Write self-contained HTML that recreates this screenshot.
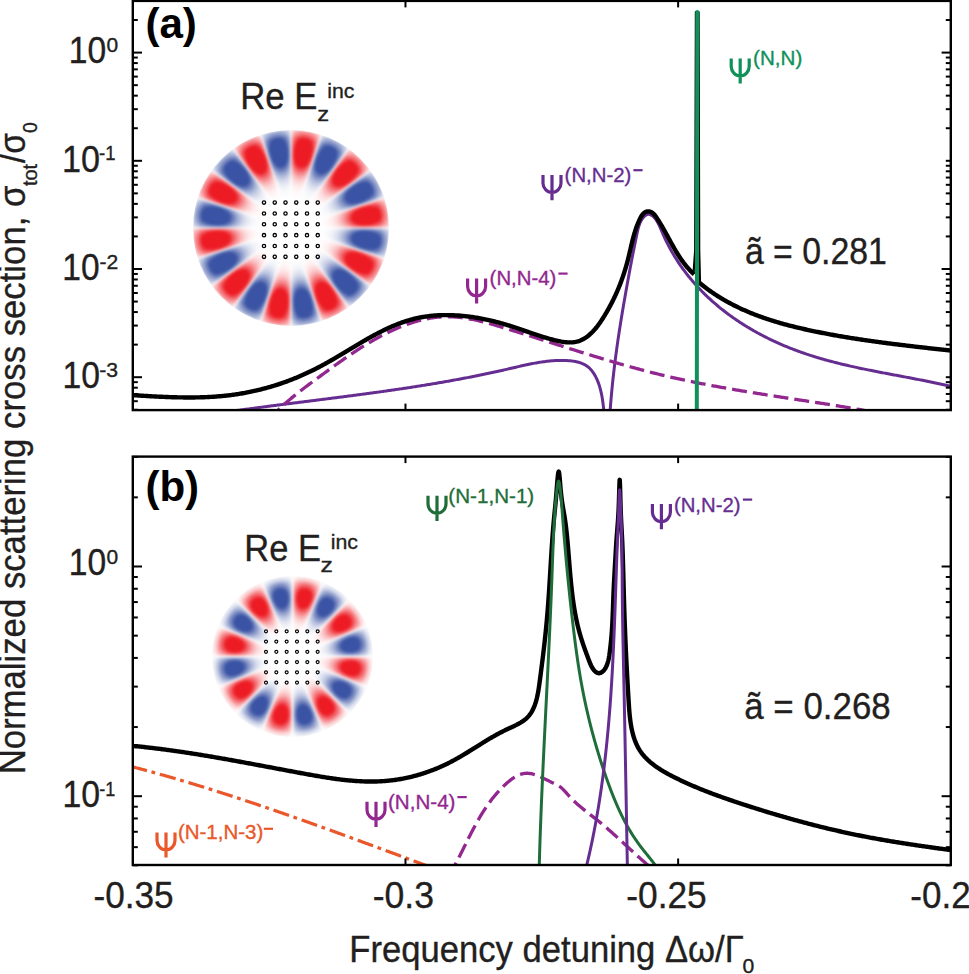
<!DOCTYPE html><html><head><meta charset="utf-8"><style>
html,body{margin:0;padding:0;background:#fff;width:969px;height:974px;overflow:hidden}
.inset{position:absolute;border-radius:50%;overflow:hidden}
svg{position:absolute;left:0;top:0}
text{font-family:"Liberation Sans",sans-serif}
</style></head><body>
<svg width="0" height="0" style="position:absolute"><defs><filter id="sata" x="0" y="0" width="1" height="1" color-interpolation-filters="sRGB"><feComponentTransfer><feFuncA type="linear" slope="1.45"/></feComponentTransfer><feGaussianBlur stdDeviation="0.8"/></filter><filter id="satb" x="0" y="0" width="1" height="1" color-interpolation-filters="sRGB"><feComponentTransfer><feFuncA type="linear" slope="1.35"/></feComponentTransfer><feGaussianBlur stdDeviation="0.8"/></filter></defs></svg>
<div class="inset" style="left:193.10px;top:130.40px;width:195.60px;height:195.60px;filter:url(#sata);-webkit-mask-image:radial-gradient(circle closest-side, rgba(0,0,0,1) 0%, rgba(0,0,0,1.000) 90.0%,rgba(0,0,0,0.998) 90.5%,rgba(0,0,0,0.992) 91.0%,rgba(0,0,0,0.982) 91.5%,rgba(0,0,0,0.969) 92.0%,rgba(0,0,0,0.953) 92.5%,rgba(0,0,0,0.935) 93.0%,rgba(0,0,0,0.915) 93.5%,rgba(0,0,0,0.894) 94.0%,rgba(0,0,0,0.872) 94.5%,rgba(0,0,0,0.850) 95.0%,rgba(0,0,0,0.828) 95.5%,rgba(0,0,0,0.806) 96.0%,rgba(0,0,0,0.785) 96.5%,rgba(0,0,0,0.765) 97.0%,rgba(0,0,0,0.747) 97.5%,rgba(0,0,0,0.731) 98.0%,rgba(0,0,0,0.718) 98.5%,rgba(0,0,0,0.708) 99.0%,rgba(0,0,0,0.702) 99.5%,rgba(0,0,0,0.700) 100.0%);mask-image:radial-gradient(circle closest-side, rgba(0,0,0,1) 0%, rgba(0,0,0,1.000) 90.0%,rgba(0,0,0,0.998) 90.5%,rgba(0,0,0,0.992) 91.0%,rgba(0,0,0,0.982) 91.5%,rgba(0,0,0,0.969) 92.0%,rgba(0,0,0,0.953) 92.5%,rgba(0,0,0,0.935) 93.0%,rgba(0,0,0,0.915) 93.5%,rgba(0,0,0,0.894) 94.0%,rgba(0,0,0,0.872) 94.5%,rgba(0,0,0,0.850) 95.0%,rgba(0,0,0,0.828) 95.5%,rgba(0,0,0,0.806) 96.0%,rgba(0,0,0,0.785) 96.5%,rgba(0,0,0,0.765) 97.0%,rgba(0,0,0,0.747) 97.5%,rgba(0,0,0,0.731) 98.0%,rgba(0,0,0,0.718) 98.5%,rgba(0,0,0,0.708) 99.0%,rgba(0,0,0,0.702) 99.5%,rgba(0,0,0,0.700) 100.0%)"><div style="width:100%;height:100%;background:conic-gradient(from 0deg, rgba(237,28,36,0.000) 0.00deg,rgba(237,28,36,0.295) 0.50deg,rgba(237,28,36,0.417) 1.00deg,rgba(237,28,36,0.509) 1.50deg,rgba(237,28,36,0.585) 2.00deg,rgba(237,28,36,0.650) 2.50deg,rgba(237,28,36,0.707) 3.00deg,rgba(237,28,36,0.757) 3.50deg,rgba(237,28,36,0.802) 4.00deg,rgba(237,28,36,0.841) 4.50deg,rgba(237,28,36,0.875) 5.00deg,rgba(237,28,36,0.905) 5.50deg,rgba(237,28,36,0.931) 6.00deg,rgba(237,28,36,0.952) 6.50deg,rgba(237,28,36,0.969) 7.00deg,rgba(237,28,36,0.983) 7.50deg,rgba(237,28,36,0.992) 8.00deg,rgba(237,28,36,0.998) 8.50deg,rgba(237,28,36,1.000) 9.00deg,rgba(237,28,36,0.998) 9.50deg,rgba(237,28,36,0.992) 10.00deg,rgba(237,28,36,0.983) 10.50deg,rgba(237,28,36,0.969) 11.00deg,rgba(237,28,36,0.952) 11.50deg,rgba(237,28,36,0.931) 12.00deg,rgba(237,28,36,0.905) 12.50deg,rgba(237,28,36,0.875) 13.00deg,rgba(237,28,36,0.841) 13.50deg,rgba(237,28,36,0.802) 14.00deg,rgba(237,28,36,0.757) 14.50deg,rgba(237,28,36,0.707) 15.00deg,rgba(237,28,36,0.650) 15.50deg,rgba(237,28,36,0.585) 16.00deg,rgba(237,28,36,0.509) 16.50deg,rgba(237,28,36,0.417) 17.00deg,rgba(237,28,36,0.295) 17.50deg,rgba(58,83,164,0.000) 18.00deg,rgba(58,83,164,0.295) 18.50deg,rgba(58,83,164,0.417) 19.00deg,rgba(58,83,164,0.509) 19.50deg,rgba(58,83,164,0.585) 20.00deg,rgba(58,83,164,0.650) 20.50deg,rgba(58,83,164,0.707) 21.00deg,rgba(58,83,164,0.757) 21.50deg,rgba(58,83,164,0.802) 22.00deg,rgba(58,83,164,0.841) 22.50deg,rgba(58,83,164,0.875) 23.00deg,rgba(58,83,164,0.905) 23.50deg,rgba(58,83,164,0.931) 24.00deg,rgba(58,83,164,0.952) 24.50deg,rgba(58,83,164,0.969) 25.00deg,rgba(58,83,164,0.983) 25.50deg,rgba(58,83,164,0.992) 26.00deg,rgba(58,83,164,0.998) 26.50deg,rgba(58,83,164,1.000) 27.00deg,rgba(58,83,164,0.998) 27.50deg,rgba(58,83,164,0.992) 28.00deg,rgba(58,83,164,0.983) 28.50deg,rgba(58,83,164,0.969) 29.00deg,rgba(58,83,164,0.952) 29.50deg,rgba(58,83,164,0.931) 30.00deg,rgba(58,83,164,0.905) 30.50deg,rgba(58,83,164,0.875) 31.00deg,rgba(58,83,164,0.841) 31.50deg,rgba(58,83,164,0.802) 32.00deg,rgba(58,83,164,0.757) 32.50deg,rgba(58,83,164,0.707) 33.00deg,rgba(58,83,164,0.650) 33.50deg,rgba(58,83,164,0.585) 34.00deg,rgba(58,83,164,0.509) 34.50deg,rgba(58,83,164,0.417) 35.00deg,rgba(58,83,164,0.295) 35.50deg,rgba(237,28,36,0.000) 36.00deg,rgba(237,28,36,0.295) 36.50deg,rgba(237,28,36,0.417) 37.00deg,rgba(237,28,36,0.509) 37.50deg,rgba(237,28,36,0.585) 38.00deg,rgba(237,28,36,0.650) 38.50deg,rgba(237,28,36,0.707) 39.00deg,rgba(237,28,36,0.757) 39.50deg,rgba(237,28,36,0.802) 40.00deg,rgba(237,28,36,0.841) 40.50deg,rgba(237,28,36,0.875) 41.00deg,rgba(237,28,36,0.905) 41.50deg,rgba(237,28,36,0.931) 42.00deg,rgba(237,28,36,0.952) 42.50deg,rgba(237,28,36,0.969) 43.00deg,rgba(237,28,36,0.983) 43.50deg,rgba(237,28,36,0.992) 44.00deg,rgba(237,28,36,0.998) 44.50deg,rgba(237,28,36,1.000) 45.00deg,rgba(237,28,36,0.998) 45.50deg,rgba(237,28,36,0.992) 46.00deg,rgba(237,28,36,0.983) 46.50deg,rgba(237,28,36,0.969) 47.00deg,rgba(237,28,36,0.952) 47.50deg,rgba(237,28,36,0.931) 48.00deg,rgba(237,28,36,0.905) 48.50deg,rgba(237,28,36,0.875) 49.00deg,rgba(237,28,36,0.841) 49.50deg,rgba(237,28,36,0.802) 50.00deg,rgba(237,28,36,0.757) 50.50deg,rgba(237,28,36,0.707) 51.00deg,rgba(237,28,36,0.650) 51.50deg,rgba(237,28,36,0.585) 52.00deg,rgba(237,28,36,0.509) 52.50deg,rgba(237,28,36,0.417) 53.00deg,rgba(237,28,36,0.295) 53.50deg,rgba(58,83,164,0.000) 54.00deg,rgba(58,83,164,0.295) 54.50deg,rgba(58,83,164,0.417) 55.00deg,rgba(58,83,164,0.509) 55.50deg,rgba(58,83,164,0.585) 56.00deg,rgba(58,83,164,0.650) 56.50deg,rgba(58,83,164,0.707) 57.00deg,rgba(58,83,164,0.757) 57.50deg,rgba(58,83,164,0.802) 58.00deg,rgba(58,83,164,0.841) 58.50deg,rgba(58,83,164,0.875) 59.00deg,rgba(58,83,164,0.905) 59.50deg,rgba(58,83,164,0.931) 60.00deg,rgba(58,83,164,0.952) 60.50deg,rgba(58,83,164,0.969) 61.00deg,rgba(58,83,164,0.983) 61.50deg,rgba(58,83,164,0.992) 62.00deg,rgba(58,83,164,0.998) 62.50deg,rgba(58,83,164,1.000) 63.00deg,rgba(58,83,164,0.998) 63.50deg,rgba(58,83,164,0.992) 64.00deg,rgba(58,83,164,0.983) 64.50deg,rgba(58,83,164,0.969) 65.00deg,rgba(58,83,164,0.952) 65.50deg,rgba(58,83,164,0.931) 66.00deg,rgba(58,83,164,0.905) 66.50deg,rgba(58,83,164,0.875) 67.00deg,rgba(58,83,164,0.841) 67.50deg,rgba(58,83,164,0.802) 68.00deg,rgba(58,83,164,0.757) 68.50deg,rgba(58,83,164,0.707) 69.00deg,rgba(58,83,164,0.650) 69.50deg,rgba(58,83,164,0.585) 70.00deg,rgba(58,83,164,0.509) 70.50deg,rgba(58,83,164,0.417) 71.00deg,rgba(58,83,164,0.295) 71.50deg,rgba(237,28,36,0.000) 72.00deg,rgba(237,28,36,0.295) 72.50deg,rgba(237,28,36,0.417) 73.00deg,rgba(237,28,36,0.509) 73.50deg,rgba(237,28,36,0.585) 74.00deg,rgba(237,28,36,0.650) 74.50deg,rgba(237,28,36,0.707) 75.00deg,rgba(237,28,36,0.757) 75.50deg,rgba(237,28,36,0.802) 76.00deg,rgba(237,28,36,0.841) 76.50deg,rgba(237,28,36,0.875) 77.00deg,rgba(237,28,36,0.905) 77.50deg,rgba(237,28,36,0.931) 78.00deg,rgba(237,28,36,0.952) 78.50deg,rgba(237,28,36,0.969) 79.00deg,rgba(237,28,36,0.983) 79.50deg,rgba(237,28,36,0.992) 80.00deg,rgba(237,28,36,0.998) 80.50deg,rgba(237,28,36,1.000) 81.00deg,rgba(237,28,36,0.998) 81.50deg,rgba(237,28,36,0.992) 82.00deg,rgba(237,28,36,0.983) 82.50deg,rgba(237,28,36,0.969) 83.00deg,rgba(237,28,36,0.952) 83.50deg,rgba(237,28,36,0.931) 84.00deg,rgba(237,28,36,0.905) 84.50deg,rgba(237,28,36,0.875) 85.00deg,rgba(237,28,36,0.841) 85.50deg,rgba(237,28,36,0.802) 86.00deg,rgba(237,28,36,0.757) 86.50deg,rgba(237,28,36,0.707) 87.00deg,rgba(237,28,36,0.650) 87.50deg,rgba(237,28,36,0.585) 88.00deg,rgba(237,28,36,0.509) 88.50deg,rgba(237,28,36,0.417) 89.00deg,rgba(237,28,36,0.295) 89.50deg,rgba(237,28,36,0.000) 90.00deg,rgba(58,83,164,0.295) 90.50deg,rgba(58,83,164,0.417) 91.00deg,rgba(58,83,164,0.509) 91.50deg,rgba(58,83,164,0.585) 92.00deg,rgba(58,83,164,0.650) 92.50deg,rgba(58,83,164,0.707) 93.00deg,rgba(58,83,164,0.757) 93.50deg,rgba(58,83,164,0.802) 94.00deg,rgba(58,83,164,0.841) 94.50deg,rgba(58,83,164,0.875) 95.00deg,rgba(58,83,164,0.905) 95.50deg,rgba(58,83,164,0.931) 96.00deg,rgba(58,83,164,0.952) 96.50deg,rgba(58,83,164,0.969) 97.00deg,rgba(58,83,164,0.983) 97.50deg,rgba(58,83,164,0.992) 98.00deg,rgba(58,83,164,0.998) 98.50deg,rgba(58,83,164,1.000) 99.00deg,rgba(58,83,164,0.998) 99.50deg,rgba(58,83,164,0.992) 100.00deg,rgba(58,83,164,0.983) 100.50deg,rgba(58,83,164,0.969) 101.00deg,rgba(58,83,164,0.952) 101.50deg,rgba(58,83,164,0.931) 102.00deg,rgba(58,83,164,0.905) 102.50deg,rgba(58,83,164,0.875) 103.00deg,rgba(58,83,164,0.841) 103.50deg,rgba(58,83,164,0.802) 104.00deg,rgba(58,83,164,0.757) 104.50deg,rgba(58,83,164,0.707) 105.00deg,rgba(58,83,164,0.650) 105.50deg,rgba(58,83,164,0.585) 106.00deg,rgba(58,83,164,0.509) 106.50deg,rgba(58,83,164,0.417) 107.00deg,rgba(58,83,164,0.295) 107.50deg,rgba(58,83,164,0.000) 108.00deg,rgba(237,28,36,0.295) 108.50deg,rgba(237,28,36,0.417) 109.00deg,rgba(237,28,36,0.509) 109.50deg,rgba(237,28,36,0.585) 110.00deg,rgba(237,28,36,0.650) 110.50deg,rgba(237,28,36,0.707) 111.00deg,rgba(237,28,36,0.757) 111.50deg,rgba(237,28,36,0.802) 112.00deg,rgba(237,28,36,0.841) 112.50deg,rgba(237,28,36,0.875) 113.00deg,rgba(237,28,36,0.905) 113.50deg,rgba(237,28,36,0.931) 114.00deg,rgba(237,28,36,0.952) 114.50deg,rgba(237,28,36,0.969) 115.00deg,rgba(237,28,36,0.983) 115.50deg,rgba(237,28,36,0.992) 116.00deg,rgba(237,28,36,0.998) 116.50deg,rgba(237,28,36,1.000) 117.00deg,rgba(237,28,36,0.998) 117.50deg,rgba(237,28,36,0.992) 118.00deg,rgba(237,28,36,0.983) 118.50deg,rgba(237,28,36,0.969) 119.00deg,rgba(237,28,36,0.952) 119.50deg,rgba(237,28,36,0.931) 120.00deg,rgba(237,28,36,0.905) 120.50deg,rgba(237,28,36,0.875) 121.00deg,rgba(237,28,36,0.841) 121.50deg,rgba(237,28,36,0.802) 122.00deg,rgba(237,28,36,0.757) 122.50deg,rgba(237,28,36,0.707) 123.00deg,rgba(237,28,36,0.650) 123.50deg,rgba(237,28,36,0.585) 124.00deg,rgba(237,28,36,0.509) 124.50deg,rgba(237,28,36,0.417) 125.00deg,rgba(237,28,36,0.295) 125.50deg,rgba(237,28,36,0.000) 126.00deg,rgba(58,83,164,0.295) 126.50deg,rgba(58,83,164,0.417) 127.00deg,rgba(58,83,164,0.509) 127.50deg,rgba(58,83,164,0.585) 128.00deg,rgba(58,83,164,0.650) 128.50deg,rgba(58,83,164,0.707) 129.00deg,rgba(58,83,164,0.757) 129.50deg,rgba(58,83,164,0.802) 130.00deg,rgba(58,83,164,0.841) 130.50deg,rgba(58,83,164,0.875) 131.00deg,rgba(58,83,164,0.905) 131.50deg,rgba(58,83,164,0.931) 132.00deg,rgba(58,83,164,0.952) 132.50deg,rgba(58,83,164,0.969) 133.00deg,rgba(58,83,164,0.983) 133.50deg,rgba(58,83,164,0.992) 134.00deg,rgba(58,83,164,0.998) 134.50deg,rgba(58,83,164,1.000) 135.00deg,rgba(58,83,164,0.998) 135.50deg,rgba(58,83,164,0.992) 136.00deg,rgba(58,83,164,0.983) 136.50deg,rgba(58,83,164,0.969) 137.00deg,rgba(58,83,164,0.952) 137.50deg,rgba(58,83,164,0.931) 138.00deg,rgba(58,83,164,0.905) 138.50deg,rgba(58,83,164,0.875) 139.00deg,rgba(58,83,164,0.841) 139.50deg,rgba(58,83,164,0.802) 140.00deg,rgba(58,83,164,0.757) 140.50deg,rgba(58,83,164,0.707) 141.00deg,rgba(58,83,164,0.650) 141.50deg,rgba(58,83,164,0.585) 142.00deg,rgba(58,83,164,0.509) 142.50deg,rgba(58,83,164,0.417) 143.00deg,rgba(58,83,164,0.295) 143.50deg,rgba(58,83,164,0.000) 144.00deg,rgba(237,28,36,0.295) 144.50deg,rgba(237,28,36,0.417) 145.00deg,rgba(237,28,36,0.509) 145.50deg,rgba(237,28,36,0.585) 146.00deg,rgba(237,28,36,0.650) 146.50deg,rgba(237,28,36,0.707) 147.00deg,rgba(237,28,36,0.757) 147.50deg,rgba(237,28,36,0.802) 148.00deg,rgba(237,28,36,0.841) 148.50deg,rgba(237,28,36,0.875) 149.00deg,rgba(237,28,36,0.905) 149.50deg,rgba(237,28,36,0.931) 150.00deg,rgba(237,28,36,0.952) 150.50deg,rgba(237,28,36,0.969) 151.00deg,rgba(237,28,36,0.983) 151.50deg,rgba(237,28,36,0.992) 152.00deg,rgba(237,28,36,0.998) 152.50deg,rgba(237,28,36,1.000) 153.00deg,rgba(237,28,36,0.998) 153.50deg,rgba(237,28,36,0.992) 154.00deg,rgba(237,28,36,0.983) 154.50deg,rgba(237,28,36,0.969) 155.00deg,rgba(237,28,36,0.952) 155.50deg,rgba(237,28,36,0.931) 156.00deg,rgba(237,28,36,0.905) 156.50deg,rgba(237,28,36,0.875) 157.00deg,rgba(237,28,36,0.841) 157.50deg,rgba(237,28,36,0.802) 158.00deg,rgba(237,28,36,0.757) 158.50deg,rgba(237,28,36,0.707) 159.00deg,rgba(237,28,36,0.650) 159.50deg,rgba(237,28,36,0.585) 160.00deg,rgba(237,28,36,0.509) 160.50deg,rgba(237,28,36,0.417) 161.00deg,rgba(237,28,36,0.295) 161.50deg,rgba(237,28,36,0.000) 162.00deg,rgba(58,83,164,0.295) 162.50deg,rgba(58,83,164,0.417) 163.00deg,rgba(58,83,164,0.509) 163.50deg,rgba(58,83,164,0.585) 164.00deg,rgba(58,83,164,0.650) 164.50deg,rgba(58,83,164,0.707) 165.00deg,rgba(58,83,164,0.757) 165.50deg,rgba(58,83,164,0.802) 166.00deg,rgba(58,83,164,0.841) 166.50deg,rgba(58,83,164,0.875) 167.00deg,rgba(58,83,164,0.905) 167.50deg,rgba(58,83,164,0.931) 168.00deg,rgba(58,83,164,0.952) 168.50deg,rgba(58,83,164,0.969) 169.00deg,rgba(58,83,164,0.983) 169.50deg,rgba(58,83,164,0.992) 170.00deg,rgba(58,83,164,0.998) 170.50deg,rgba(58,83,164,1.000) 171.00deg,rgba(58,83,164,0.998) 171.50deg,rgba(58,83,164,0.992) 172.00deg,rgba(58,83,164,0.983) 172.50deg,rgba(58,83,164,0.969) 173.00deg,rgba(58,83,164,0.952) 173.50deg,rgba(58,83,164,0.931) 174.00deg,rgba(58,83,164,0.905) 174.50deg,rgba(58,83,164,0.875) 175.00deg,rgba(58,83,164,0.841) 175.50deg,rgba(58,83,164,0.802) 176.00deg,rgba(58,83,164,0.757) 176.50deg,rgba(58,83,164,0.707) 177.00deg,rgba(58,83,164,0.650) 177.50deg,rgba(58,83,164,0.585) 178.00deg,rgba(58,83,164,0.509) 178.50deg,rgba(58,83,164,0.417) 179.00deg,rgba(58,83,164,0.295) 179.50deg,rgba(58,83,164,0.000) 180.00deg,rgba(237,28,36,0.295) 180.50deg,rgba(237,28,36,0.417) 181.00deg,rgba(237,28,36,0.509) 181.50deg,rgba(237,28,36,0.585) 182.00deg,rgba(237,28,36,0.650) 182.50deg,rgba(237,28,36,0.707) 183.00deg,rgba(237,28,36,0.757) 183.50deg,rgba(237,28,36,0.802) 184.00deg,rgba(237,28,36,0.841) 184.50deg,rgba(237,28,36,0.875) 185.00deg,rgba(237,28,36,0.905) 185.50deg,rgba(237,28,36,0.931) 186.00deg,rgba(237,28,36,0.952) 186.50deg,rgba(237,28,36,0.969) 187.00deg,rgba(237,28,36,0.983) 187.50deg,rgba(237,28,36,0.992) 188.00deg,rgba(237,28,36,0.998) 188.50deg,rgba(237,28,36,1.000) 189.00deg,rgba(237,28,36,0.998) 189.50deg,rgba(237,28,36,0.992) 190.00deg,rgba(237,28,36,0.983) 190.50deg,rgba(237,28,36,0.969) 191.00deg,rgba(237,28,36,0.952) 191.50deg,rgba(237,28,36,0.931) 192.00deg,rgba(237,28,36,0.905) 192.50deg,rgba(237,28,36,0.875) 193.00deg,rgba(237,28,36,0.841) 193.50deg,rgba(237,28,36,0.802) 194.00deg,rgba(237,28,36,0.757) 194.50deg,rgba(237,28,36,0.707) 195.00deg,rgba(237,28,36,0.650) 195.50deg,rgba(237,28,36,0.585) 196.00deg,rgba(237,28,36,0.509) 196.50deg,rgba(237,28,36,0.417) 197.00deg,rgba(237,28,36,0.295) 197.50deg,rgba(237,28,36,0.000) 198.00deg,rgba(58,83,164,0.295) 198.50deg,rgba(58,83,164,0.417) 199.00deg,rgba(58,83,164,0.509) 199.50deg,rgba(58,83,164,0.585) 200.00deg,rgba(58,83,164,0.650) 200.50deg,rgba(58,83,164,0.707) 201.00deg,rgba(58,83,164,0.757) 201.50deg,rgba(58,83,164,0.802) 202.00deg,rgba(58,83,164,0.841) 202.50deg,rgba(58,83,164,0.875) 203.00deg,rgba(58,83,164,0.905) 203.50deg,rgba(58,83,164,0.931) 204.00deg,rgba(58,83,164,0.952) 204.50deg,rgba(58,83,164,0.969) 205.00deg,rgba(58,83,164,0.983) 205.50deg,rgba(58,83,164,0.992) 206.00deg,rgba(58,83,164,0.998) 206.50deg,rgba(58,83,164,1.000) 207.00deg,rgba(58,83,164,0.998) 207.50deg,rgba(58,83,164,0.992) 208.00deg,rgba(58,83,164,0.983) 208.50deg,rgba(58,83,164,0.969) 209.00deg,rgba(58,83,164,0.952) 209.50deg,rgba(58,83,164,0.931) 210.00deg,rgba(58,83,164,0.905) 210.50deg,rgba(58,83,164,0.875) 211.00deg,rgba(58,83,164,0.841) 211.50deg,rgba(58,83,164,0.802) 212.00deg,rgba(58,83,164,0.757) 212.50deg,rgba(58,83,164,0.707) 213.00deg,rgba(58,83,164,0.650) 213.50deg,rgba(58,83,164,0.585) 214.00deg,rgba(58,83,164,0.509) 214.50deg,rgba(58,83,164,0.417) 215.00deg,rgba(58,83,164,0.295) 215.50deg,rgba(58,83,164,0.000) 216.00deg,rgba(237,28,36,0.295) 216.50deg,rgba(237,28,36,0.417) 217.00deg,rgba(237,28,36,0.509) 217.50deg,rgba(237,28,36,0.585) 218.00deg,rgba(237,28,36,0.650) 218.50deg,rgba(237,28,36,0.707) 219.00deg,rgba(237,28,36,0.757) 219.50deg,rgba(237,28,36,0.802) 220.00deg,rgba(237,28,36,0.841) 220.50deg,rgba(237,28,36,0.875) 221.00deg,rgba(237,28,36,0.905) 221.50deg,rgba(237,28,36,0.931) 222.00deg,rgba(237,28,36,0.952) 222.50deg,rgba(237,28,36,0.969) 223.00deg,rgba(237,28,36,0.983) 223.50deg,rgba(237,28,36,0.992) 224.00deg,rgba(237,28,36,0.998) 224.50deg,rgba(237,28,36,1.000) 225.00deg,rgba(237,28,36,0.998) 225.50deg,rgba(237,28,36,0.992) 226.00deg,rgba(237,28,36,0.983) 226.50deg,rgba(237,28,36,0.969) 227.00deg,rgba(237,28,36,0.952) 227.50deg,rgba(237,28,36,0.931) 228.00deg,rgba(237,28,36,0.905) 228.50deg,rgba(237,28,36,0.875) 229.00deg,rgba(237,28,36,0.841) 229.50deg,rgba(237,28,36,0.802) 230.00deg,rgba(237,28,36,0.757) 230.50deg,rgba(237,28,36,0.707) 231.00deg,rgba(237,28,36,0.650) 231.50deg,rgba(237,28,36,0.585) 232.00deg,rgba(237,28,36,0.509) 232.50deg,rgba(237,28,36,0.417) 233.00deg,rgba(237,28,36,0.295) 233.50deg,rgba(237,28,36,0.000) 234.00deg,rgba(58,83,164,0.295) 234.50deg,rgba(58,83,164,0.417) 235.00deg,rgba(58,83,164,0.509) 235.50deg,rgba(58,83,164,0.585) 236.00deg,rgba(58,83,164,0.650) 236.50deg,rgba(58,83,164,0.707) 237.00deg,rgba(58,83,164,0.757) 237.50deg,rgba(58,83,164,0.802) 238.00deg,rgba(58,83,164,0.841) 238.50deg,rgba(58,83,164,0.875) 239.00deg,rgba(58,83,164,0.905) 239.50deg,rgba(58,83,164,0.931) 240.00deg,rgba(58,83,164,0.952) 240.50deg,rgba(58,83,164,0.969) 241.00deg,rgba(58,83,164,0.983) 241.50deg,rgba(58,83,164,0.992) 242.00deg,rgba(58,83,164,0.998) 242.50deg,rgba(58,83,164,1.000) 243.00deg,rgba(58,83,164,0.998) 243.50deg,rgba(58,83,164,0.992) 244.00deg,rgba(58,83,164,0.983) 244.50deg,rgba(58,83,164,0.969) 245.00deg,rgba(58,83,164,0.952) 245.50deg,rgba(58,83,164,0.931) 246.00deg,rgba(58,83,164,0.905) 246.50deg,rgba(58,83,164,0.875) 247.00deg,rgba(58,83,164,0.841) 247.50deg,rgba(58,83,164,0.802) 248.00deg,rgba(58,83,164,0.757) 248.50deg,rgba(58,83,164,0.707) 249.00deg,rgba(58,83,164,0.650) 249.50deg,rgba(58,83,164,0.585) 250.00deg,rgba(58,83,164,0.509) 250.50deg,rgba(58,83,164,0.417) 251.00deg,rgba(58,83,164,0.295) 251.50deg,rgba(58,83,164,0.000) 252.00deg,rgba(237,28,36,0.295) 252.50deg,rgba(237,28,36,0.417) 253.00deg,rgba(237,28,36,0.509) 253.50deg,rgba(237,28,36,0.585) 254.00deg,rgba(237,28,36,0.650) 254.50deg,rgba(237,28,36,0.707) 255.00deg,rgba(237,28,36,0.757) 255.50deg,rgba(237,28,36,0.802) 256.00deg,rgba(237,28,36,0.841) 256.50deg,rgba(237,28,36,0.875) 257.00deg,rgba(237,28,36,0.905) 257.50deg,rgba(237,28,36,0.931) 258.00deg,rgba(237,28,36,0.952) 258.50deg,rgba(237,28,36,0.969) 259.00deg,rgba(237,28,36,0.983) 259.50deg,rgba(237,28,36,0.992) 260.00deg,rgba(237,28,36,0.998) 260.50deg,rgba(237,28,36,1.000) 261.00deg,rgba(237,28,36,0.998) 261.50deg,rgba(237,28,36,0.992) 262.00deg,rgba(237,28,36,0.983) 262.50deg,rgba(237,28,36,0.969) 263.00deg,rgba(237,28,36,0.952) 263.50deg,rgba(237,28,36,0.931) 264.00deg,rgba(237,28,36,0.905) 264.50deg,rgba(237,28,36,0.875) 265.00deg,rgba(237,28,36,0.841) 265.50deg,rgba(237,28,36,0.802) 266.00deg,rgba(237,28,36,0.757) 266.50deg,rgba(237,28,36,0.707) 267.00deg,rgba(237,28,36,0.650) 267.50deg,rgba(237,28,36,0.585) 268.00deg,rgba(237,28,36,0.509) 268.50deg,rgba(237,28,36,0.417) 269.00deg,rgba(237,28,36,0.295) 269.50deg,rgba(237,28,36,0.000) 270.00deg,rgba(58,83,164,0.295) 270.50deg,rgba(58,83,164,0.417) 271.00deg,rgba(58,83,164,0.509) 271.50deg,rgba(58,83,164,0.585) 272.00deg,rgba(58,83,164,0.650) 272.50deg,rgba(58,83,164,0.707) 273.00deg,rgba(58,83,164,0.757) 273.50deg,rgba(58,83,164,0.802) 274.00deg,rgba(58,83,164,0.841) 274.50deg,rgba(58,83,164,0.875) 275.00deg,rgba(58,83,164,0.905) 275.50deg,rgba(58,83,164,0.931) 276.00deg,rgba(58,83,164,0.952) 276.50deg,rgba(58,83,164,0.969) 277.00deg,rgba(58,83,164,0.983) 277.50deg,rgba(58,83,164,0.992) 278.00deg,rgba(58,83,164,0.998) 278.50deg,rgba(58,83,164,1.000) 279.00deg,rgba(58,83,164,0.998) 279.50deg,rgba(58,83,164,0.992) 280.00deg,rgba(58,83,164,0.983) 280.50deg,rgba(58,83,164,0.969) 281.00deg,rgba(58,83,164,0.952) 281.50deg,rgba(58,83,164,0.931) 282.00deg,rgba(58,83,164,0.905) 282.50deg,rgba(58,83,164,0.875) 283.00deg,rgba(58,83,164,0.841) 283.50deg,rgba(58,83,164,0.802) 284.00deg,rgba(58,83,164,0.757) 284.50deg,rgba(58,83,164,0.707) 285.00deg,rgba(58,83,164,0.650) 285.50deg,rgba(58,83,164,0.585) 286.00deg,rgba(58,83,164,0.509) 286.50deg,rgba(58,83,164,0.417) 287.00deg,rgba(58,83,164,0.295) 287.50deg,rgba(58,83,164,0.000) 288.00deg,rgba(237,28,36,0.295) 288.50deg,rgba(237,28,36,0.417) 289.00deg,rgba(237,28,36,0.509) 289.50deg,rgba(237,28,36,0.585) 290.00deg,rgba(237,28,36,0.650) 290.50deg,rgba(237,28,36,0.707) 291.00deg,rgba(237,28,36,0.757) 291.50deg,rgba(237,28,36,0.802) 292.00deg,rgba(237,28,36,0.841) 292.50deg,rgba(237,28,36,0.875) 293.00deg,rgba(237,28,36,0.905) 293.50deg,rgba(237,28,36,0.931) 294.00deg,rgba(237,28,36,0.952) 294.50deg,rgba(237,28,36,0.969) 295.00deg,rgba(237,28,36,0.983) 295.50deg,rgba(237,28,36,0.992) 296.00deg,rgba(237,28,36,0.998) 296.50deg,rgba(237,28,36,1.000) 297.00deg,rgba(237,28,36,0.998) 297.50deg,rgba(237,28,36,0.992) 298.00deg,rgba(237,28,36,0.983) 298.50deg,rgba(237,28,36,0.969) 299.00deg,rgba(237,28,36,0.952) 299.50deg,rgba(237,28,36,0.931) 300.00deg,rgba(237,28,36,0.905) 300.50deg,rgba(237,28,36,0.875) 301.00deg,rgba(237,28,36,0.841) 301.50deg,rgba(237,28,36,0.802) 302.00deg,rgba(237,28,36,0.757) 302.50deg,rgba(237,28,36,0.707) 303.00deg,rgba(237,28,36,0.650) 303.50deg,rgba(237,28,36,0.585) 304.00deg,rgba(237,28,36,0.509) 304.50deg,rgba(237,28,36,0.417) 305.00deg,rgba(237,28,36,0.295) 305.50deg,rgba(237,28,36,0.000) 306.00deg,rgba(58,83,164,0.295) 306.50deg,rgba(58,83,164,0.417) 307.00deg,rgba(58,83,164,0.509) 307.50deg,rgba(58,83,164,0.585) 308.00deg,rgba(58,83,164,0.650) 308.50deg,rgba(58,83,164,0.707) 309.00deg,rgba(58,83,164,0.757) 309.50deg,rgba(58,83,164,0.802) 310.00deg,rgba(58,83,164,0.841) 310.50deg,rgba(58,83,164,0.875) 311.00deg,rgba(58,83,164,0.905) 311.50deg,rgba(58,83,164,0.931) 312.00deg,rgba(58,83,164,0.952) 312.50deg,rgba(58,83,164,0.969) 313.00deg,rgba(58,83,164,0.983) 313.50deg,rgba(58,83,164,0.992) 314.00deg,rgba(58,83,164,0.998) 314.50deg,rgba(58,83,164,1.000) 315.00deg,rgba(58,83,164,0.998) 315.50deg,rgba(58,83,164,0.992) 316.00deg,rgba(58,83,164,0.983) 316.50deg,rgba(58,83,164,0.969) 317.00deg,rgba(58,83,164,0.952) 317.50deg,rgba(58,83,164,0.931) 318.00deg,rgba(58,83,164,0.905) 318.50deg,rgba(58,83,164,0.875) 319.00deg,rgba(58,83,164,0.841) 319.50deg,rgba(58,83,164,0.802) 320.00deg,rgba(58,83,164,0.757) 320.50deg,rgba(58,83,164,0.707) 321.00deg,rgba(58,83,164,0.650) 321.50deg,rgba(58,83,164,0.585) 322.00deg,rgba(58,83,164,0.509) 322.50deg,rgba(58,83,164,0.417) 323.00deg,rgba(58,83,164,0.295) 323.50deg,rgba(237,28,36,0.000) 324.00deg,rgba(237,28,36,0.295) 324.50deg,rgba(237,28,36,0.417) 325.00deg,rgba(237,28,36,0.509) 325.50deg,rgba(237,28,36,0.585) 326.00deg,rgba(237,28,36,0.650) 326.50deg,rgba(237,28,36,0.707) 327.00deg,rgba(237,28,36,0.757) 327.50deg,rgba(237,28,36,0.802) 328.00deg,rgba(237,28,36,0.841) 328.50deg,rgba(237,28,36,0.875) 329.00deg,rgba(237,28,36,0.905) 329.50deg,rgba(237,28,36,0.931) 330.00deg,rgba(237,28,36,0.952) 330.50deg,rgba(237,28,36,0.969) 331.00deg,rgba(237,28,36,0.983) 331.50deg,rgba(237,28,36,0.992) 332.00deg,rgba(237,28,36,0.998) 332.50deg,rgba(237,28,36,1.000) 333.00deg,rgba(237,28,36,0.998) 333.50deg,rgba(237,28,36,0.992) 334.00deg,rgba(237,28,36,0.983) 334.50deg,rgba(237,28,36,0.969) 335.00deg,rgba(237,28,36,0.952) 335.50deg,rgba(237,28,36,0.931) 336.00deg,rgba(237,28,36,0.905) 336.50deg,rgba(237,28,36,0.875) 337.00deg,rgba(237,28,36,0.841) 337.50deg,rgba(237,28,36,0.802) 338.00deg,rgba(237,28,36,0.757) 338.50deg,rgba(237,28,36,0.707) 339.00deg,rgba(237,28,36,0.650) 339.50deg,rgba(237,28,36,0.585) 340.00deg,rgba(237,28,36,0.509) 340.50deg,rgba(237,28,36,0.417) 341.00deg,rgba(237,28,36,0.295) 341.50deg,rgba(237,28,36,0.000) 342.00deg,rgba(58,83,164,0.295) 342.50deg,rgba(58,83,164,0.417) 343.00deg,rgba(58,83,164,0.509) 343.50deg,rgba(58,83,164,0.585) 344.00deg,rgba(58,83,164,0.650) 344.50deg,rgba(58,83,164,0.707) 345.00deg,rgba(58,83,164,0.757) 345.50deg,rgba(58,83,164,0.802) 346.00deg,rgba(58,83,164,0.841) 346.50deg,rgba(58,83,164,0.875) 347.00deg,rgba(58,83,164,0.905) 347.50deg,rgba(58,83,164,0.931) 348.00deg,rgba(58,83,164,0.952) 348.50deg,rgba(58,83,164,0.969) 349.00deg,rgba(58,83,164,0.983) 349.50deg,rgba(58,83,164,0.992) 350.00deg,rgba(58,83,164,0.998) 350.50deg,rgba(58,83,164,1.000) 351.00deg,rgba(58,83,164,0.998) 351.50deg,rgba(58,83,164,0.992) 352.00deg,rgba(58,83,164,0.983) 352.50deg,rgba(58,83,164,0.969) 353.00deg,rgba(58,83,164,0.952) 353.50deg,rgba(58,83,164,0.931) 354.00deg,rgba(58,83,164,0.905) 354.50deg,rgba(58,83,164,0.875) 355.00deg,rgba(58,83,164,0.841) 355.50deg,rgba(58,83,164,0.802) 356.00deg,rgba(58,83,164,0.757) 356.50deg,rgba(58,83,164,0.707) 357.00deg,rgba(58,83,164,0.650) 357.50deg,rgba(58,83,164,0.585) 358.00deg,rgba(58,83,164,0.509) 358.50deg,rgba(58,83,164,0.417) 359.00deg,rgba(58,83,164,0.295) 359.50deg,rgba(58,83,164,0.000) 360.00deg);-webkit-mask-image:radial-gradient(circle closest-side, rgba(0,0,0,0.000) 0.0%,rgba(0,0,0,0.000) 2.0%,rgba(0,0,0,0.000) 4.0%,rgba(0,0,0,0.000) 6.0%,rgba(0,0,0,0.000) 8.0%,rgba(0,0,0,0.000) 10.0%,rgba(0,0,0,0.000) 12.0%,rgba(0,0,0,0.000) 14.0%,rgba(0,0,0,0.000) 16.0%,rgba(0,0,0,0.000) 18.0%,rgba(0,0,0,0.000) 20.0%,rgba(0,0,0,0.001) 22.0%,rgba(0,0,0,0.001) 24.0%,rgba(0,0,0,0.002) 26.0%,rgba(0,0,0,0.003) 28.0%,rgba(0,0,0,0.005) 30.0%,rgba(0,0,0,0.008) 32.0%,rgba(0,0,0,0.012) 34.0%,rgba(0,0,0,0.018) 36.0%,rgba(0,0,0,0.027) 38.0%,rgba(0,0,0,0.039) 40.0%,rgba(0,0,0,0.056) 42.0%,rgba(0,0,0,0.077) 44.0%,rgba(0,0,0,0.105) 46.0%,rgba(0,0,0,0.141) 48.0%,rgba(0,0,0,0.185) 50.0%,rgba(0,0,0,0.237) 52.0%,rgba(0,0,0,0.298) 54.0%,rgba(0,0,0,0.368) 56.0%,rgba(0,0,0,0.445) 58.0%,rgba(0,0,0,0.527) 60.0%,rgba(0,0,0,0.613) 62.0%,rgba(0,0,0,0.698) 64.0%,rgba(0,0,0,0.779) 66.0%,rgba(0,0,0,0.852) 68.0%,rgba(0,0,0,0.914) 70.0%,rgba(0,0,0,0.961) 72.0%,rgba(0,0,0,0.990) 74.0%,rgba(0,0,0,1.000) 76.0%,rgba(0,0,0,0.994) 78.0%,rgba(0,0,0,0.977) 80.0%,rgba(0,0,0,0.948) 82.0%,rgba(0,0,0,0.910) 84.0%,rgba(0,0,0,0.862) 86.0%,rgba(0,0,0,0.808) 88.0%,rgba(0,0,0,0.748) 90.0%,rgba(0,0,0,0.685) 92.0%,rgba(0,0,0,0.619) 94.0%,rgba(0,0,0,0.553) 96.0%,rgba(0,0,0,0.489) 98.0%,rgba(0,0,0,0.427) 100.0%);mask-image:radial-gradient(circle closest-side, rgba(0,0,0,0.000) 0.0%,rgba(0,0,0,0.000) 2.0%,rgba(0,0,0,0.000) 4.0%,rgba(0,0,0,0.000) 6.0%,rgba(0,0,0,0.000) 8.0%,rgba(0,0,0,0.000) 10.0%,rgba(0,0,0,0.000) 12.0%,rgba(0,0,0,0.000) 14.0%,rgba(0,0,0,0.000) 16.0%,rgba(0,0,0,0.000) 18.0%,rgba(0,0,0,0.000) 20.0%,rgba(0,0,0,0.001) 22.0%,rgba(0,0,0,0.001) 24.0%,rgba(0,0,0,0.002) 26.0%,rgba(0,0,0,0.003) 28.0%,rgba(0,0,0,0.005) 30.0%,rgba(0,0,0,0.008) 32.0%,rgba(0,0,0,0.012) 34.0%,rgba(0,0,0,0.018) 36.0%,rgba(0,0,0,0.027) 38.0%,rgba(0,0,0,0.039) 40.0%,rgba(0,0,0,0.056) 42.0%,rgba(0,0,0,0.077) 44.0%,rgba(0,0,0,0.105) 46.0%,rgba(0,0,0,0.141) 48.0%,rgba(0,0,0,0.185) 50.0%,rgba(0,0,0,0.237) 52.0%,rgba(0,0,0,0.298) 54.0%,rgba(0,0,0,0.368) 56.0%,rgba(0,0,0,0.445) 58.0%,rgba(0,0,0,0.527) 60.0%,rgba(0,0,0,0.613) 62.0%,rgba(0,0,0,0.698) 64.0%,rgba(0,0,0,0.779) 66.0%,rgba(0,0,0,0.852) 68.0%,rgba(0,0,0,0.914) 70.0%,rgba(0,0,0,0.961) 72.0%,rgba(0,0,0,0.990) 74.0%,rgba(0,0,0,1.000) 76.0%,rgba(0,0,0,0.994) 78.0%,rgba(0,0,0,0.977) 80.0%,rgba(0,0,0,0.948) 82.0%,rgba(0,0,0,0.910) 84.0%,rgba(0,0,0,0.862) 86.0%,rgba(0,0,0,0.808) 88.0%,rgba(0,0,0,0.748) 90.0%,rgba(0,0,0,0.685) 92.0%,rgba(0,0,0,0.619) 94.0%,rgba(0,0,0,0.553) 96.0%,rgba(0,0,0,0.489) 98.0%,rgba(0,0,0,0.427) 100.0%)"></div></div>
<div class="inset" style="left:211.80px;top:576.20px;width:161.00px;height:161.00px;filter:url(#satb);-webkit-mask-image:radial-gradient(circle closest-side, rgba(0,0,0,1) 0%, rgba(0,0,0,1.000) 90.0%,rgba(0,0,0,0.996) 90.5%,rgba(0,0,0,0.986) 91.0%,rgba(0,0,0,0.970) 91.5%,rgba(0,0,0,0.948) 92.0%,rgba(0,0,0,0.922) 92.5%,rgba(0,0,0,0.892) 93.0%,rgba(0,0,0,0.859) 93.5%,rgba(0,0,0,0.824) 94.0%,rgba(0,0,0,0.787) 94.5%,rgba(0,0,0,0.750) 95.0%,rgba(0,0,0,0.713) 95.5%,rgba(0,0,0,0.676) 96.0%,rgba(0,0,0,0.641) 96.5%,rgba(0,0,0,0.608) 97.0%,rgba(0,0,0,0.578) 97.5%,rgba(0,0,0,0.552) 98.0%,rgba(0,0,0,0.530) 98.5%,rgba(0,0,0,0.514) 99.0%,rgba(0,0,0,0.504) 99.5%,rgba(0,0,0,0.500) 100.0%);mask-image:radial-gradient(circle closest-side, rgba(0,0,0,1) 0%, rgba(0,0,0,1.000) 90.0%,rgba(0,0,0,0.996) 90.5%,rgba(0,0,0,0.986) 91.0%,rgba(0,0,0,0.970) 91.5%,rgba(0,0,0,0.948) 92.0%,rgba(0,0,0,0.922) 92.5%,rgba(0,0,0,0.892) 93.0%,rgba(0,0,0,0.859) 93.5%,rgba(0,0,0,0.824) 94.0%,rgba(0,0,0,0.787) 94.5%,rgba(0,0,0,0.750) 95.0%,rgba(0,0,0,0.713) 95.5%,rgba(0,0,0,0.676) 96.0%,rgba(0,0,0,0.641) 96.5%,rgba(0,0,0,0.608) 97.0%,rgba(0,0,0,0.578) 97.5%,rgba(0,0,0,0.552) 98.0%,rgba(0,0,0,0.530) 98.5%,rgba(0,0,0,0.514) 99.0%,rgba(0,0,0,0.504) 99.5%,rgba(0,0,0,0.500) 100.0%)"><div style="width:100%;height:100%;background:conic-gradient(from 0deg, rgba(237,28,36,0.000) 0.00deg,rgba(237,28,36,0.177) 0.50deg,rgba(237,28,36,0.278) 1.00deg,rgba(237,28,36,0.360) 1.50deg,rgba(237,28,36,0.433) 2.00deg,rgba(237,28,36,0.498) 2.50deg,rgba(237,28,36,0.557) 3.00deg,rgba(237,28,36,0.612) 3.50deg,rgba(237,28,36,0.662) 4.00deg,rgba(237,28,36,0.708) 4.50deg,rgba(237,28,36,0.750) 5.00deg,rgba(237,28,36,0.789) 5.50deg,rgba(237,28,36,0.825) 6.00deg,rgba(237,28,36,0.857) 6.50deg,rgba(237,28,36,0.885) 7.00deg,rgba(237,28,36,0.911) 7.50deg,rgba(237,28,36,0.933) 8.00deg,rgba(237,28,36,0.952) 8.50deg,rgba(237,28,36,0.968) 9.00deg,rgba(237,28,36,0.981) 9.50deg,rgba(237,28,36,0.990) 10.00deg,rgba(237,28,36,0.996) 10.50deg,rgba(237,28,36,1.000) 11.00deg,rgba(237,28,36,1.000) 11.50deg,rgba(237,28,36,0.996) 12.00deg,rgba(237,28,36,0.990) 12.50deg,rgba(237,28,36,0.981) 13.00deg,rgba(237,28,36,0.968) 13.50deg,rgba(237,28,36,0.952) 14.00deg,rgba(237,28,36,0.933) 14.50deg,rgba(237,28,36,0.911) 15.00deg,rgba(237,28,36,0.885) 15.50deg,rgba(237,28,36,0.857) 16.00deg,rgba(237,28,36,0.825) 16.50deg,rgba(237,28,36,0.789) 17.00deg,rgba(237,28,36,0.750) 17.50deg,rgba(237,28,36,0.708) 18.00deg,rgba(237,28,36,0.662) 18.50deg,rgba(237,28,36,0.612) 19.00deg,rgba(237,28,36,0.557) 19.50deg,rgba(237,28,36,0.498) 20.00deg,rgba(237,28,36,0.433) 20.50deg,rgba(237,28,36,0.360) 21.00deg,rgba(237,28,36,0.278) 21.50deg,rgba(237,28,36,0.177) 22.00deg,rgba(58,83,164,0.000) 22.50deg,rgba(58,83,164,0.177) 23.00deg,rgba(58,83,164,0.278) 23.50deg,rgba(58,83,164,0.360) 24.00deg,rgba(58,83,164,0.433) 24.50deg,rgba(58,83,164,0.498) 25.00deg,rgba(58,83,164,0.557) 25.50deg,rgba(58,83,164,0.612) 26.00deg,rgba(58,83,164,0.662) 26.50deg,rgba(58,83,164,0.708) 27.00deg,rgba(58,83,164,0.750) 27.50deg,rgba(58,83,164,0.789) 28.00deg,rgba(58,83,164,0.825) 28.50deg,rgba(58,83,164,0.857) 29.00deg,rgba(58,83,164,0.885) 29.50deg,rgba(58,83,164,0.911) 30.00deg,rgba(58,83,164,0.933) 30.50deg,rgba(58,83,164,0.952) 31.00deg,rgba(58,83,164,0.968) 31.50deg,rgba(58,83,164,0.981) 32.00deg,rgba(58,83,164,0.990) 32.50deg,rgba(58,83,164,0.996) 33.00deg,rgba(58,83,164,1.000) 33.50deg,rgba(58,83,164,1.000) 34.00deg,rgba(58,83,164,0.996) 34.50deg,rgba(58,83,164,0.990) 35.00deg,rgba(58,83,164,0.981) 35.50deg,rgba(58,83,164,0.968) 36.00deg,rgba(58,83,164,0.952) 36.50deg,rgba(58,83,164,0.933) 37.00deg,rgba(58,83,164,0.911) 37.50deg,rgba(58,83,164,0.885) 38.00deg,rgba(58,83,164,0.857) 38.50deg,rgba(58,83,164,0.825) 39.00deg,rgba(58,83,164,0.789) 39.50deg,rgba(58,83,164,0.750) 40.00deg,rgba(58,83,164,0.708) 40.50deg,rgba(58,83,164,0.662) 41.00deg,rgba(58,83,164,0.612) 41.50deg,rgba(58,83,164,0.557) 42.00deg,rgba(58,83,164,0.498) 42.50deg,rgba(58,83,164,0.433) 43.00deg,rgba(58,83,164,0.360) 43.50deg,rgba(58,83,164,0.278) 44.00deg,rgba(58,83,164,0.177) 44.50deg,rgba(237,28,36,0.000) 45.00deg,rgba(237,28,36,0.177) 45.50deg,rgba(237,28,36,0.278) 46.00deg,rgba(237,28,36,0.360) 46.50deg,rgba(237,28,36,0.433) 47.00deg,rgba(237,28,36,0.498) 47.50deg,rgba(237,28,36,0.557) 48.00deg,rgba(237,28,36,0.612) 48.50deg,rgba(237,28,36,0.662) 49.00deg,rgba(237,28,36,0.708) 49.50deg,rgba(237,28,36,0.750) 50.00deg,rgba(237,28,36,0.789) 50.50deg,rgba(237,28,36,0.825) 51.00deg,rgba(237,28,36,0.857) 51.50deg,rgba(237,28,36,0.885) 52.00deg,rgba(237,28,36,0.911) 52.50deg,rgba(237,28,36,0.933) 53.00deg,rgba(237,28,36,0.952) 53.50deg,rgba(237,28,36,0.968) 54.00deg,rgba(237,28,36,0.981) 54.50deg,rgba(237,28,36,0.990) 55.00deg,rgba(237,28,36,0.996) 55.50deg,rgba(237,28,36,1.000) 56.00deg,rgba(237,28,36,1.000) 56.50deg,rgba(237,28,36,0.996) 57.00deg,rgba(237,28,36,0.990) 57.50deg,rgba(237,28,36,0.981) 58.00deg,rgba(237,28,36,0.968) 58.50deg,rgba(237,28,36,0.952) 59.00deg,rgba(237,28,36,0.933) 59.50deg,rgba(237,28,36,0.911) 60.00deg,rgba(237,28,36,0.885) 60.50deg,rgba(237,28,36,0.857) 61.00deg,rgba(237,28,36,0.825) 61.50deg,rgba(237,28,36,0.789) 62.00deg,rgba(237,28,36,0.750) 62.50deg,rgba(237,28,36,0.708) 63.00deg,rgba(237,28,36,0.662) 63.50deg,rgba(237,28,36,0.612) 64.00deg,rgba(237,28,36,0.557) 64.50deg,rgba(237,28,36,0.498) 65.00deg,rgba(237,28,36,0.433) 65.50deg,rgba(237,28,36,0.360) 66.00deg,rgba(237,28,36,0.278) 66.50deg,rgba(237,28,36,0.177) 67.00deg,rgba(58,83,164,0.000) 67.50deg,rgba(58,83,164,0.177) 68.00deg,rgba(58,83,164,0.278) 68.50deg,rgba(58,83,164,0.360) 69.00deg,rgba(58,83,164,0.433) 69.50deg,rgba(58,83,164,0.498) 70.00deg,rgba(58,83,164,0.557) 70.50deg,rgba(58,83,164,0.612) 71.00deg,rgba(58,83,164,0.662) 71.50deg,rgba(58,83,164,0.708) 72.00deg,rgba(58,83,164,0.750) 72.50deg,rgba(58,83,164,0.789) 73.00deg,rgba(58,83,164,0.825) 73.50deg,rgba(58,83,164,0.857) 74.00deg,rgba(58,83,164,0.885) 74.50deg,rgba(58,83,164,0.911) 75.00deg,rgba(58,83,164,0.933) 75.50deg,rgba(58,83,164,0.952) 76.00deg,rgba(58,83,164,0.968) 76.50deg,rgba(58,83,164,0.981) 77.00deg,rgba(58,83,164,0.990) 77.50deg,rgba(58,83,164,0.996) 78.00deg,rgba(58,83,164,1.000) 78.50deg,rgba(58,83,164,1.000) 79.00deg,rgba(58,83,164,0.996) 79.50deg,rgba(58,83,164,0.990) 80.00deg,rgba(58,83,164,0.981) 80.50deg,rgba(58,83,164,0.968) 81.00deg,rgba(58,83,164,0.952) 81.50deg,rgba(58,83,164,0.933) 82.00deg,rgba(58,83,164,0.911) 82.50deg,rgba(58,83,164,0.885) 83.00deg,rgba(58,83,164,0.857) 83.50deg,rgba(58,83,164,0.825) 84.00deg,rgba(58,83,164,0.789) 84.50deg,rgba(58,83,164,0.750) 85.00deg,rgba(58,83,164,0.708) 85.50deg,rgba(58,83,164,0.662) 86.00deg,rgba(58,83,164,0.612) 86.50deg,rgba(58,83,164,0.557) 87.00deg,rgba(58,83,164,0.498) 87.50deg,rgba(58,83,164,0.433) 88.00deg,rgba(58,83,164,0.360) 88.50deg,rgba(58,83,164,0.278) 89.00deg,rgba(58,83,164,0.177) 89.50deg,rgba(237,28,36,0.000) 90.00deg,rgba(237,28,36,0.177) 90.50deg,rgba(237,28,36,0.278) 91.00deg,rgba(237,28,36,0.360) 91.50deg,rgba(237,28,36,0.433) 92.00deg,rgba(237,28,36,0.498) 92.50deg,rgba(237,28,36,0.557) 93.00deg,rgba(237,28,36,0.612) 93.50deg,rgba(237,28,36,0.662) 94.00deg,rgba(237,28,36,0.708) 94.50deg,rgba(237,28,36,0.750) 95.00deg,rgba(237,28,36,0.789) 95.50deg,rgba(237,28,36,0.825) 96.00deg,rgba(237,28,36,0.857) 96.50deg,rgba(237,28,36,0.885) 97.00deg,rgba(237,28,36,0.911) 97.50deg,rgba(237,28,36,0.933) 98.00deg,rgba(237,28,36,0.952) 98.50deg,rgba(237,28,36,0.968) 99.00deg,rgba(237,28,36,0.981) 99.50deg,rgba(237,28,36,0.990) 100.00deg,rgba(237,28,36,0.996) 100.50deg,rgba(237,28,36,1.000) 101.00deg,rgba(237,28,36,1.000) 101.50deg,rgba(237,28,36,0.996) 102.00deg,rgba(237,28,36,0.990) 102.50deg,rgba(237,28,36,0.981) 103.00deg,rgba(237,28,36,0.968) 103.50deg,rgba(237,28,36,0.952) 104.00deg,rgba(237,28,36,0.933) 104.50deg,rgba(237,28,36,0.911) 105.00deg,rgba(237,28,36,0.885) 105.50deg,rgba(237,28,36,0.857) 106.00deg,rgba(237,28,36,0.825) 106.50deg,rgba(237,28,36,0.789) 107.00deg,rgba(237,28,36,0.750) 107.50deg,rgba(237,28,36,0.708) 108.00deg,rgba(237,28,36,0.662) 108.50deg,rgba(237,28,36,0.612) 109.00deg,rgba(237,28,36,0.557) 109.50deg,rgba(237,28,36,0.498) 110.00deg,rgba(237,28,36,0.433) 110.50deg,rgba(237,28,36,0.360) 111.00deg,rgba(237,28,36,0.278) 111.50deg,rgba(237,28,36,0.177) 112.00deg,rgba(237,28,36,0.000) 112.50deg,rgba(58,83,164,0.177) 113.00deg,rgba(58,83,164,0.278) 113.50deg,rgba(58,83,164,0.360) 114.00deg,rgba(58,83,164,0.433) 114.50deg,rgba(58,83,164,0.498) 115.00deg,rgba(58,83,164,0.557) 115.50deg,rgba(58,83,164,0.612) 116.00deg,rgba(58,83,164,0.662) 116.50deg,rgba(58,83,164,0.708) 117.00deg,rgba(58,83,164,0.750) 117.50deg,rgba(58,83,164,0.789) 118.00deg,rgba(58,83,164,0.825) 118.50deg,rgba(58,83,164,0.857) 119.00deg,rgba(58,83,164,0.885) 119.50deg,rgba(58,83,164,0.911) 120.00deg,rgba(58,83,164,0.933) 120.50deg,rgba(58,83,164,0.952) 121.00deg,rgba(58,83,164,0.968) 121.50deg,rgba(58,83,164,0.981) 122.00deg,rgba(58,83,164,0.990) 122.50deg,rgba(58,83,164,0.996) 123.00deg,rgba(58,83,164,1.000) 123.50deg,rgba(58,83,164,1.000) 124.00deg,rgba(58,83,164,0.996) 124.50deg,rgba(58,83,164,0.990) 125.00deg,rgba(58,83,164,0.981) 125.50deg,rgba(58,83,164,0.968) 126.00deg,rgba(58,83,164,0.952) 126.50deg,rgba(58,83,164,0.933) 127.00deg,rgba(58,83,164,0.911) 127.50deg,rgba(58,83,164,0.885) 128.00deg,rgba(58,83,164,0.857) 128.50deg,rgba(58,83,164,0.825) 129.00deg,rgba(58,83,164,0.789) 129.50deg,rgba(58,83,164,0.750) 130.00deg,rgba(58,83,164,0.708) 130.50deg,rgba(58,83,164,0.662) 131.00deg,rgba(58,83,164,0.612) 131.50deg,rgba(58,83,164,0.557) 132.00deg,rgba(58,83,164,0.498) 132.50deg,rgba(58,83,164,0.433) 133.00deg,rgba(58,83,164,0.360) 133.50deg,rgba(58,83,164,0.278) 134.00deg,rgba(58,83,164,0.177) 134.50deg,rgba(58,83,164,0.000) 135.00deg,rgba(237,28,36,0.177) 135.50deg,rgba(237,28,36,0.278) 136.00deg,rgba(237,28,36,0.360) 136.50deg,rgba(237,28,36,0.433) 137.00deg,rgba(237,28,36,0.498) 137.50deg,rgba(237,28,36,0.557) 138.00deg,rgba(237,28,36,0.612) 138.50deg,rgba(237,28,36,0.662) 139.00deg,rgba(237,28,36,0.708) 139.50deg,rgba(237,28,36,0.750) 140.00deg,rgba(237,28,36,0.789) 140.50deg,rgba(237,28,36,0.825) 141.00deg,rgba(237,28,36,0.857) 141.50deg,rgba(237,28,36,0.885) 142.00deg,rgba(237,28,36,0.911) 142.50deg,rgba(237,28,36,0.933) 143.00deg,rgba(237,28,36,0.952) 143.50deg,rgba(237,28,36,0.968) 144.00deg,rgba(237,28,36,0.981) 144.50deg,rgba(237,28,36,0.990) 145.00deg,rgba(237,28,36,0.996) 145.50deg,rgba(237,28,36,1.000) 146.00deg,rgba(237,28,36,1.000) 146.50deg,rgba(237,28,36,0.996) 147.00deg,rgba(237,28,36,0.990) 147.50deg,rgba(237,28,36,0.981) 148.00deg,rgba(237,28,36,0.968) 148.50deg,rgba(237,28,36,0.952) 149.00deg,rgba(237,28,36,0.933) 149.50deg,rgba(237,28,36,0.911) 150.00deg,rgba(237,28,36,0.885) 150.50deg,rgba(237,28,36,0.857) 151.00deg,rgba(237,28,36,0.825) 151.50deg,rgba(237,28,36,0.789) 152.00deg,rgba(237,28,36,0.750) 152.50deg,rgba(237,28,36,0.708) 153.00deg,rgba(237,28,36,0.662) 153.50deg,rgba(237,28,36,0.612) 154.00deg,rgba(237,28,36,0.557) 154.50deg,rgba(237,28,36,0.498) 155.00deg,rgba(237,28,36,0.433) 155.50deg,rgba(237,28,36,0.360) 156.00deg,rgba(237,28,36,0.278) 156.50deg,rgba(237,28,36,0.177) 157.00deg,rgba(237,28,36,0.000) 157.50deg,rgba(58,83,164,0.177) 158.00deg,rgba(58,83,164,0.278) 158.50deg,rgba(58,83,164,0.360) 159.00deg,rgba(58,83,164,0.433) 159.50deg,rgba(58,83,164,0.498) 160.00deg,rgba(58,83,164,0.557) 160.50deg,rgba(58,83,164,0.612) 161.00deg,rgba(58,83,164,0.662) 161.50deg,rgba(58,83,164,0.708) 162.00deg,rgba(58,83,164,0.750) 162.50deg,rgba(58,83,164,0.789) 163.00deg,rgba(58,83,164,0.825) 163.50deg,rgba(58,83,164,0.857) 164.00deg,rgba(58,83,164,0.885) 164.50deg,rgba(58,83,164,0.911) 165.00deg,rgba(58,83,164,0.933) 165.50deg,rgba(58,83,164,0.952) 166.00deg,rgba(58,83,164,0.968) 166.50deg,rgba(58,83,164,0.981) 167.00deg,rgba(58,83,164,0.990) 167.50deg,rgba(58,83,164,0.996) 168.00deg,rgba(58,83,164,1.000) 168.50deg,rgba(58,83,164,1.000) 169.00deg,rgba(58,83,164,0.996) 169.50deg,rgba(58,83,164,0.990) 170.00deg,rgba(58,83,164,0.981) 170.50deg,rgba(58,83,164,0.968) 171.00deg,rgba(58,83,164,0.952) 171.50deg,rgba(58,83,164,0.933) 172.00deg,rgba(58,83,164,0.911) 172.50deg,rgba(58,83,164,0.885) 173.00deg,rgba(58,83,164,0.857) 173.50deg,rgba(58,83,164,0.825) 174.00deg,rgba(58,83,164,0.789) 174.50deg,rgba(58,83,164,0.750) 175.00deg,rgba(58,83,164,0.708) 175.50deg,rgba(58,83,164,0.662) 176.00deg,rgba(58,83,164,0.612) 176.50deg,rgba(58,83,164,0.557) 177.00deg,rgba(58,83,164,0.498) 177.50deg,rgba(58,83,164,0.433) 178.00deg,rgba(58,83,164,0.360) 178.50deg,rgba(58,83,164,0.278) 179.00deg,rgba(58,83,164,0.177) 179.50deg,rgba(58,83,164,0.000) 180.00deg,rgba(237,28,36,0.177) 180.50deg,rgba(237,28,36,0.278) 181.00deg,rgba(237,28,36,0.360) 181.50deg,rgba(237,28,36,0.433) 182.00deg,rgba(237,28,36,0.498) 182.50deg,rgba(237,28,36,0.557) 183.00deg,rgba(237,28,36,0.612) 183.50deg,rgba(237,28,36,0.662) 184.00deg,rgba(237,28,36,0.708) 184.50deg,rgba(237,28,36,0.750) 185.00deg,rgba(237,28,36,0.789) 185.50deg,rgba(237,28,36,0.825) 186.00deg,rgba(237,28,36,0.857) 186.50deg,rgba(237,28,36,0.885) 187.00deg,rgba(237,28,36,0.911) 187.50deg,rgba(237,28,36,0.933) 188.00deg,rgba(237,28,36,0.952) 188.50deg,rgba(237,28,36,0.968) 189.00deg,rgba(237,28,36,0.981) 189.50deg,rgba(237,28,36,0.990) 190.00deg,rgba(237,28,36,0.996) 190.50deg,rgba(237,28,36,1.000) 191.00deg,rgba(237,28,36,1.000) 191.50deg,rgba(237,28,36,0.996) 192.00deg,rgba(237,28,36,0.990) 192.50deg,rgba(237,28,36,0.981) 193.00deg,rgba(237,28,36,0.968) 193.50deg,rgba(237,28,36,0.952) 194.00deg,rgba(237,28,36,0.933) 194.50deg,rgba(237,28,36,0.911) 195.00deg,rgba(237,28,36,0.885) 195.50deg,rgba(237,28,36,0.857) 196.00deg,rgba(237,28,36,0.825) 196.50deg,rgba(237,28,36,0.789) 197.00deg,rgba(237,28,36,0.750) 197.50deg,rgba(237,28,36,0.708) 198.00deg,rgba(237,28,36,0.662) 198.50deg,rgba(237,28,36,0.612) 199.00deg,rgba(237,28,36,0.557) 199.50deg,rgba(237,28,36,0.498) 200.00deg,rgba(237,28,36,0.433) 200.50deg,rgba(237,28,36,0.360) 201.00deg,rgba(237,28,36,0.278) 201.50deg,rgba(237,28,36,0.177) 202.00deg,rgba(237,28,36,0.000) 202.50deg,rgba(58,83,164,0.177) 203.00deg,rgba(58,83,164,0.278) 203.50deg,rgba(58,83,164,0.360) 204.00deg,rgba(58,83,164,0.433) 204.50deg,rgba(58,83,164,0.498) 205.00deg,rgba(58,83,164,0.557) 205.50deg,rgba(58,83,164,0.612) 206.00deg,rgba(58,83,164,0.662) 206.50deg,rgba(58,83,164,0.708) 207.00deg,rgba(58,83,164,0.750) 207.50deg,rgba(58,83,164,0.789) 208.00deg,rgba(58,83,164,0.825) 208.50deg,rgba(58,83,164,0.857) 209.00deg,rgba(58,83,164,0.885) 209.50deg,rgba(58,83,164,0.911) 210.00deg,rgba(58,83,164,0.933) 210.50deg,rgba(58,83,164,0.952) 211.00deg,rgba(58,83,164,0.968) 211.50deg,rgba(58,83,164,0.981) 212.00deg,rgba(58,83,164,0.990) 212.50deg,rgba(58,83,164,0.996) 213.00deg,rgba(58,83,164,1.000) 213.50deg,rgba(58,83,164,1.000) 214.00deg,rgba(58,83,164,0.996) 214.50deg,rgba(58,83,164,0.990) 215.00deg,rgba(58,83,164,0.981) 215.50deg,rgba(58,83,164,0.968) 216.00deg,rgba(58,83,164,0.952) 216.50deg,rgba(58,83,164,0.933) 217.00deg,rgba(58,83,164,0.911) 217.50deg,rgba(58,83,164,0.885) 218.00deg,rgba(58,83,164,0.857) 218.50deg,rgba(58,83,164,0.825) 219.00deg,rgba(58,83,164,0.789) 219.50deg,rgba(58,83,164,0.750) 220.00deg,rgba(58,83,164,0.708) 220.50deg,rgba(58,83,164,0.662) 221.00deg,rgba(58,83,164,0.612) 221.50deg,rgba(58,83,164,0.557) 222.00deg,rgba(58,83,164,0.498) 222.50deg,rgba(58,83,164,0.433) 223.00deg,rgba(58,83,164,0.360) 223.50deg,rgba(58,83,164,0.278) 224.00deg,rgba(58,83,164,0.177) 224.50deg,rgba(58,83,164,0.000) 225.00deg,rgba(237,28,36,0.177) 225.50deg,rgba(237,28,36,0.278) 226.00deg,rgba(237,28,36,0.360) 226.50deg,rgba(237,28,36,0.433) 227.00deg,rgba(237,28,36,0.498) 227.50deg,rgba(237,28,36,0.557) 228.00deg,rgba(237,28,36,0.612) 228.50deg,rgba(237,28,36,0.662) 229.00deg,rgba(237,28,36,0.708) 229.50deg,rgba(237,28,36,0.750) 230.00deg,rgba(237,28,36,0.789) 230.50deg,rgba(237,28,36,0.825) 231.00deg,rgba(237,28,36,0.857) 231.50deg,rgba(237,28,36,0.885) 232.00deg,rgba(237,28,36,0.911) 232.50deg,rgba(237,28,36,0.933) 233.00deg,rgba(237,28,36,0.952) 233.50deg,rgba(237,28,36,0.968) 234.00deg,rgba(237,28,36,0.981) 234.50deg,rgba(237,28,36,0.990) 235.00deg,rgba(237,28,36,0.996) 235.50deg,rgba(237,28,36,1.000) 236.00deg,rgba(237,28,36,1.000) 236.50deg,rgba(237,28,36,0.996) 237.00deg,rgba(237,28,36,0.990) 237.50deg,rgba(237,28,36,0.981) 238.00deg,rgba(237,28,36,0.968) 238.50deg,rgba(237,28,36,0.952) 239.00deg,rgba(237,28,36,0.933) 239.50deg,rgba(237,28,36,0.911) 240.00deg,rgba(237,28,36,0.885) 240.50deg,rgba(237,28,36,0.857) 241.00deg,rgba(237,28,36,0.825) 241.50deg,rgba(237,28,36,0.789) 242.00deg,rgba(237,28,36,0.750) 242.50deg,rgba(237,28,36,0.708) 243.00deg,rgba(237,28,36,0.662) 243.50deg,rgba(237,28,36,0.612) 244.00deg,rgba(237,28,36,0.557) 244.50deg,rgba(237,28,36,0.498) 245.00deg,rgba(237,28,36,0.433) 245.50deg,rgba(237,28,36,0.360) 246.00deg,rgba(237,28,36,0.278) 246.50deg,rgba(237,28,36,0.177) 247.00deg,rgba(237,28,36,0.000) 247.50deg,rgba(58,83,164,0.177) 248.00deg,rgba(58,83,164,0.278) 248.50deg,rgba(58,83,164,0.360) 249.00deg,rgba(58,83,164,0.433) 249.50deg,rgba(58,83,164,0.498) 250.00deg,rgba(58,83,164,0.557) 250.50deg,rgba(58,83,164,0.612) 251.00deg,rgba(58,83,164,0.662) 251.50deg,rgba(58,83,164,0.708) 252.00deg,rgba(58,83,164,0.750) 252.50deg,rgba(58,83,164,0.789) 253.00deg,rgba(58,83,164,0.825) 253.50deg,rgba(58,83,164,0.857) 254.00deg,rgba(58,83,164,0.885) 254.50deg,rgba(58,83,164,0.911) 255.00deg,rgba(58,83,164,0.933) 255.50deg,rgba(58,83,164,0.952) 256.00deg,rgba(58,83,164,0.968) 256.50deg,rgba(58,83,164,0.981) 257.00deg,rgba(58,83,164,0.990) 257.50deg,rgba(58,83,164,0.996) 258.00deg,rgba(58,83,164,1.000) 258.50deg,rgba(58,83,164,1.000) 259.00deg,rgba(58,83,164,0.996) 259.50deg,rgba(58,83,164,0.990) 260.00deg,rgba(58,83,164,0.981) 260.50deg,rgba(58,83,164,0.968) 261.00deg,rgba(58,83,164,0.952) 261.50deg,rgba(58,83,164,0.933) 262.00deg,rgba(58,83,164,0.911) 262.50deg,rgba(58,83,164,0.885) 263.00deg,rgba(58,83,164,0.857) 263.50deg,rgba(58,83,164,0.825) 264.00deg,rgba(58,83,164,0.789) 264.50deg,rgba(58,83,164,0.750) 265.00deg,rgba(58,83,164,0.708) 265.50deg,rgba(58,83,164,0.662) 266.00deg,rgba(58,83,164,0.612) 266.50deg,rgba(58,83,164,0.557) 267.00deg,rgba(58,83,164,0.498) 267.50deg,rgba(58,83,164,0.433) 268.00deg,rgba(58,83,164,0.360) 268.50deg,rgba(58,83,164,0.278) 269.00deg,rgba(58,83,164,0.177) 269.50deg,rgba(58,83,164,0.000) 270.00deg,rgba(237,28,36,0.177) 270.50deg,rgba(237,28,36,0.278) 271.00deg,rgba(237,28,36,0.360) 271.50deg,rgba(237,28,36,0.433) 272.00deg,rgba(237,28,36,0.498) 272.50deg,rgba(237,28,36,0.557) 273.00deg,rgba(237,28,36,0.612) 273.50deg,rgba(237,28,36,0.662) 274.00deg,rgba(237,28,36,0.708) 274.50deg,rgba(237,28,36,0.750) 275.00deg,rgba(237,28,36,0.789) 275.50deg,rgba(237,28,36,0.825) 276.00deg,rgba(237,28,36,0.857) 276.50deg,rgba(237,28,36,0.885) 277.00deg,rgba(237,28,36,0.911) 277.50deg,rgba(237,28,36,0.933) 278.00deg,rgba(237,28,36,0.952) 278.50deg,rgba(237,28,36,0.968) 279.00deg,rgba(237,28,36,0.981) 279.50deg,rgba(237,28,36,0.990) 280.00deg,rgba(237,28,36,0.996) 280.50deg,rgba(237,28,36,1.000) 281.00deg,rgba(237,28,36,1.000) 281.50deg,rgba(237,28,36,0.996) 282.00deg,rgba(237,28,36,0.990) 282.50deg,rgba(237,28,36,0.981) 283.00deg,rgba(237,28,36,0.968) 283.50deg,rgba(237,28,36,0.952) 284.00deg,rgba(237,28,36,0.933) 284.50deg,rgba(237,28,36,0.911) 285.00deg,rgba(237,28,36,0.885) 285.50deg,rgba(237,28,36,0.857) 286.00deg,rgba(237,28,36,0.825) 286.50deg,rgba(237,28,36,0.789) 287.00deg,rgba(237,28,36,0.750) 287.50deg,rgba(237,28,36,0.708) 288.00deg,rgba(237,28,36,0.662) 288.50deg,rgba(237,28,36,0.612) 289.00deg,rgba(237,28,36,0.557) 289.50deg,rgba(237,28,36,0.498) 290.00deg,rgba(237,28,36,0.433) 290.50deg,rgba(237,28,36,0.360) 291.00deg,rgba(237,28,36,0.278) 291.50deg,rgba(237,28,36,0.177) 292.00deg,rgba(237,28,36,0.000) 292.50deg,rgba(58,83,164,0.177) 293.00deg,rgba(58,83,164,0.278) 293.50deg,rgba(58,83,164,0.360) 294.00deg,rgba(58,83,164,0.433) 294.50deg,rgba(58,83,164,0.498) 295.00deg,rgba(58,83,164,0.557) 295.50deg,rgba(58,83,164,0.612) 296.00deg,rgba(58,83,164,0.662) 296.50deg,rgba(58,83,164,0.708) 297.00deg,rgba(58,83,164,0.750) 297.50deg,rgba(58,83,164,0.789) 298.00deg,rgba(58,83,164,0.825) 298.50deg,rgba(58,83,164,0.857) 299.00deg,rgba(58,83,164,0.885) 299.50deg,rgba(58,83,164,0.911) 300.00deg,rgba(58,83,164,0.933) 300.50deg,rgba(58,83,164,0.952) 301.00deg,rgba(58,83,164,0.968) 301.50deg,rgba(58,83,164,0.981) 302.00deg,rgba(58,83,164,0.990) 302.50deg,rgba(58,83,164,0.996) 303.00deg,rgba(58,83,164,1.000) 303.50deg,rgba(58,83,164,1.000) 304.00deg,rgba(58,83,164,0.996) 304.50deg,rgba(58,83,164,0.990) 305.00deg,rgba(58,83,164,0.981) 305.50deg,rgba(58,83,164,0.968) 306.00deg,rgba(58,83,164,0.952) 306.50deg,rgba(58,83,164,0.933) 307.00deg,rgba(58,83,164,0.911) 307.50deg,rgba(58,83,164,0.885) 308.00deg,rgba(58,83,164,0.857) 308.50deg,rgba(58,83,164,0.825) 309.00deg,rgba(58,83,164,0.789) 309.50deg,rgba(58,83,164,0.750) 310.00deg,rgba(58,83,164,0.708) 310.50deg,rgba(58,83,164,0.662) 311.00deg,rgba(58,83,164,0.612) 311.50deg,rgba(58,83,164,0.557) 312.00deg,rgba(58,83,164,0.498) 312.50deg,rgba(58,83,164,0.433) 313.00deg,rgba(58,83,164,0.360) 313.50deg,rgba(58,83,164,0.278) 314.00deg,rgba(58,83,164,0.177) 314.50deg,rgba(58,83,164,0.000) 315.00deg,rgba(237,28,36,0.177) 315.50deg,rgba(237,28,36,0.278) 316.00deg,rgba(237,28,36,0.360) 316.50deg,rgba(237,28,36,0.433) 317.00deg,rgba(237,28,36,0.498) 317.50deg,rgba(237,28,36,0.557) 318.00deg,rgba(237,28,36,0.612) 318.50deg,rgba(237,28,36,0.662) 319.00deg,rgba(237,28,36,0.708) 319.50deg,rgba(237,28,36,0.750) 320.00deg,rgba(237,28,36,0.789) 320.50deg,rgba(237,28,36,0.825) 321.00deg,rgba(237,28,36,0.857) 321.50deg,rgba(237,28,36,0.885) 322.00deg,rgba(237,28,36,0.911) 322.50deg,rgba(237,28,36,0.933) 323.00deg,rgba(237,28,36,0.952) 323.50deg,rgba(237,28,36,0.968) 324.00deg,rgba(237,28,36,0.981) 324.50deg,rgba(237,28,36,0.990) 325.00deg,rgba(237,28,36,0.996) 325.50deg,rgba(237,28,36,1.000) 326.00deg,rgba(237,28,36,1.000) 326.50deg,rgba(237,28,36,0.996) 327.00deg,rgba(237,28,36,0.990) 327.50deg,rgba(237,28,36,0.981) 328.00deg,rgba(237,28,36,0.968) 328.50deg,rgba(237,28,36,0.952) 329.00deg,rgba(237,28,36,0.933) 329.50deg,rgba(237,28,36,0.911) 330.00deg,rgba(237,28,36,0.885) 330.50deg,rgba(237,28,36,0.857) 331.00deg,rgba(237,28,36,0.825) 331.50deg,rgba(237,28,36,0.789) 332.00deg,rgba(237,28,36,0.750) 332.50deg,rgba(237,28,36,0.708) 333.00deg,rgba(237,28,36,0.662) 333.50deg,rgba(237,28,36,0.612) 334.00deg,rgba(237,28,36,0.557) 334.50deg,rgba(237,28,36,0.498) 335.00deg,rgba(237,28,36,0.433) 335.50deg,rgba(237,28,36,0.360) 336.00deg,rgba(237,28,36,0.278) 336.50deg,rgba(237,28,36,0.177) 337.00deg,rgba(58,83,164,0.000) 337.50deg,rgba(58,83,164,0.177) 338.00deg,rgba(58,83,164,0.278) 338.50deg,rgba(58,83,164,0.360) 339.00deg,rgba(58,83,164,0.433) 339.50deg,rgba(58,83,164,0.498) 340.00deg,rgba(58,83,164,0.557) 340.50deg,rgba(58,83,164,0.612) 341.00deg,rgba(58,83,164,0.662) 341.50deg,rgba(58,83,164,0.708) 342.00deg,rgba(58,83,164,0.750) 342.50deg,rgba(58,83,164,0.789) 343.00deg,rgba(58,83,164,0.825) 343.50deg,rgba(58,83,164,0.857) 344.00deg,rgba(58,83,164,0.885) 344.50deg,rgba(58,83,164,0.911) 345.00deg,rgba(58,83,164,0.933) 345.50deg,rgba(58,83,164,0.952) 346.00deg,rgba(58,83,164,0.968) 346.50deg,rgba(58,83,164,0.981) 347.00deg,rgba(58,83,164,0.990) 347.50deg,rgba(58,83,164,0.996) 348.00deg,rgba(58,83,164,1.000) 348.50deg,rgba(58,83,164,1.000) 349.00deg,rgba(58,83,164,0.996) 349.50deg,rgba(58,83,164,0.990) 350.00deg,rgba(58,83,164,0.981) 350.50deg,rgba(58,83,164,0.968) 351.00deg,rgba(58,83,164,0.952) 351.50deg,rgba(58,83,164,0.933) 352.00deg,rgba(58,83,164,0.911) 352.50deg,rgba(58,83,164,0.885) 353.00deg,rgba(58,83,164,0.857) 353.50deg,rgba(58,83,164,0.825) 354.00deg,rgba(58,83,164,0.789) 354.50deg,rgba(58,83,164,0.750) 355.00deg,rgba(58,83,164,0.708) 355.50deg,rgba(58,83,164,0.662) 356.00deg,rgba(58,83,164,0.612) 356.50deg,rgba(58,83,164,0.557) 357.00deg,rgba(58,83,164,0.498) 357.50deg,rgba(58,83,164,0.433) 358.00deg,rgba(58,83,164,0.360) 358.50deg,rgba(58,83,164,0.278) 359.00deg,rgba(58,83,164,0.177) 359.50deg,rgba(58,83,164,0.000) 360.00deg);-webkit-mask-image:radial-gradient(circle closest-side, rgba(0,0,0,0.000) 0.0%,rgba(0,0,0,0.000) 2.0%,rgba(0,0,0,0.000) 4.0%,rgba(0,0,0,0.000) 6.0%,rgba(0,0,0,0.000) 8.0%,rgba(0,0,0,0.000) 10.0%,rgba(0,0,0,0.000) 12.0%,rgba(0,0,0,0.000) 14.0%,rgba(0,0,0,0.000) 16.0%,rgba(0,0,0,0.001) 18.0%,rgba(0,0,0,0.001) 20.0%,rgba(0,0,0,0.002) 22.0%,rgba(0,0,0,0.003) 24.0%,rgba(0,0,0,0.005) 26.0%,rgba(0,0,0,0.008) 28.0%,rgba(0,0,0,0.012) 30.0%,rgba(0,0,0,0.018) 32.0%,rgba(0,0,0,0.027) 34.0%,rgba(0,0,0,0.038) 36.0%,rgba(0,0,0,0.053) 38.0%,rgba(0,0,0,0.073) 40.0%,rgba(0,0,0,0.098) 42.0%,rgba(0,0,0,0.130) 44.0%,rgba(0,0,0,0.169) 46.0%,rgba(0,0,0,0.216) 48.0%,rgba(0,0,0,0.271) 50.0%,rgba(0,0,0,0.334) 52.0%,rgba(0,0,0,0.404) 54.0%,rgba(0,0,0,0.480) 56.0%,rgba(0,0,0,0.560) 58.0%,rgba(0,0,0,0.641) 60.0%,rgba(0,0,0,0.721) 62.0%,rgba(0,0,0,0.797) 64.0%,rgba(0,0,0,0.865) 66.0%,rgba(0,0,0,0.922) 68.0%,rgba(0,0,0,0.964) 70.0%,rgba(0,0,0,0.991) 72.0%,rgba(0,0,0,1.000) 74.0%,rgba(0,0,0,0.989) 76.0%,rgba(0,0,0,0.957) 78.0%,rgba(0,0,0,0.905) 80.0%,rgba(0,0,0,0.838) 82.0%,rgba(0,0,0,0.758) 84.0%,rgba(0,0,0,0.671) 86.0%,rgba(0,0,0,0.581) 88.0%,rgba(0,0,0,0.492) 90.0%,rgba(0,0,0,0.408) 92.0%,rgba(0,0,0,0.330) 94.0%,rgba(0,0,0,0.262) 96.0%,rgba(0,0,0,0.203) 98.0%,rgba(0,0,0,0.154) 100.0%);mask-image:radial-gradient(circle closest-side, rgba(0,0,0,0.000) 0.0%,rgba(0,0,0,0.000) 2.0%,rgba(0,0,0,0.000) 4.0%,rgba(0,0,0,0.000) 6.0%,rgba(0,0,0,0.000) 8.0%,rgba(0,0,0,0.000) 10.0%,rgba(0,0,0,0.000) 12.0%,rgba(0,0,0,0.000) 14.0%,rgba(0,0,0,0.000) 16.0%,rgba(0,0,0,0.001) 18.0%,rgba(0,0,0,0.001) 20.0%,rgba(0,0,0,0.002) 22.0%,rgba(0,0,0,0.003) 24.0%,rgba(0,0,0,0.005) 26.0%,rgba(0,0,0,0.008) 28.0%,rgba(0,0,0,0.012) 30.0%,rgba(0,0,0,0.018) 32.0%,rgba(0,0,0,0.027) 34.0%,rgba(0,0,0,0.038) 36.0%,rgba(0,0,0,0.053) 38.0%,rgba(0,0,0,0.073) 40.0%,rgba(0,0,0,0.098) 42.0%,rgba(0,0,0,0.130) 44.0%,rgba(0,0,0,0.169) 46.0%,rgba(0,0,0,0.216) 48.0%,rgba(0,0,0,0.271) 50.0%,rgba(0,0,0,0.334) 52.0%,rgba(0,0,0,0.404) 54.0%,rgba(0,0,0,0.480) 56.0%,rgba(0,0,0,0.560) 58.0%,rgba(0,0,0,0.641) 60.0%,rgba(0,0,0,0.721) 62.0%,rgba(0,0,0,0.797) 64.0%,rgba(0,0,0,0.865) 66.0%,rgba(0,0,0,0.922) 68.0%,rgba(0,0,0,0.964) 70.0%,rgba(0,0,0,0.991) 72.0%,rgba(0,0,0,1.000) 74.0%,rgba(0,0,0,0.989) 76.0%,rgba(0,0,0,0.957) 78.0%,rgba(0,0,0,0.905) 80.0%,rgba(0,0,0,0.838) 82.0%,rgba(0,0,0,0.758) 84.0%,rgba(0,0,0,0.671) 86.0%,rgba(0,0,0,0.581) 88.0%,rgba(0,0,0,0.492) 90.0%,rgba(0,0,0,0.408) 92.0%,rgba(0,0,0,0.330) 94.0%,rgba(0,0,0,0.262) 96.0%,rgba(0,0,0,0.203) 98.0%,rgba(0,0,0,0.154) 100.0%)"></div></div>
<svg width="969" height="974" viewBox="0 0 969 974"><circle cx="264" cy="202.6" r="1.65" fill="none" stroke="#000" stroke-width="1.3"/><circle cx="264" cy="213.45" r="1.65" fill="none" stroke="#000" stroke-width="1.3"/><circle cx="264" cy="224.3" r="1.65" fill="none" stroke="#000" stroke-width="1.3"/><circle cx="264" cy="235.15" r="1.65" fill="none" stroke="#000" stroke-width="1.3"/><circle cx="264" cy="246" r="1.65" fill="none" stroke="#000" stroke-width="1.3"/><circle cx="264" cy="256.85" r="1.65" fill="none" stroke="#000" stroke-width="1.3"/><circle cx="274.75" cy="202.6" r="1.65" fill="none" stroke="#000" stroke-width="1.3"/><circle cx="274.75" cy="213.45" r="1.65" fill="none" stroke="#000" stroke-width="1.3"/><circle cx="274.75" cy="224.3" r="1.65" fill="none" stroke="#000" stroke-width="1.3"/><circle cx="274.75" cy="235.15" r="1.65" fill="none" stroke="#000" stroke-width="1.3"/><circle cx="274.75" cy="246" r="1.65" fill="none" stroke="#000" stroke-width="1.3"/><circle cx="274.75" cy="256.85" r="1.65" fill="none" stroke="#000" stroke-width="1.3"/><circle cx="285.5" cy="202.6" r="1.65" fill="none" stroke="#000" stroke-width="1.3"/><circle cx="285.5" cy="213.45" r="1.65" fill="none" stroke="#000" stroke-width="1.3"/><circle cx="285.5" cy="224.3" r="1.65" fill="none" stroke="#000" stroke-width="1.3"/><circle cx="285.5" cy="235.15" r="1.65" fill="none" stroke="#000" stroke-width="1.3"/><circle cx="285.5" cy="246" r="1.65" fill="none" stroke="#000" stroke-width="1.3"/><circle cx="285.5" cy="256.85" r="1.65" fill="none" stroke="#000" stroke-width="1.3"/><circle cx="296.25" cy="202.6" r="1.65" fill="none" stroke="#000" stroke-width="1.3"/><circle cx="296.25" cy="213.45" r="1.65" fill="none" stroke="#000" stroke-width="1.3"/><circle cx="296.25" cy="224.3" r="1.65" fill="none" stroke="#000" stroke-width="1.3"/><circle cx="296.25" cy="235.15" r="1.65" fill="none" stroke="#000" stroke-width="1.3"/><circle cx="296.25" cy="246" r="1.65" fill="none" stroke="#000" stroke-width="1.3"/><circle cx="296.25" cy="256.85" r="1.65" fill="none" stroke="#000" stroke-width="1.3"/><circle cx="307" cy="202.6" r="1.65" fill="none" stroke="#000" stroke-width="1.3"/><circle cx="307" cy="213.45" r="1.65" fill="none" stroke="#000" stroke-width="1.3"/><circle cx="307" cy="224.3" r="1.65" fill="none" stroke="#000" stroke-width="1.3"/><circle cx="307" cy="235.15" r="1.65" fill="none" stroke="#000" stroke-width="1.3"/><circle cx="307" cy="246" r="1.65" fill="none" stroke="#000" stroke-width="1.3"/><circle cx="307" cy="256.85" r="1.65" fill="none" stroke="#000" stroke-width="1.3"/><circle cx="317.75" cy="202.6" r="1.65" fill="none" stroke="#000" stroke-width="1.3"/><circle cx="317.75" cy="213.45" r="1.65" fill="none" stroke="#000" stroke-width="1.3"/><circle cx="317.75" cy="224.3" r="1.65" fill="none" stroke="#000" stroke-width="1.3"/><circle cx="317.75" cy="235.15" r="1.65" fill="none" stroke="#000" stroke-width="1.3"/><circle cx="317.75" cy="246" r="1.65" fill="none" stroke="#000" stroke-width="1.3"/><circle cx="317.75" cy="256.85" r="1.65" fill="none" stroke="#000" stroke-width="1.3"/><circle cx="266" cy="631.3" r="1.5" fill="none" stroke="#000" stroke-width="1.15"/><circle cx="266" cy="641.56" r="1.5" fill="none" stroke="#000" stroke-width="1.15"/><circle cx="266" cy="651.82" r="1.5" fill="none" stroke="#000" stroke-width="1.15"/><circle cx="266" cy="662.08" r="1.5" fill="none" stroke="#000" stroke-width="1.15"/><circle cx="266" cy="672.34" r="1.5" fill="none" stroke="#000" stroke-width="1.15"/><circle cx="266" cy="682.6" r="1.5" fill="none" stroke="#000" stroke-width="1.15"/><circle cx="276.33" cy="631.3" r="1.5" fill="none" stroke="#000" stroke-width="1.15"/><circle cx="276.33" cy="641.56" r="1.5" fill="none" stroke="#000" stroke-width="1.15"/><circle cx="276.33" cy="651.82" r="1.5" fill="none" stroke="#000" stroke-width="1.15"/><circle cx="276.33" cy="662.08" r="1.5" fill="none" stroke="#000" stroke-width="1.15"/><circle cx="276.33" cy="672.34" r="1.5" fill="none" stroke="#000" stroke-width="1.15"/><circle cx="276.33" cy="682.6" r="1.5" fill="none" stroke="#000" stroke-width="1.15"/><circle cx="286.66" cy="631.3" r="1.5" fill="none" stroke="#000" stroke-width="1.15"/><circle cx="286.66" cy="641.56" r="1.5" fill="none" stroke="#000" stroke-width="1.15"/><circle cx="286.66" cy="651.82" r="1.5" fill="none" stroke="#000" stroke-width="1.15"/><circle cx="286.66" cy="662.08" r="1.5" fill="none" stroke="#000" stroke-width="1.15"/><circle cx="286.66" cy="672.34" r="1.5" fill="none" stroke="#000" stroke-width="1.15"/><circle cx="286.66" cy="682.6" r="1.5" fill="none" stroke="#000" stroke-width="1.15"/><circle cx="296.99" cy="631.3" r="1.5" fill="none" stroke="#000" stroke-width="1.15"/><circle cx="296.99" cy="641.56" r="1.5" fill="none" stroke="#000" stroke-width="1.15"/><circle cx="296.99" cy="651.82" r="1.5" fill="none" stroke="#000" stroke-width="1.15"/><circle cx="296.99" cy="662.08" r="1.5" fill="none" stroke="#000" stroke-width="1.15"/><circle cx="296.99" cy="672.34" r="1.5" fill="none" stroke="#000" stroke-width="1.15"/><circle cx="296.99" cy="682.6" r="1.5" fill="none" stroke="#000" stroke-width="1.15"/><circle cx="307.32" cy="631.3" r="1.5" fill="none" stroke="#000" stroke-width="1.15"/><circle cx="307.32" cy="641.56" r="1.5" fill="none" stroke="#000" stroke-width="1.15"/><circle cx="307.32" cy="651.82" r="1.5" fill="none" stroke="#000" stroke-width="1.15"/><circle cx="307.32" cy="662.08" r="1.5" fill="none" stroke="#000" stroke-width="1.15"/><circle cx="307.32" cy="672.34" r="1.5" fill="none" stroke="#000" stroke-width="1.15"/><circle cx="307.32" cy="682.6" r="1.5" fill="none" stroke="#000" stroke-width="1.15"/><circle cx="317.65" cy="631.3" r="1.5" fill="none" stroke="#000" stroke-width="1.15"/><circle cx="317.65" cy="641.56" r="1.5" fill="none" stroke="#000" stroke-width="1.15"/><circle cx="317.65" cy="651.82" r="1.5" fill="none" stroke="#000" stroke-width="1.15"/><circle cx="317.65" cy="662.08" r="1.5" fill="none" stroke="#000" stroke-width="1.15"/><circle cx="317.65" cy="672.34" r="1.5" fill="none" stroke="#000" stroke-width="1.15"/><circle cx="317.65" cy="682.6" r="1.5" fill="none" stroke="#000" stroke-width="1.15"/><defs><clipPath id="ca"><rect x="132.8" y="0.9" width="818.0" height="409.20000000000005"/></clipPath><clipPath id="cb"><rect x="132.8" y="456.6" width="818.0" height="408.4"/></clipPath></defs><g clip-path="url(#ca)" fill="none" stroke-linejoin="round"><path d="M224.99 412.22 L226.19 412.05 L227.39 411.88 L228.59 411.71 L229.79 411.53 L230.98 411.36 L232.18 411.19 L233.38 411.03 L234.58 410.86 L235.78 410.69 L236.97 410.52 L238.17 410.35 L239.37 410.19 L240.57 410.02 L241.76 409.86 L242.96 409.69 L244.16 409.53 L245.36 409.36 L246.55 409.2 L247.75 409.04 L248.95 408.87 L250.15 408.71 L251.34 408.55 L252.54 408.39 L253.74 408.23 L254.94 408.07 L256.13 407.91 L257.33 407.75 L258.53 407.59 L259.73 407.43 L260.92 407.27 L262.12 407.12 L263.32 406.96 L264.51 406.8 L265.71 406.64 L266.91 406.49 L268.11 406.33 L269.3 406.17 L270.5 406.02 L271.7 405.86 L272.89 405.71 L274.09 405.55 L275.29 405.4 L276.48 405.24 L277.68 405.09 L278.88 404.94 L280.07 404.78 L281.27 404.63 L282.47 404.48 L283.66 404.32 L284.86 404.17 L286.06 404.02 L287.25 403.87 L288.45 403.71 L289.65 403.56 L290.84 403.41 L292.04 403.26 L293.23 403.11 L294.43 402.95 L295.63 402.8 L296.82 402.65 L298.02 402.5 L299.22 402.35 L300.41 402.2 L301.61 402.05 L302.8 401.9 L304 401.74 L305.2 401.59 L306.39 401.44 L307.59 401.29 L308.78 401.14 L309.98 400.99 L311.17 400.84 L312.37 400.69 L313.57 400.54 L314.76 400.39 L315.96 400.24 L317.15 400.08 L318.35 399.93 L319.54 399.78 L320.74 399.63 L321.93 399.48 L323.13 399.33 L324.32 399.18 L325.52 399.03 L326.71 398.87 L327.91 398.72 L329.1 398.57 L330.3 398.42 L331.49 398.27 L332.69 398.11 L333.88 397.96 L335.08 397.81 L336.27 397.65 L337.47 397.5 L338.66 397.35 L339.86 397.19 L341.05 397.04 L342.24 396.89 L343.44 396.73 L344.63 396.58 L345.83 396.42 L347.02 396.27 L348.22 396.11 L349.41 395.96 L350.6 395.8 L351.8 395.64 L352.99 395.49 L354.19 395.33 L355.38 395.17 L356.57 395.02 L357.77 394.86 L358.96 394.7 L360.16 394.54 L361.35 394.38 L362.54 394.22 L363.74 394.06 L364.93 393.9 L366.12 393.74 L367.32 393.58 L368.51 393.42 L369.7 393.26 L370.9 393.09 L372.09 392.93 L373.28 392.77 L374.47 392.6 L375.67 392.44 L376.86 392.28 L378.05 392.11 L379.25 391.94 L380.44 391.78 L381.63 391.61 L382.82 391.44 L384.02 391.28 L385.21 391.11 L386.4 390.94 L387.59 390.77 L388.79 390.6 L389.98 390.43 L391.17 390.26 L392.36 390.08 L393.55 389.91 L394.75 389.74 L395.94 389.56 L397.13 389.39 L398.32 389.21 L399.51 389.04 L400.7 388.86 L401.9 388.68 L403.09 388.51 L404.28 388.33 L405.47 388.15 L406.66 387.97 L407.85 387.79 L409.04 387.61 L410.24 387.42 L411.43 387.24 L412.62 387.06 L413.81 386.87 L415 386.69 L416.19 386.5 L417.38 386.31 L418.57 386.13 L419.76 385.94 L420.95 385.75 L422.14 385.56 L423.33 385.37 L424.52 385.18 L425.71 384.98 L426.9 384.79 L428.09 384.6 L429.28 384.4 L430.47 384.2 L431.66 384.01 L432.85 383.81 L434.04 383.61 L435.23 383.41 L436.42 383.21 L437.61 383.01 L438.8 382.8 L439.99 382.6 L441.18 382.4 L442.37 382.19 L443.56 381.98 L444.75 381.77 L445.94 381.57 L447.12 381.36 L448.31 381.15 L449.5 380.93 L450.69 380.72 L451.88 380.51 L453.07 380.29 L454.26 380.08 L455.45 379.86 L456.63 379.64 L457.82 379.42 L459.01 379.2 L460.2 378.98 L461.39 378.76 L462.57 378.53 L463.76 378.31 L464.95 378.08 L466.14 377.85 L467.32 377.63 L468.51 377.4 L469.7 377.17 L470.89 376.93 L472.07 376.7 L473.26 376.47 L474.45 376.23 L475.64 375.99 L476.82 375.75 L478.01 375.52 L479.2 375.27 L480.38 375.03 L481.57 374.79 L482.76 374.54 L483.94 374.3 L485.13 374.05 L486.31 373.8 L487.5 373.55 L488.69 373.3 L489.87 373.05 L491.06 372.8 L492.24 372.54 L493.43 372.28 L494.62 372.03 L495.8 371.77 L496.99 371.51 L498.17 371.24 L499.36 370.98 L500.54 370.72 L501.73 370.45 L502.91 370.18 L504.1 369.91 L505.28 369.64 L506.47 369.37 L507.65 369.1 L508.84 368.82 L510.02 368.55 L511.21 368.27 L512.39 367.99 L513.58 367.72 L514.76 367.44 L515.94 367.17 L517.13 366.9 L518.31 366.62 L519.5 366.35 L520.68 366.08 L521.87 365.82 L523.05 365.56 L524.23 365.3 L525.42 365.04 L526.6 364.79 L527.79 364.54 L528.97 364.29 L530.16 364.05 L531.34 363.82 L532.53 363.58 L533.71 363.36 L534.89 363.14 L536.08 362.93 L537.26 362.72 L538.45 362.52 L539.63 362.33 L540.82 362.14 L542.01 361.97 L543.19 361.8 L544.38 361.64 L545.56 361.48 L546.75 361.34 L547.94 361.21 L549.12 361.08 L550.31 360.97 L551.5 360.86 L552.68 360.77 L553.87 360.69 L555.06 360.61 L556.24 360.55 L557.43 360.51 L558.62 360.47 L559.81 360.44 L561 360.43 L562.19 360.44 L563.38 360.45 L564.57 360.48 L565.76 360.52 L566.95 360.58 L568.14 360.65 L569.32 360.74 L570.51 360.85 L571.69 360.97 L572.87 361.12 L574.04 361.3 L575.2 361.5 L576.34 361.73 L577.48 361.98 L578.6 362.28 L579.7 362.6 L580.79 362.96 L581.86 363.37 L582.91 363.81 L583.93 364.29 L584.93 364.82 L585.91 365.39 L586.86 366.02 L587.78 366.69 L588.67 367.42 L589.52 368.2 L590.35 369.02 L591.14 369.9 L591.91 370.82 L592.64 371.79 L593.35 372.79 L594.02 373.83 L594.67 374.9 L595.29 376 L595.88 377.13 L596.45 378.29 L596.99 379.46 L597.5 380.66 L597.98 381.87 L598.45 383.1 L598.88 384.34 L599.29 385.58 L599.68 386.83 L600.04 388.09 L600.39 389.34 L600.71 390.6 L601.01 391.85 L601.29 393.1 L601.55 394.34 L601.79 395.59 L602.02 396.82 L602.23 398.05 L602.43 399.26 L602.61 400.47 L602.78 401.67 L602.94 402.85 L603.09 404.02 L603.23 405.17 L603.36 406.31 L603.49 407.43 L603.6 408.53 L603.72 409.61 L603.82 410.67 L603.93 411.71 L604.03 412.72 L604.13 413.71" stroke="#662d91" stroke-width="3"/><path d="M609.91 414.04 L610 412.82 L610.08 411.61 L610.17 410.39 L610.26 409.18 L610.35 407.97 L610.44 406.76 L610.53 405.55 L610.62 404.34 L610.72 403.14 L610.82 401.93 L610.92 400.73 L611.02 399.52 L611.12 398.32 L611.23 397.11 L611.33 395.91 L611.44 394.71 L611.55 393.51 L611.66 392.31 L611.77 391.11 L611.88 389.92 L612 388.72 L612.12 387.52 L612.24 386.32 L612.36 385.13 L612.48 383.93 L612.6 382.74 L612.72 381.54 L612.85 380.35 L612.98 379.16 L613.11 377.97 L613.24 376.77 L613.37 375.58 L613.5 374.39 L613.64 373.2 L613.77 372.01 L613.91 370.81 L614.05 369.62 L614.19 368.43 L614.34 367.24 L614.48 366.05 L614.62 364.86 L614.77 363.67 L614.92 362.48 L615.07 361.29 L615.22 360.1 L615.37 358.91 L615.53 357.72 L615.68 356.53 L615.84 355.34 L616 354.15 L616.16 352.96 L616.32 351.77 L616.48 350.58 L616.64 349.39 L616.81 348.19 L616.97 347 L617.14 345.81 L617.31 344.62 L617.48 343.43 L617.65 342.23 L617.82 341.04 L618 339.84 L618.17 338.65 L618.35 337.45 L618.53 336.26 L618.71 335.06 L618.89 333.86 L619.07 332.67 L619.25 331.47 L619.44 330.27 L619.62 329.07 L619.81 327.87 L620 326.67 L620.19 325.47 L620.38 324.27 L620.57 323.07 L620.76 321.87 L620.95 320.67 L621.15 319.47 L621.34 318.27 L621.54 317.07 L621.74 315.87 L621.93 314.67 L622.13 313.47 L622.33 312.27 L622.53 311.07 L622.73 309.87 L622.93 308.68 L623.14 307.48 L623.34 306.28 L623.54 305.09 L623.75 303.89 L623.95 302.7 L624.16 301.51 L624.37 300.32 L624.57 299.13 L624.78 297.94 L624.99 296.75 L625.2 295.56 L625.4 294.38 L625.61 293.19 L625.82 292.01 L626.03 290.83 L626.24 289.65 L626.45 288.47 L626.66 287.3 L626.87 286.12 L627.08 284.95 L627.3 283.78 L627.51 282.61 L627.72 281.44 L627.93 280.28 L628.14 279.11 L628.36 277.95 L628.57 276.79 L628.78 275.62 L629 274.46 L629.21 273.3 L629.43 272.14 L629.64 270.98 L629.86 269.82 L630.08 268.66 L630.29 267.5 L630.51 266.33 L630.73 265.17 L630.95 264.01 L631.18 262.84 L631.4 261.67 L631.62 260.5 L631.85 259.33 L632.08 258.16 L632.3 256.99 L632.53 255.81 L632.76 254.63 L633 253.44 L633.23 252.26 L633.46 251.07 L633.7 249.88 L633.94 248.68 L634.18 247.48 L634.42 246.28 L634.66 245.07 L634.91 243.85 L635.16 242.64 L635.41 241.42 L635.66 240.19 L635.91 238.96 L636.16 237.72 L636.42 236.48 L636.68 235.23 L636.94 233.98 L637.21 232.72 L637.49 231.46 L637.77 230.21 L638.08 228.97 L638.41 227.73 L638.76 226.52 L639.14 225.32 L639.56 224.14 L640.01 223 L640.51 221.88 L641.05 220.8 L641.64 219.76 L642.28 218.76 L642.99 217.81 L643.74 216.93 L644.54 216.15 L645.37 215.47 L646.24 214.93 L647.12 214.55 L648.03 214.34 L648.95 214.34 L649.87 214.52 L650.78 214.87 L651.68 215.37 L652.56 215.98 L653.4 216.7 L654.2 217.48 L654.95 218.32 L655.66 219.22 L656.33 220.16 L656.96 221.14 L657.57 222.16 L658.14 223.21 L658.69 224.29 L659.22 225.39 L659.74 226.51 L660.24 227.65 L660.73 228.8 L661.22 229.96 L661.71 231.12 L662.2 232.28 L662.69 233.44 L663.2 234.59 L663.71 235.73 L664.22 236.87 L664.75 238 L665.28 239.13 L665.81 240.25 L666.36 241.36 L666.91 242.48 L667.46 243.58 L668.02 244.68 L668.59 245.78 L669.17 246.87 L669.75 247.95 L670.34 249.03 L670.93 250.1 L671.53 251.17 L672.14 252.23 L672.75 253.29 L673.37 254.34 L673.99 255.39 L674.62 256.43 L675.26 257.47 L675.9 258.5 L676.55 259.53 L677.21 260.55 L677.87 261.57 L678.53 262.58 L679.21 263.58 L679.88 264.58 L680.57 265.58 L681.26 266.57 L681.96 267.56 L682.66 268.54 L683.36 269.51 L684.08 270.48 L684.8 271.45 L685.52 272.41 L686.25 273.36 L686.99 274.31 L687.73 275.26 L688.48 276.2 L689.23 277.13 L689.99 278.06 L690.75 278.99 L691.52 279.91 L692.3 280.83 L693.08 281.74 L693.86 282.64 L694.65 283.54 L695.45 284.44 L696.25 285.33 L697.06 286.22 L697.87 287.1 L698.69 287.97 L699.51 288.85 L700.33 289.71 L701.17 290.57 L702 291.43 L702.85 292.28 L703.69 293.13 L704.54 293.97 L705.4 294.81 L706.26 295.64 L707.13 296.47 L708 297.29 L708.87 298.11 L709.75 298.92 L710.64 299.73 L711.53 300.53 L712.42 301.33 L713.32 302.13 L714.22 302.92 L715.13 303.7 L716.04 304.48 L716.96 305.26 L717.88 306.02 L718.8 306.79 L719.73 307.55 L720.66 308.31 L721.6 309.06 L722.54 309.8 L723.48 310.54 L724.43 311.28 L725.38 312.01 L726.34 312.74 L727.3 313.46 L728.27 314.18 L729.23 314.89 L730.21 315.6 L731.18 316.3 L732.16 317 L733.14 317.7 L734.13 318.38 L735.12 319.07 L736.11 319.75 L737.11 320.42 L738.11 321.09 L739.11 321.76 L740.12 322.42 L741.13 323.08 L742.15 323.73 L743.16 324.38 L744.18 325.02 L745.21 325.66 L746.23 326.29 L747.26 326.92 L748.3 327.54 L749.33 328.16 L750.37 328.77 L751.41 329.38 L752.46 329.99 L753.51 330.59 L754.56 331.19 L755.61 331.78 L756.67 332.36 L757.72 332.95 L758.79 333.52 L759.85 334.1 L760.92 334.66 L761.98 335.23 L763.06 335.79 L764.13 336.34 L765.21 336.89 L766.29 337.44 L767.37 337.98 L768.45 338.51 L769.54 339.04 L770.62 339.57 L771.71 340.09 L772.81 340.61 L773.9 341.12 L775 341.63 L776.1 342.14 L777.2 342.64 L778.3 343.13 L779.41 343.62 L780.51 344.11 L781.62 344.59 L782.73 345.07 L783.84 345.54 L784.96 346.01 L786.07 346.47 L787.19 346.93 L788.31 347.39 L789.43 347.84 L790.55 348.28 L791.67 348.72 L792.8 349.16 L793.92 349.59 L795.05 350.02 L796.18 350.45 L797.31 350.86 L798.44 351.28 L799.57 351.69 L800.71 352.09 L801.84 352.5 L802.98 352.89 L804.12 353.29 L805.25 353.67 L806.39 354.06 L807.53 354.44 L808.68 354.82 L809.82 355.19 L810.96 355.56 L812.11 355.92 L813.25 356.28 L814.4 356.64 L815.55 356.99 L816.7 357.34 L817.85 357.69 L819 358.03 L820.15 358.37 L821.3 358.7 L822.46 359.03 L823.61 359.36 L824.77 359.69 L825.92 360.01 L827.08 360.33 L828.24 360.64 L829.4 360.96 L830.56 361.26 L831.72 361.57 L832.88 361.87 L834.04 362.17 L835.21 362.47 L836.37 362.77 L837.54 363.06 L838.7 363.35 L839.87 363.64 L841.03 363.92 L842.2 364.2 L843.37 364.48 L844.54 364.76 L845.71 365.03 L846.88 365.3 L848.05 365.57 L849.22 365.84 L850.39 366.11 L851.57 366.37 L852.74 366.63 L853.91 366.89 L855.09 367.15 L856.26 367.4 L857.44 367.66 L858.61 367.91 L859.79 368.16 L860.97 368.41 L862.14 368.66 L863.32 368.9 L864.5 369.15 L865.68 369.39 L866.86 369.63 L868.04 369.87 L869.22 370.11 L870.4 370.34 L871.58 370.58 L872.76 370.81 L873.94 371.05 L875.12 371.28 L876.3 371.51 L877.49 371.74 L878.67 371.97 L879.85 372.2 L881.03 372.43 L882.22 372.65 L883.4 372.88 L884.58 373.11 L885.77 373.33 L886.95 373.56 L888.14 373.78 L889.32 374.01 L890.5 374.23 L891.69 374.45 L892.87 374.68 L894.06 374.9 L895.24 375.12 L896.43 375.34 L897.61 375.57 L898.8 375.79 L899.98 376.01 L901.17 376.23 L902.35 376.46 L903.54 376.68 L904.72 376.9 L905.91 377.13 L907.09 377.35 L908.28 377.58 L909.46 377.8 L910.65 378.03 L911.83 378.25 L913.01 378.48 L914.2 378.71 L915.38 378.93 L916.57 379.16 L917.75 379.39 L918.93 379.62 L920.12 379.85 L921.3 380.09 L922.48 380.32 L923.66 380.56 L924.85 380.79 L926.03 381.03 L927.21 381.27 L928.39 381.51 L929.57 381.75 L930.75 381.99 L931.93 382.23 L933.11 382.48 L934.29 382.73 L935.47 382.98 L936.65 383.23 L937.83 383.48 L939.01 383.73 L940.19 383.99 L941.36 384.25 L942.54 384.51 L943.71 384.77 L944.89 385.03 L946.07 385.3 L947.24 385.56 L948.41 385.83 L949.59 386.11 L950.76 386.38 L951.93 386.66" stroke="#662d91" stroke-width="3"/><path d="M269.36 419.38 L270.15 418.48 L270.95 417.58 L271.76 416.69 L272.57 415.8 L273.38 414.93 L274.2 414.06 L275.03 413.19 L275.86 412.34 L276.7 411.49 L277.55 410.64 L278.4 409.81 L279.25 408.98 L280.11 408.15 L280.98 407.33 L281.85 406.52 L282.72 405.71 L283.6 404.9 L284.49 404.1 L285.37 403.31 L286.27 402.52 L287.16 401.74 L288.06 400.96 L288.97 400.18 L289.88 399.41 L290.79 398.65 L291.71 397.88 L292.63 397.12 L293.55 396.37 L294.48 395.62 L295.41 394.87 L296.34 394.12 L297.28 393.38 L298.21 392.64 L299.16 391.91 L300.1 391.17 L301.05 390.44 L301.99 389.71 L302.94 388.98 L303.9 388.26 L304.85 387.54 L305.81 386.81 L306.77 386.09 L307.73 385.38 L308.69 384.66 L309.65 383.94 L310.62 383.23 L311.58 382.51 L312.55 381.8 L313.52 381.09 L314.48 380.37 L315.45 379.66 L316.42 378.95 L317.39 378.24 L318.36 377.52 L319.34 376.81 L320.31 376.1 L321.28 375.38 L322.25 374.67 L323.22 373.96 L324.2 373.25 L325.17 372.53 L326.14 371.82 L327.12 371.11 L328.09 370.4 L329.07 369.69 L330.05 368.98 L331.02 368.27 L332 367.56 L332.98 366.85 L333.96 366.14 L334.94 365.44 L335.93 364.73 L336.91 364.03 L337.89 363.33 L338.88 362.63 L339.87 361.93 L340.86 361.23 L341.85 360.53 L342.84 359.84 L343.83 359.15 L344.82 358.46 L345.82 357.77 L346.81 357.08 L347.81 356.4 L348.81 355.71 L349.81 355.03 L350.82 354.36 L351.82 353.68 L352.83 353.01 L353.84 352.34 L354.85 351.67 L355.86 351.01 L356.88 350.35 L357.89 349.69 L358.91 349.04 L359.93 348.38 L360.95 347.73 L361.98 347.09 L363.01 346.45 L364.03 345.81 L365.07 345.17 L366.1 344.54 L367.14 343.92 L368.17 343.29 L369.22 342.67 L370.26 342.06 L371.31 341.45 L372.35 340.84 L373.41 340.24 L374.46 339.64 L375.52 339.04 L376.58 338.45 L377.64 337.87 L378.7 337.29 L379.77 336.71 L380.84 336.14 L381.92 335.58 L383 335.01 L384.08 334.46 L385.16 333.91 L386.25 333.36 L387.34 332.82 L388.43 332.29 L389.52 331.76 L390.62 331.24 L391.72 330.72 L392.83 330.21 L393.93 329.71 L395.04 329.21 L396.16 328.73 L397.27 328.24 L398.39 327.77 L399.51 327.3 L400.63 326.84 L401.75 326.39 L402.88 325.95 L404.01 325.51 L405.14 325.08 L406.27 324.66 L407.4 324.25 L408.54 323.85 L409.68 323.46 L410.82 323.08 L411.96 322.7 L413.11 322.34 L414.25 321.98 L415.4 321.64 L416.55 321.3 L417.7 320.98 L418.85 320.67 L420.01 320.36 L421.16 320.07 L422.32 319.79 L423.48 319.52 L424.63 319.26 L425.79 319.01 L426.96 318.78 L428.12 318.55 L429.28 318.34 L430.45 318.14 L431.61 317.95 L432.78 317.78 L433.94 317.61 L435.11 317.46 L436.28 317.33 L437.45 317.2 L438.62 317.09 L439.79 317 L440.96 316.91 L442.13 316.85 L443.3 316.79 L444.47 316.75 L445.65 316.72 L446.82 316.71 L447.99 316.71 L449.16 316.73 L450.34 316.76 L451.51 316.8 L452.68 316.86 L453.86 316.92 L455.03 317 L456.2 317.09 L457.38 317.2 L458.55 317.31 L459.72 317.44 L460.9 317.57 L462.07 317.72 L463.25 317.88 L464.42 318.05 L465.6 318.23 L466.77 318.41 L467.94 318.61 L469.12 318.82 L470.29 319.03 L471.47 319.26 L472.64 319.49 L473.81 319.73 L474.99 319.98 L476.16 320.23 L477.33 320.49 L478.51 320.76 L479.68 321.04 L480.85 321.32 L482.03 321.61 L483.2 321.9 L484.37 322.21 L485.54 322.51 L486.72 322.82 L487.89 323.14 L489.06 323.46 L490.23 323.78 L491.4 324.11 L492.57 324.45 L493.74 324.78 L494.91 325.12 L496.08 325.46 L497.25 325.81 L498.42 326.16 L499.58 326.51 L500.75 326.86 L501.92 327.22 L503.09 327.57 L504.25 327.93 L505.42 328.29 L506.58 328.64 L507.75 329 L508.91 329.36 L510.07 329.72 L511.24 330.08 L512.4 330.44 L513.56 330.8 L514.72 331.17 L515.89 331.53 L517.05 331.89 L518.21 332.25 L519.37 332.62 L520.53 332.98 L521.68 333.34 L522.84 333.71 L524 334.07 L525.16 334.44 L526.32 334.8 L527.47 335.17 L528.63 335.53 L529.79 335.9 L530.94 336.26 L532.1 336.63 L533.25 337 L534.41 337.36 L535.56 337.73 L536.72 338.09 L537.87 338.46 L539.02 338.83 L540.18 339.19 L541.33 339.56 L542.48 339.93 L543.63 340.3 L544.79 340.66 L545.94 341.03 L547.09 341.4 L548.24 341.76 L549.39 342.13 L550.54 342.5 L551.69 342.86 L552.85 343.23 L554 343.6 L555.15 343.96 L556.3 344.33 L557.45 344.69 L558.59 345.06 L559.74 345.42 L560.89 345.79 L562.04 346.15 L563.19 346.52 L564.34 346.88 L565.49 347.25 L566.64 347.61 L567.79 347.97 L568.93 348.34 L570.08 348.7 L571.23 349.06 L572.38 349.42 L573.53 349.79 L574.68 350.15 L575.82 350.51 L576.97 350.87 L578.12 351.23 L579.27 351.59 L580.41 351.95 L581.56 352.3 L582.71 352.66 L583.86 353.02 L585.01 353.38 L586.15 353.73 L587.3 354.09 L588.45 354.44 L589.6 354.8 L590.75 355.15 L591.89 355.5 L593.04 355.85 L594.19 356.21 L595.34 356.56 L596.49 356.91 L597.64 357.26 L598.78 357.6 L599.93 357.95 L601.08 358.3 L602.23 358.65 L603.38 358.99 L604.53 359.33 L605.68 359.68 L606.83 360.02 L607.98 360.36 L609.13 360.7 L610.28 361.04 L611.43 361.38 L612.58 361.72 L613.73 362.06 L614.88 362.39 L616.03 362.73 L617.18 363.06 L618.33 363.4 L619.49 363.73 L620.64 364.06 L621.79 364.39 L622.94 364.72 L624.1 365.04 L625.25 365.37 L626.4 365.7 L627.56 366.02 L628.71 366.34 L629.87 366.66 L631.02 366.99 L632.18 367.3 L633.33 367.62 L634.49 367.94 L635.64 368.25 L636.8 368.57 L637.96 368.88 L639.11 369.19 L640.27 369.5 L641.43 369.81 L642.59 370.12 L643.75 370.43 L644.91 370.73 L646.07 371.03 L647.23 371.33 L648.39 371.63 L649.55 371.93 L650.71 372.23 L651.87 372.53 L653.04 372.82 L654.2 373.11 L655.36 373.4 L656.53 373.69 L657.69 373.98 L658.86 374.27 L660.02 374.55 L661.19 374.84 L662.35 375.12 L663.52 375.4 L664.69 375.68 L665.86 375.95 L667.03 376.23 L668.2 376.5 L669.37 376.77 L670.54 377.04 L671.71 377.31 L672.88 377.57 L674.05 377.84 L675.23 378.1 L676.4 378.36 L677.57 378.63 L678.75 378.88 L679.92 379.14 L681.1 379.4 L682.27 379.65 L683.45 379.9 L684.62 380.16 L685.8 380.4 L686.98 380.65 L688.16 380.9 L689.34 381.15 L690.51 381.39 L691.69 381.63 L692.87 381.87 L694.05 382.12 L695.23 382.35 L696.41 382.59 L697.6 382.83 L698.78 383.06 L699.96 383.3 L701.14 383.53 L702.32 383.76 L703.51 383.99 L704.69 384.22 L705.88 384.45 L707.06 384.67 L708.24 384.9 L709.43 385.12 L710.61 385.35 L711.8 385.57 L712.99 385.79 L714.17 386.01 L715.36 386.23 L716.54 386.45 L717.73 386.66 L718.92 386.88 L720.11 387.09 L721.29 387.31 L722.48 387.52 L723.67 387.73 L724.86 387.94 L726.05 388.15 L727.24 388.36 L728.43 388.57 L729.62 388.78 L730.81 388.99 L732 389.19 L733.19 389.4 L734.38 389.6 L735.57 389.8 L736.76 390.01 L737.95 390.21 L739.14 390.41 L740.33 390.61 L741.52 390.81 L742.72 391.01 L743.91 391.2 L745.1 391.4 L746.29 391.6 L747.48 391.79 L748.68 391.99 L749.87 392.18 L751.06 392.38 L752.25 392.57 L753.45 392.77 L754.64 392.96 L755.83 393.15 L757.03 393.34 L758.22 393.53 L759.41 393.72 L760.61 393.91 L761.8 394.1 L762.99 394.29 L764.19 394.48 L765.38 394.67 L766.57 394.85 L767.77 395.04 L768.96 395.23 L770.16 395.42 L771.35 395.6 L772.54 395.79 L773.74 395.97 L774.93 396.16 L776.12 396.34 L777.32 396.53 L778.51 396.71 L779.71 396.9 L780.9 397.08 L782.09 397.26 L783.29 397.45 L784.48 397.63 L785.67 397.81 L786.87 398 L788.06 398.18 L789.25 398.36 L790.45 398.55 L791.64 398.73 L792.83 398.91 L794.03 399.09 L795.22 399.28 L796.41 399.46 L797.6 399.64 L798.8 399.82 L799.99 400.01 L801.18 400.19 L802.37 400.37 L803.56 400.55 L804.76 400.74 L805.95 400.92 L807.14 401.1 L808.33 401.28 L809.52 401.47 L810.71 401.65 L811.9 401.83 L813.09 402.02 L814.28 402.2 L815.47 402.39 L816.66 402.57 L817.85 402.75 L819.04 402.94 L820.23 403.12 L821.42 403.31 L822.61 403.49 L823.8 403.68 L824.98 403.87 L826.17 404.05 L827.36 404.24 L828.55 404.43 L829.73 404.62 L830.92 404.8 L832.11 404.99 L833.29 405.18 L834.48 405.37 L835.66 405.56 L836.85 405.75 L838.03 405.94 L839.22 406.13 L840.4 406.33 L841.58 406.52 L842.77 406.71 L843.95 406.9 L845.13 407.1 L846.32 407.29 L847.5 407.49 L848.68 407.68 L849.86 407.88 L851.04 408.08 L852.22 408.28 L853.4 408.48 L854.58 408.68 L855.76 408.88 L856.94 409.08 L858.12 409.28 L859.29 409.48 L860.47 409.68 L861.65 409.89 L862.82 410.09 L864 410.3 L865.17 410.51 L866.35 410.71 L867.52 410.92 L868.7 411.13 L869.87 411.34" stroke="#92278f" stroke-width="3.3" stroke-dasharray="15 6"/><path d="M131.09 395.04 L132.27 395.12 L133.44 395.19 L134.62 395.27 L135.79 395.34 L136.97 395.41 L138.15 395.49 L139.33 395.56 L140.52 395.63 L141.7 395.71 L142.89 395.78 L144.07 395.85 L145.26 395.92 L146.45 395.99 L147.65 396.06 L148.84 396.13 L150.03 396.19 L151.23 396.26 L152.42 396.33 L153.62 396.39 L154.82 396.45 L156.02 396.52 L157.22 396.58 L158.42 396.64 L159.62 396.69 L160.83 396.75 L162.03 396.8 L163.24 396.86 L164.44 396.91 L165.65 396.96 L166.85 397.01 L168.06 397.05 L169.27 397.09 L170.48 397.14 L171.69 397.18 L172.9 397.21 L174.11 397.25 L175.32 397.28 L176.53 397.31 L177.74 397.34 L178.95 397.36 L180.17 397.39 L181.38 397.41 L182.59 397.42 L183.8 397.44 L185.02 397.45 L186.23 397.46 L187.44 397.46 L188.66 397.46 L189.87 397.46 L191.08 397.46 L192.3 397.45 L193.51 397.44 L194.72 397.43 L195.93 397.41 L197.15 397.39 L198.36 397.36 L199.57 397.33 L200.78 397.3 L201.99 397.27 L203.2 397.22 L204.41 397.18 L205.62 397.13 L206.83 397.08 L208.04 397.02 L209.25 396.96 L210.45 396.9 L211.66 396.83 L212.87 396.75 L214.07 396.68 L215.27 396.59 L216.48 396.5 L217.68 396.41 L218.88 396.31 L220.08 396.21 L221.28 396.1 L222.48 395.99 L223.68 395.88 L224.87 395.75 L226.07 395.63 L227.26 395.49 L228.46 395.35 L229.65 395.21 L230.84 395.06 L232.03 394.91 L233.21 394.75 L234.4 394.58 L235.59 394.41 L236.77 394.23 L237.95 394.05 L239.13 393.86 L240.31 393.67 L241.49 393.47 L242.67 393.27 L243.85 393.06 L245.02 392.85 L246.19 392.63 L247.36 392.4 L248.54 392.17 L249.7 391.93 L250.87 391.69 L252.04 391.45 L253.2 391.19 L254.37 390.94 L255.53 390.67 L256.69 390.41 L257.85 390.13 L259.01 389.85 L260.16 389.57 L261.32 389.28 L262.47 388.98 L263.62 388.68 L264.77 388.38 L265.92 388.07 L267.07 387.75 L268.22 387.43 L269.36 387.1 L270.51 386.77 L271.65 386.43 L272.79 386.09 L273.93 385.74 L275.06 385.39 L276.2 385.03 L277.33 384.66 L278.47 384.29 L279.6 383.92 L280.73 383.54 L281.85 383.15 L282.98 382.76 L284.11 382.37 L285.23 381.97 L286.35 381.56 L287.47 381.15 L288.59 380.73 L289.71 380.31 L290.82 379.88 L291.94 379.45 L293.05 379.01 L294.16 378.57 L295.27 378.12 L296.38 377.67 L297.48 377.21 L298.59 376.75 L299.69 376.28 L300.79 375.8 L301.89 375.32 L302.99 374.84 L304.08 374.35 L305.18 373.85 L306.27 373.35 L307.36 372.85 L308.45 372.34 L309.53 371.82 L310.62 371.3 L311.7 370.78 L312.79 370.25 L313.87 369.71 L314.95 369.17 L316.02 368.62 L317.1 368.07 L318.17 367.52 L319.24 366.95 L320.31 366.39 L321.38 365.82 L322.45 365.24 L323.51 364.66 L324.58 364.08 L325.64 363.49 L326.7 362.9 L327.76 362.3 L328.82 361.7 L329.88 361.1 L330.93 360.49 L331.99 359.89 L333.04 359.28 L334.1 358.66 L335.15 358.05 L336.2 357.43 L337.25 356.81 L338.3 356.19 L339.35 355.56 L340.4 354.94 L341.45 354.31 L342.5 353.69 L343.55 353.06 L344.59 352.43 L345.64 351.8 L346.69 351.17 L347.73 350.54 L348.78 349.91 L349.82 349.28 L350.87 348.65 L351.92 348.02 L352.96 347.4 L354.01 346.77 L355.06 346.14 L356.1 345.52 L357.15 344.9 L358.2 344.27 L359.24 343.65 L360.29 343.04 L361.34 342.42 L362.39 341.81 L363.44 341.2 L364.49 340.59 L365.54 339.98 L366.6 339.38 L367.65 338.78 L368.7 338.19 L369.76 337.6 L370.81 337.01 L371.87 336.43 L372.93 335.85 L373.99 335.27 L375.05 334.7 L376.11 334.14 L377.18 333.57 L378.24 333.02 L379.31 332.47 L380.38 331.92 L381.44 331.38 L382.52 330.85 L383.59 330.32 L384.66 329.8 L385.74 329.28 L386.82 328.78 L387.9 328.27 L388.98 327.78 L390.07 327.29 L391.15 326.81 L392.24 326.34 L393.33 325.87 L394.43 325.41 L395.52 324.96 L396.62 324.52 L397.72 324.09 L398.82 323.66 L399.93 323.25 L401.04 322.84 L402.15 322.44 L403.26 322.05 L404.38 321.67 L405.5 321.3 L406.62 320.94 L407.75 320.59 L408.87 320.25 L410.01 319.92 L411.14 319.6 L412.28 319.3 L413.42 319 L414.56 318.71 L415.71 318.44 L416.86 318.17 L418.02 317.92 L419.18 317.68 L420.34 317.45 L421.5 317.23 L422.67 317.02 L423.84 316.83 L425.01 316.64 L426.19 316.47 L427.37 316.31 L428.55 316.15 L429.73 316.01 L430.92 315.88 L432.11 315.76 L433.3 315.65 L434.49 315.55 L435.69 315.46 L436.88 315.38 L438.08 315.31 L439.28 315.25 L440.48 315.2 L441.69 315.16 L442.89 315.13 L444.1 315.11 L445.31 315.1 L446.51 315.09 L447.72 315.1 L448.93 315.12 L450.14 315.14 L451.36 315.17 L452.57 315.22 L453.78 315.27 L455 315.33 L456.21 315.39 L457.42 315.47 L458.64 315.56 L459.85 315.65 L461.07 315.75 L462.28 315.86 L463.49 315.98 L464.71 316.1 L465.92 316.23 L467.13 316.37 L468.35 316.52 L469.56 316.68 L470.77 316.84 L471.98 317.01 L473.18 317.19 L474.39 317.37 L475.6 317.56 L476.8 317.76 L478 317.97 L479.2 318.18 L480.4 318.4 L481.6 318.62 L482.8 318.85 L483.99 319.09 L485.19 319.34 L486.38 319.58 L487.56 319.84 L488.75 320.1 L489.93 320.37 L491.11 320.64 L492.29 320.92 L493.47 321.21 L494.64 321.5 L495.81 321.79 L496.97 322.09 L498.14 322.4 L499.3 322.71 L500.45 323.03 L501.61 323.35 L502.76 323.67 L503.9 324 L505.05 324.34 L506.19 324.68 L507.32 325.02 L508.45 325.37 L509.58 325.72 L510.7 326.08 L511.83 326.43 L512.95 326.8 L514.06 327.16 L515.18 327.53 L516.29 327.9 L517.41 328.27 L518.52 328.65 L519.63 329.03 L520.74 329.4 L521.85 329.78 L522.96 330.17 L524.07 330.55 L525.18 330.93 L526.3 331.32 L527.41 331.7 L528.53 332.08 L529.65 332.47 L530.77 332.85 L531.89 333.23 L533.02 333.62 L534.14 334 L535.28 334.38 L536.41 334.75 L537.55 335.13 L538.7 335.51 L539.85 335.88 L541 336.25 L542.16 336.61 L543.32 336.98 L544.5 337.34 L545.67 337.7 L546.85 338.05 L548.04 338.4 L549.24 338.75 L550.44 339.09 L551.65 339.43 L552.87 339.75 L554.09 340.07 L555.31 340.38 L556.53 340.67 L557.76 340.94 L558.98 341.2 L560.21 341.44 L561.43 341.66 L562.65 341.85 L563.86 342.02 L565.07 342.16 L566.27 342.27 L567.47 342.36 L568.65 342.41 L569.83 342.42 L571 342.4 L572.15 342.34 L573.3 342.24 L574.43 342.1 L575.54 341.92 L576.64 341.68 L577.73 341.41 L578.79 341.08 L579.84 340.71 L580.88 340.29 L581.89 339.83 L582.89 339.33 L583.88 338.78 L584.85 338.2 L585.81 337.58 L586.74 336.92 L587.67 336.23 L588.58 335.51 L589.48 334.76 L590.36 333.97 L591.23 333.16 L592.08 332.31 L592.92 331.45 L593.75 330.56 L594.57 329.64 L595.37 328.71 L596.16 327.75 L596.94 326.78 L597.7 325.79 L598.45 324.78 L599.2 323.76 L599.93 322.73 L600.65 321.69 L601.36 320.64 L602.06 319.57 L602.75 318.51 L603.42 317.44 L604.09 316.36 L604.75 315.28 L605.4 314.2 L606.04 313.12 L606.67 312.05 L607.3 310.97 L607.91 309.89 L608.51 308.82 L609.11 307.74 L609.7 306.67 L610.28 305.59 L610.85 304.52 L611.41 303.44 L611.96 302.37 L612.51 301.29 L613.05 300.22 L613.58 299.14 L614.1 298.06 L614.61 296.99 L615.12 295.91 L615.61 294.83 L616.11 293.75 L616.59 292.67 L617.06 291.59 L617.53 290.5 L617.99 289.42 L618.45 288.33 L618.89 287.24 L619.33 286.15 L619.77 285.06 L620.19 283.97 L620.61 282.88 L621.03 281.78 L621.43 280.68 L621.83 279.58 L622.22 278.48 L622.61 277.37 L622.99 276.26 L623.37 275.15 L623.74 274.04 L624.1 272.92 L624.45 271.8 L624.81 270.68 L625.15 269.56 L625.49 268.43 L625.83 267.3 L626.15 266.16 L626.48 265.02 L626.8 263.88 L627.11 262.74 L627.42 261.59 L627.72 260.43 L628.02 259.28 L628.31 258.12 L628.6 256.95 L628.88 255.78 L629.16 254.61 L629.44 253.43 L629.71 252.25 L629.99 251.07 L630.26 249.88 L630.54 248.7 L630.81 247.51 L631.09 246.32 L631.37 245.12 L631.65 243.93 L631.94 242.74 L632.23 241.54 L632.53 240.35 L632.83 239.16 L633.14 237.96 L633.46 236.77 L633.79 235.58 L634.13 234.39 L634.48 233.2 L634.84 232.02 L635.21 230.83 L635.6 229.65 L636 228.48 L636.41 227.3 L636.84 226.13 L637.28 224.97 L637.75 223.81 L638.23 222.65 L638.72 221.5 L639.24 220.35 L639.78 219.21 L640.34 218.08 L640.92 216.98 L641.54 215.93 L642.2 214.94 L642.91 214.05 L643.66 213.26 L644.48 212.6 L645.34 212.08 L646.25 211.7 L647.18 211.46 L648.13 211.37 L649.09 211.42 L650.04 211.62 L650.97 211.97 L651.86 212.46 L652.73 213.1 L653.57 213.87 L654.37 214.73 L655.15 215.68 L655.91 216.69 L656.65 217.75 L657.37 218.84 L658.08 219.93 L658.77 221.03 L659.45 222.12 L660.12 223.21 L660.78 224.3 L661.43 225.39 L662.07 226.48 L662.71 227.56 L663.33 228.65 L663.94 229.73 L664.55 230.81 L665.16 231.88 L665.75 232.96 L666.34 234.03 L666.93 235.1 L667.51 236.17 L668.09 237.23 L668.67 238.29 L669.25 239.35 L669.82 240.4 L670.4 241.45 L670.97 242.5 L671.55 243.54 L672.12 244.58 L672.7 245.62 L673.28 246.65 L673.87 247.68 L674.45 248.71 L675.05 249.73 L675.64 250.74 L676.25 251.75 L676.86 252.76 L677.47 253.76 L678.1 254.76 L678.73 255.75 L679.37 256.74 L680.03 257.72 L680.69 258.7 L681.36 259.67 L682.04 260.63 L682.74 261.6 L683.45 262.55 L684.17 263.5 L684.91 264.44 L685.66 265.38 L686.43 266.31 L687.21 267.23 L688.01 268.15 L688.83 269.06 L689.66 269.97 L690.52 270.86 L691.39 271.75 L692.28 272.64 L693.19 273.51 L694.13 274.38" stroke="#000" stroke-width="4.4"/><path d="M699.01 282.38 L699.96 283.17 L700.91 283.95 L701.86 284.73 L702.82 285.49 L703.78 286.25 L704.75 287 L705.72 287.74 L706.69 288.47 L707.67 289.2 L708.65 289.92 L709.64 290.63 L710.63 291.33 L711.62 292.03 L712.62 292.71 L713.62 293.39 L714.62 294.07 L715.63 294.73 L716.64 295.39 L717.66 296.04 L718.67 296.68 L719.7 297.32 L720.72 297.95 L721.75 298.57 L722.78 299.19 L723.82 299.8 L724.86 300.4 L725.9 300.99 L726.94 301.58 L727.99 302.16 L729.04 302.73 L730.1 303.3 L731.16 303.86 L732.22 304.42 L733.28 304.97 L734.35 305.51 L735.42 306.05 L736.49 306.58 L737.57 307.1 L738.65 307.62 L739.73 308.13 L740.81 308.63 L741.9 309.13 L742.99 309.63 L744.08 310.11 L745.17 310.6 L746.27 311.07 L747.37 311.54 L748.47 312.01 L749.58 312.47 L750.68 312.92 L751.79 313.37 L752.91 313.82 L754.02 314.26 L755.14 314.69 L756.26 315.12 L757.38 315.54 L758.5 315.96 L759.63 316.37 L760.76 316.78 L761.89 317.18 L763.02 317.58 L764.15 317.98 L765.29 318.37 L766.42 318.75 L767.56 319.13 L768.71 319.51 L769.85 319.88 L771 320.25 L772.14 320.61 L773.29 320.97 L774.44 321.32 L775.6 321.67 L776.75 322.02 L777.9 322.36 L779.06 322.7 L780.22 323.03 L781.38 323.36 L782.54 323.69 L783.71 324.01 L784.87 324.33 L786.04 324.65 L787.2 324.96 L788.37 325.27 L789.54 325.57 L790.71 325.88 L791.89 326.17 L793.06 326.47 L794.23 326.76 L795.41 327.05 L796.59 327.34 L797.76 327.62 L798.94 327.9 L800.12 328.18 L801.3 328.45 L802.48 328.72 L803.67 328.99 L804.85 329.26 L806.03 329.52 L807.22 329.79 L808.4 330.04 L809.59 330.3 L810.77 330.56 L811.96 330.81 L813.15 331.06 L814.34 331.3 L815.53 331.55 L816.71 331.79 L817.9 332.03 L819.09 332.27 L820.28 332.51 L821.48 332.75 L822.67 332.98 L823.86 333.21 L825.05 333.44 L826.24 333.67 L827.44 333.9 L828.63 334.12 L829.82 334.34 L831.02 334.56 L832.21 334.78 L833.4 335 L834.6 335.21 L835.79 335.43 L836.99 335.64 L838.19 335.85 L839.38 336.06 L840.58 336.26 L841.78 336.47 L842.97 336.67 L844.17 336.87 L845.37 337.07 L846.56 337.27 L847.76 337.47 L848.96 337.66 L850.16 337.86 L851.36 338.05 L852.55 338.24 L853.75 338.43 L854.95 338.62 L856.15 338.8 L857.35 338.99 L858.55 339.17 L859.75 339.35 L860.95 339.53 L862.15 339.71 L863.35 339.89 L864.55 340.07 L865.75 340.24 L866.95 340.42 L868.15 340.59 L869.35 340.76 L870.55 340.93 L871.75 341.1 L872.95 341.27 L874.15 341.44 L875.35 341.6 L876.55 341.77 L877.75 341.93 L878.95 342.1 L880.15 342.26 L881.35 342.42 L882.55 342.58 L883.75 342.74 L884.95 342.89 L886.15 343.05 L887.35 343.2 L888.55 343.36 L889.75 343.51 L890.95 343.67 L892.15 343.82 L893.35 343.97 L894.55 344.12 L895.75 344.27 L896.94 344.42 L898.14 344.56 L899.34 344.71 L900.54 344.86 L901.74 345 L902.94 345.15 L904.13 345.29 L905.33 345.44 L906.53 345.58 L907.73 345.72 L908.92 345.86 L910.12 346 L911.32 346.14 L912.51 346.28 L913.71 346.42 L914.9 346.56 L916.1 346.7 L917.29 346.84 L918.49 346.97 L919.68 347.11 L920.87 347.25 L922.07 347.38 L923.26 347.52 L924.45 347.65 L925.65 347.79 L926.84 347.92 L928.03 348.06 L929.22 348.19 L930.41 348.32 L931.6 348.46 L932.79 348.59 L933.98 348.72 L935.17 348.85 L936.36 348.99 L937.55 349.12 L938.73 349.25 L939.92 349.38 L941.11 349.51 L942.29 349.64 L943.48 349.78 L944.67 349.91 L945.85 350.04 L947.03 350.17 L948.22 350.3 L949.4 350.43 L950.58 350.56 L951.76 350.69" stroke="#000" stroke-width="4.4"/><path d="M693.5 274 L695.2 250 L695.9 12 L698.6 12 L699.2 250 L700 282" stroke="#000" stroke-width="2.2"/><line x1="696.8" y1="412" x2="697.3" y2="12" stroke="#10915a" stroke-width="4" stroke-linecap="round"/></g><g clip-path="url(#cb)" fill="none" stroke-linejoin="round"><path d="M131.09 766.46 L132.26 766.77 L133.43 767.07 L134.59 767.38 L135.76 767.68 L136.93 767.99 L138.1 768.3 L139.27 768.61 L140.43 768.92 L141.6 769.23 L142.77 769.54 L143.93 769.86 L145.1 770.17 L146.27 770.49 L147.43 770.8 L148.6 771.12 L149.76 771.44 L150.93 771.76 L152.09 772.07 L153.26 772.4 L154.42 772.72 L155.58 773.04 L156.75 773.36 L157.91 773.69 L159.07 774.01 L160.24 774.34 L161.4 774.67 L162.56 774.99 L163.72 775.32 L164.89 775.65 L166.05 775.98 L167.21 776.31 L168.37 776.65 L169.53 776.98 L170.69 777.31 L171.85 777.65 L173.01 777.98 L174.17 778.32 L175.33 778.66 L176.49 779 L177.65 779.34 L178.81 779.68 L179.97 780.02 L181.12 780.36 L182.28 780.7 L183.44 781.04 L184.6 781.39 L185.76 781.73 L186.91 782.08 L188.07 782.42 L189.23 782.77 L190.38 783.12 L191.54 783.47 L192.7 783.82 L193.85 784.17 L195.01 784.52 L196.16 784.87 L197.32 785.22 L198.47 785.58 L199.63 785.93 L200.78 786.28 L201.94 786.64 L203.09 787 L204.24 787.35 L205.4 787.71 L206.55 788.07 L207.7 788.43 L208.86 788.79 L210.01 789.15 L211.16 789.51 L212.31 789.87 L213.47 790.23 L214.62 790.6 L215.77 790.96 L216.92 791.33 L218.07 791.69 L219.22 792.06 L220.38 792.42 L221.53 792.79 L222.68 793.16 L223.83 793.53 L224.98 793.9 L226.13 794.27 L227.28 794.64 L228.43 795.01 L229.58 795.38 L230.72 795.75 L231.87 796.13 L233.02 796.5 L234.17 796.88 L235.32 797.25 L236.47 797.63 L237.62 798 L238.76 798.38 L239.91 798.76 L241.06 799.14 L242.21 799.51 L243.35 799.89 L244.5 800.27 L245.65 800.65 L246.79 801.03 L247.94 801.42 L249.09 801.8 L250.23 802.18 L251.38 802.56 L252.52 802.95 L253.67 803.33 L254.81 803.72 L255.96 804.1 L257.1 804.49 L258.25 804.88 L259.39 805.26 L260.54 805.65 L261.68 806.04 L262.83 806.43 L263.97 806.82 L265.12 807.21 L266.26 807.6 L267.4 807.99 L268.55 808.38 L269.69 808.77 L270.83 809.16 L271.98 809.55 L273.12 809.95 L274.26 810.34 L275.4 810.73 L276.55 811.13 L277.69 811.52 L278.83 811.92 L279.97 812.31 L281.11 812.71 L282.26 813.11 L283.4 813.5 L284.54 813.9 L285.68 814.3 L286.82 814.7 L287.96 815.1 L289.1 815.5 L290.24 815.9 L291.38 816.3 L292.52 816.7 L293.66 817.1 L294.8 817.5 L295.94 817.9 L297.08 818.3 L298.22 818.7 L299.36 819.11 L300.5 819.51 L301.64 819.91 L302.78 820.32 L303.92 820.72 L305.06 821.13 L306.2 821.53 L307.34 821.94 L308.48 822.34 L309.61 822.75 L310.75 823.16 L311.89 823.56 L313.03 823.97 L314.17 824.38 L315.31 824.78 L316.44 825.19 L317.58 825.6 L318.72 826.01 L319.86 826.42 L320.99 826.83 L322.13 827.24 L323.27 827.65 L324.4 828.06 L325.54 828.47 L326.68 828.88 L327.82 829.29 L328.95 829.7 L330.09 830.11 L331.23 830.52 L332.36 830.93 L333.5 831.35 L334.63 831.76 L335.77 832.17 L336.91 832.58 L338.04 833 L339.18 833.41 L340.31 833.82 L341.45 834.24 L342.58 834.65 L343.72 835.07 L344.86 835.48 L345.99 835.89 L347.13 836.31 L348.26 836.72 L349.4 837.14 L350.53 837.55 L351.67 837.97 L352.8 838.39 L353.94 838.8 L355.07 839.22 L356.21 839.63 L357.34 840.05 L358.47 840.47 L359.61 840.88 L360.74 841.3 L361.88 841.72 L363.01 842.13 L364.15 842.55 L365.28 842.97 L366.41 843.39 L367.55 843.8 L368.68 844.22 L369.81 844.64 L370.95 845.06 L372.08 845.48 L373.22 845.89 L374.35 846.31 L375.48 846.73 L376.62 847.15 L377.75 847.57 L378.88 847.99 L380.02 848.4 L381.15 848.82 L382.28 849.24 L383.42 849.66 L384.55 850.08 L385.68 850.5 L386.81 850.92 L387.95 851.34 L389.08 851.76 L390.21 852.18 L391.35 852.59 L392.48 853.01 L393.61 853.43 L394.74 853.85 L395.88 854.27 L397.01 854.69 L398.14 855.11 L399.28 855.53 L400.41 855.95 L401.54 856.37 L402.67 856.79 L403.8 857.21 L404.94 857.63 L406.07 858.05 L407.2 858.46 L408.33 858.88 L409.47 859.3 L410.6 859.72 L411.73 860.14 L412.86 860.56 L414 860.98 L415.13 861.4 L416.26 861.82 L417.39 862.23 L418.52 862.65 L419.66 863.07 L420.79 863.49 L421.92 863.91 L423.05 864.33 L424.18 864.75 L425.32 865.16 L426.45 865.58 L427.58 866 L428.71 866.42 L429.85 866.84 L430.98 867.25 L432.11 867.67" stroke="#e9572a" stroke-width="3.2" stroke-dasharray="16.4 4.7 3.8 4.9"/><path d="M448.78 875.91 L449.4 874.87 L450.02 873.82 L450.63 872.78 L451.23 871.73 L451.83 870.67 L452.43 869.62 L453.02 868.56 L453.6 867.5 L454.18 866.44 L454.76 865.38 L455.33 864.31 L455.9 863.24 L456.47 862.18 L457.03 861.1 L457.59 860.03 L458.14 858.96 L458.7 857.88 L459.25 856.81 L459.8 855.73 L460.34 854.65 L460.89 853.57 L461.43 852.49 L461.98 851.41 L462.52 850.33 L463.06 849.25 L463.59 848.17 L464.13 847.09 L464.67 846 L465.21 844.92 L465.75 843.84 L466.29 842.76 L466.82 841.68 L467.36 840.6 L467.9 839.52 L468.44 838.44 L468.99 837.37 L469.53 836.29 L470.08 835.22 L470.62 834.14 L471.17 833.07 L471.73 832 L472.28 830.93 L472.84 829.86 L473.4 828.8 L473.96 827.74 L474.53 826.67 L475.1 825.62 L475.67 824.56 L476.25 823.51 L476.83 822.45 L477.42 821.41 L478.01 820.36 L478.61 819.32 L479.21 818.28 L479.81 817.24 L480.42 816.21 L481.04 815.18 L481.66 814.16 L482.29 813.13 L482.93 812.11 L483.57 811.1 L484.22 810.09 L484.88 809.08 L485.54 808.08 L486.21 807.09 L486.89 806.09 L487.57 805.1 L488.26 804.12 L488.97 803.14 L489.68 802.17 L490.39 801.2 L491.12 800.24 L491.86 799.28 L492.6 798.33 L493.36 797.38 L494.12 796.44 L494.89 795.5 L495.68 794.58 L496.47 793.65 L497.28 792.74 L498.09 791.82 L498.92 790.92 L499.75 790.02 L500.6 789.13 L501.46 788.25 L502.33 787.37 L503.22 786.5 L504.11 785.64 L505.02 784.78 L505.94 783.93 L506.87 783.1 L507.82 782.27 L508.77 781.46 L509.74 780.67 L510.72 779.91 L511.72 779.16 L512.72 778.45 L513.73 777.77 L514.76 777.13 L515.8 776.52 L516.84 775.95 L517.9 775.43 L518.97 774.96 L520.05 774.54 L521.14 774.17 L522.23 773.86 L523.34 773.61 L524.46 773.42 L525.59 773.3 L526.72 773.25 L527.87 773.27 L529.02 773.36 L530.18 773.51 L531.34 773.72 L532.51 773.98 L533.68 774.3 L534.85 774.65 L536.03 775.05 L537.2 775.49 L538.37 775.95 L539.54 776.45 L540.71 776.96 L541.87 777.5 L543.02 778.05 L544.17 778.61 L545.31 779.17 L546.43 779.74 L547.55 780.3 L548.66 780.85 L549.75 781.39 L550.83 781.92 L551.89 782.42 L552.94 782.9 L553.97 783.37 L554.98 783.84 L555.97 784.31 L556.94 784.8 L557.89 785.33 L558.81 785.89 L559.71 786.5 L560.6 787.17 L561.46 787.89 L562.3 788.65 L563.13 789.45 L563.95 790.29 L564.76 791.15 L565.56 792.03 L566.36 792.93 L567.16 793.83 L567.96 794.75 L568.77 795.66 L569.59 796.56 L570.41 797.45 L571.25 798.33 L572.1 799.2 L572.96 800.05 L573.83 800.89 L574.71 801.73 L575.6 802.55 L576.49 803.37 L577.39 804.17 L578.3 804.97 L579.22 805.76 L580.14 806.54 L581.07 807.32 L582 808.09 L582.94 808.85 L583.88 809.61 L584.82 810.37 L585.77 811.12 L586.72 811.87 L587.67 812.62 L588.63 813.36 L589.58 814.11 L590.54 814.85 L591.49 815.59 L592.45 816.33 L593.4 817.08 L594.36 817.82 L595.31 818.57 L596.26 819.32 L597.2 820.07 L598.14 820.83 L599.08 821.59 L600.02 822.36 L600.95 823.12 L601.88 823.9 L602.81 824.67 L603.73 825.45 L604.65 826.23 L605.57 827.01 L606.49 827.8 L607.4 828.59 L608.31 829.38 L609.22 830.17 L610.13 830.97 L611.03 831.77 L611.93 832.57 L612.84 833.37 L613.73 834.17 L614.63 834.98 L615.53 835.79 L616.42 836.6 L617.32 837.41 L618.21 838.22 L619.1 839.03 L619.99 839.85 L620.88 840.66 L621.77 841.48 L622.66 842.29 L623.55 843.11 L624.43 843.93 L625.32 844.75 L626.21 845.56 L627.09 846.38 L627.98 847.2 L628.87 848.02 L629.76 848.84 L630.64 849.66 L631.53 850.47 L632.42 851.29 L633.31 852.11 L634.2 852.92 L635.09 853.74 L635.98 854.55 L636.87 855.36 L637.76 856.17 L638.66 856.98 L639.56 857.79 L640.45 858.6 L641.35 859.4 L642.25 860.21 L643.16 861.01 L644.06 861.81 L644.97 862.61 L645.88 863.4 L646.79 864.19 L647.7 864.98 L648.61 865.77 L649.53 866.56 L650.45 867.34 L651.38 868.12 L652.3 868.89 L653.23 869.66 L654.16 870.43 L655.1 871.2 L656.04 871.96" stroke="#92278f" stroke-width="3.3" stroke-dasharray="15 6"/><path d="M130.94 745.72 L132.15 745.84 L133.36 745.95 L134.57 746.07 L135.77 746.19 L136.98 746.31 L138.18 746.43 L139.38 746.55 L140.59 746.68 L141.79 746.8 L142.99 746.93 L144.19 747.06 L145.39 747.19 L146.59 747.33 L147.79 747.46 L148.99 747.6 L150.19 747.74 L151.39 747.88 L152.59 748.02 L153.78 748.16 L154.98 748.31 L156.17 748.45 L157.37 748.6 L158.56 748.75 L159.76 748.9 L160.95 749.05 L162.15 749.2 L163.34 749.36 L164.53 749.51 L165.72 749.67 L166.91 749.83 L168.11 749.99 L169.3 750.15 L170.49 750.31 L171.68 750.48 L172.86 750.64 L174.05 750.81 L175.24 750.98 L176.43 751.15 L177.62 751.32 L178.81 751.49 L179.99 751.66 L181.18 751.84 L182.37 752.01 L183.55 752.19 L184.74 752.37 L185.92 752.55 L187.11 752.73 L188.29 752.91 L189.48 753.09 L190.66 753.27 L191.84 753.46 L193.03 753.64 L194.21 753.83 L195.39 754.02 L196.57 754.2 L197.76 754.39 L198.94 754.58 L200.12 754.77 L201.3 754.97 L202.48 755.16 L203.66 755.35 L204.85 755.55 L206.03 755.75 L207.21 755.94 L208.39 756.14 L209.57 756.34 L210.75 756.54 L211.93 756.74 L213.11 756.94 L214.29 757.14 L215.47 757.34 L216.64 757.55 L217.82 757.75 L219 757.96 L220.18 758.16 L221.36 758.37 L222.54 758.57 L223.72 758.78 L224.9 758.99 L226.07 759.2 L227.25 759.41 L228.43 759.62 L229.61 759.83 L230.79 760.04 L231.97 760.25 L233.14 760.46 L234.32 760.68 L235.5 760.89 L236.68 761.1 L237.86 761.32 L239.03 761.53 L240.21 761.75 L241.39 761.96 L242.57 762.18 L243.75 762.4 L244.92 762.61 L246.1 762.83 L247.28 763.05 L248.46 763.27 L249.64 763.49 L250.82 763.7 L251.99 763.92 L253.17 764.14 L254.35 764.36 L255.53 764.58 L256.71 764.8 L257.89 765.02 L259.07 765.24 L260.25 765.47 L261.43 765.69 L262.61 765.91 L263.79 766.13 L264.97 766.35 L266.15 766.57 L267.33 766.79 L268.51 767.02 L269.69 767.24 L270.87 767.46 L272.05 767.68 L273.23 767.91 L274.41 768.13 L275.6 768.35 L276.78 768.57 L277.96 768.8 L279.14 769.02 L280.33 769.24 L281.51 769.46 L282.69 769.68 L283.88 769.91 L285.06 770.13 L286.25 770.35 L287.43 770.57 L288.62 770.79 L289.8 771.02 L290.99 771.24 L292.17 771.46 L293.36 771.68 L294.55 771.9 L295.73 772.12 L296.92 772.34 L298.11 772.56 L299.3 772.78 L300.49 773 L301.67 773.22 L302.86 773.44 L304.05 773.66 L305.24 773.87 L306.43 774.09 L307.63 774.31 L308.82 774.52 L310.01 774.74 L311.2 774.95 L312.39 775.16 L313.59 775.37 L314.78 775.58 L315.97 775.79 L317.17 776 L318.36 776.2 L319.55 776.4 L320.75 776.6 L321.94 776.8 L323.14 776.99 L324.33 777.19 L325.53 777.38 L326.72 777.56 L327.92 777.75 L329.11 777.93 L330.31 778.11 L331.5 778.28 L332.7 778.46 L333.89 778.62 L335.09 778.79 L336.29 778.95 L337.48 779.11 L338.68 779.26 L339.87 779.41 L341.07 779.56 L342.27 779.7 L343.46 779.84 L344.66 779.97 L345.85 780.1 L347.05 780.22 L348.25 780.34 L349.44 780.45 L350.64 780.56 L351.83 780.67 L353.03 780.76 L354.22 780.86 L355.42 780.94 L356.61 781.03 L357.81 781.1 L359 781.17 L360.2 781.24 L361.39 781.29 L362.59 781.35 L363.78 781.39 L364.98 781.43 L366.17 781.46 L367.36 781.49 L368.56 781.51 L369.75 781.52 L370.94 781.52 L372.13 781.52 L373.33 781.51 L374.52 781.49 L375.71 781.47 L376.9 781.44 L378.09 781.4 L379.28 781.35 L380.47 781.29 L381.66 781.23 L382.85 781.16 L384.04 781.07 L385.22 780.99 L386.41 780.89 L387.6 780.78 L388.79 780.67 L389.97 780.54 L391.16 780.41 L392.34 780.27 L393.53 780.11 L394.71 779.95 L395.89 779.78 L397.08 779.61 L398.26 779.42 L399.44 779.23 L400.62 779.02 L401.79 778.81 L402.97 778.59 L404.15 778.36 L405.32 778.12 L406.49 777.87 L407.67 777.62 L408.84 777.35 L410 777.08 L411.17 776.8 L412.33 776.51 L413.5 776.22 L414.66 775.91 L415.82 775.6 L416.98 775.28 L418.13 774.95 L419.28 774.61 L420.44 774.27 L421.58 773.92 L422.73 773.56 L423.87 773.19 L425.02 772.81 L426.15 772.43 L427.29 772.03 L428.42 771.63 L429.56 771.23 L430.68 770.81 L431.81 770.39 L432.93 769.96 L434.05 769.52 L435.17 769.08 L436.28 768.63 L437.39 768.17 L438.5 767.7 L439.6 767.23 L440.7 766.74 L441.8 766.26 L442.89 765.76 L443.98 765.26 L445.07 764.75 L446.15 764.23 L447.23 763.71 L448.3 763.18 L449.37 762.64 L450.44 762.1 L451.5 761.54 L452.56 760.99 L453.61 760.42 L454.66 759.85 L455.71 759.27 L456.76 758.69 L457.8 758.11 L458.83 757.51 L459.87 756.92 L460.9 756.31 L461.93 755.71 L462.96 755.1 L463.99 754.48 L465.01 753.87 L466.03 753.25 L467.05 752.62 L468.07 752 L469.09 751.37 L470.11 750.74 L471.13 750.11 L472.14 749.47 L473.16 748.84 L474.17 748.2 L475.19 747.57 L476.2 746.93 L477.22 746.29 L478.24 745.66 L479.26 745.02 L480.27 744.39 L481.29 743.75 L482.31 743.12 L483.34 742.49 L484.36 741.86 L485.39 741.23 L486.41 740.6 L487.44 739.98 L488.48 739.36 L489.51 738.74 L490.55 738.13 L491.59 737.52 L492.63 736.91 L493.68 736.31 L494.73 735.72 L495.78 735.12 L496.84 734.54 L497.91 733.95 L498.97 733.38 L500.04 732.81 L501.12 732.24 L502.2 731.69 L503.28 731.14 L504.37 730.59 L505.47 730.06 L506.57 729.53 L507.68 729 L508.79 728.49 L509.9 727.97 L511.01 727.46 L512.11 726.95 L513.21 726.43 L514.31 725.91 L515.39 725.38 L516.47 724.85 L517.53 724.3 L518.58 723.74 L519.61 723.17 L520.62 722.58 L521.61 721.97 L522.57 721.34 L523.52 720.69 L524.43 720.02 L525.32 719.32 L526.17 718.59 L527 717.83 L527.78 717.03 L528.53 716.21 L529.25 715.35 L529.93 714.46 L530.58 713.55 L531.2 712.6 L531.79 711.63 L532.35 710.63 L532.88 709.6 L533.38 708.55 L533.85 707.48 L534.3 706.39 L534.73 705.28 L535.13 704.14 L535.51 702.99 L535.87 701.83 L536.21 700.65 L536.53 699.45 L536.84 698.24 L537.12 697.02 L537.39 695.79 L537.65 694.55 L537.89 693.31 L538.12 692.05 L538.34 690.79 L538.55 689.53 L538.75 688.26 L538.95 686.99 L539.13 685.72 L539.31 684.45 L539.49 683.18 L539.66 681.91 L539.83 680.65 L539.99 679.39 L540.16 678.14 L540.32 676.89 L540.49 675.65 L540.65 674.41 L540.81 673.18 L540.97 671.96 L541.13 670.73 L541.28 669.52 L541.44 668.3 L541.6 667.09 L541.75 665.89 L541.9 664.68 L542.05 663.48 L542.2 662.29 L542.35 661.1 L542.5 659.91 L542.65 658.72 L542.79 657.54 L542.94 656.36 L543.08 655.18 L543.22 654.01 L543.36 652.83 L543.5 651.66 L543.64 650.49 L543.78 649.32 L543.92 648.16 L544.05 646.99 L544.18 645.83 L544.32 644.67 L544.45 643.51 L544.58 642.35 L544.71 641.19 L544.83 640.03 L544.96 638.87 L545.08 637.71 L545.21 636.56 L545.33 635.4 L545.45 634.24 L545.57 633.08 L545.69 631.92 L545.81 630.76 L545.92 629.6 L546.04 628.44 L546.15 627.28 L546.27 626.11 L546.38 624.95 L546.49 623.78 L546.6 622.61 L546.7 621.44 L546.81 620.27 L546.92 619.1 L547.02 617.92 L547.12 616.74 L547.23 615.56 L547.33 614.38 L547.42 613.19 L547.52 612 L547.62 610.8 L547.71 609.61 L547.81 608.41 L547.9 607.21 L547.99 606 L548.09 604.79 L548.18 603.59 L548.26 602.37 L548.35 601.16 L548.44 599.94 L548.53 598.73 L548.61 597.51 L548.7 596.29 L548.78 595.07 L548.86 593.84 L548.95 592.62 L549.03 591.39 L549.11 590.16 L549.19 588.93 L549.27 587.71 L549.35 586.48 L549.43 585.25 L549.5 584.01 L549.58 582.78 L549.66 581.55 L549.74 580.32 L549.81 579.09 L549.89 577.86 L549.96 576.62 L550.04 575.39 L550.12 574.16 L550.19 572.93 L550.27 571.7 L550.34 570.47 L550.42 569.24 L550.49 568.01 L550.56 566.79 L550.64 565.56 L550.71 564.34 L550.79 563.12 L550.86 561.89 L550.94 560.67 L551.01 559.46 L551.09 558.24 L551.16 557.03 L551.24 555.81 L551.32 554.6 L551.39 553.4 L551.47 552.19 L551.55 550.99 L551.62 549.79 L551.7 548.59 L551.78 547.4 L551.86 546.21 L551.94 545.02 L552.02 543.83 L552.1 542.65 L552.18 541.47 L552.26 540.3 L552.35 539.12 L552.43 537.96 L552.51 536.79 L552.6 535.63 L552.69 534.48 L552.77 533.32 L552.86 532.18 L552.95 531.03 L553.04 529.9 L553.13 528.76 L553.22 527.63 L553.31 526.51 L553.41 525.39 L553.5 524.28 L553.6 523.17 L553.7 522.06 L553.8 520.97 L553.9 519.87 L554 518.79 L554.1 517.7 L554.2 516.62 L554.31 515.55 L554.41 514.46 L554.52 513.38 L554.63 512.28 L554.74 511.18 L554.85 510.06 L554.97 508.93 L555.08 507.78 L555.19 506.61 L555.31 505.42 L555.43 504.2 L555.55 502.96 L555.66 501.68 L555.79 500.37 L555.91 499.03 L556.03 497.64 L556.15 496.22 L556.28 494.75 L556.4 493.24 L556.53 491.68 L556.66 490.07 L556.78 488.43 L556.91 486.78 L557.04 485.13 L557.17 483.5 L557.3 481.91 L557.43 480.37 L557.56 478.9 L557.69 477.51 L557.82 476.23 L557.95 475.06 L558.08 474.04 L558.2 473.16 L558.33 472.45 L558.46 471.93 L558.58 471.61 L558.7 471.51 L558.82 471.63 L558.94 471.98 L559.06 472.53 L559.18 473.25 L559.3 474.15 L559.42 475.2 L559.54 476.38 L559.66 477.67 L559.79 479.07 L559.91 480.55 L560.04 482.09 L560.17 483.68 L560.3 485.31 L560.44 486.95 L560.58 488.59 L560.73 490.21 L560.88 491.79 L561.04 493.33 L561.2 494.81 L561.36 496.25 L561.53 497.64 L561.71 498.98 L561.88 500.29 L562.06 501.56 L562.24 502.79 L562.43 504 L562.61 505.17 L562.8 506.32 L562.99 507.45 L563.17 508.56 L563.36 509.66 L563.55 510.74 L563.73 511.81 L563.92 512.87 L564.1 513.93 L564.28 514.99 L564.46 516.05 L564.63 517.11 L564.8 518.18 L564.97 519.27 L565.13 520.36 L565.29 521.46 L565.44 522.58 L565.6 523.7 L565.74 524.83 L565.89 525.98 L566.03 527.13 L566.17 528.28 L566.3 529.45 L566.43 530.62 L566.56 531.8 L566.69 532.98 L566.81 534.18 L566.93 535.37 L567.05 536.57 L567.17 537.78 L567.28 538.99 L567.4 540.2 L567.51 541.41 L567.62 542.63 L567.72 543.85 L567.83 545.07 L567.93 546.3 L568.04 547.52 L568.14 548.74 L568.24 549.97 L568.34 551.19 L568.44 552.41 L568.54 553.64 L568.64 554.86 L568.74 556.08 L568.83 557.3 L568.93 558.52 L569.03 559.74 L569.13 560.96 L569.22 562.18 L569.32 563.4 L569.42 564.61 L569.52 565.83 L569.62 567.04 L569.72 568.26 L569.82 569.47 L569.92 570.69 L570.02 571.9 L570.13 573.11 L570.23 574.32 L570.34 575.53 L570.45 576.74 L570.56 577.94 L570.67 579.15 L570.78 580.35 L570.9 581.56 L571.02 582.76 L571.14 583.96 L571.26 585.16 L571.38 586.36 L571.51 587.56 L571.64 588.76 L571.77 589.96 L571.91 591.15 L572.05 592.34 L572.19 593.54 L572.33 594.73 L572.48 595.92 L572.63 597.1 L572.79 598.29 L572.95 599.48 L573.11 600.66 L573.28 601.84 L573.45 603.02 L573.62 604.2 L573.8 605.38 L573.98 606.56 L574.17 607.73 L574.36 608.9 L574.56 610.07 L574.76 611.24 L574.97 612.41 L575.18 613.58 L575.4 614.74 L575.62 615.9 L575.85 617.07 L576.08 618.22 L576.32 619.38 L576.57 620.54 L576.82 621.69 L577.07 622.84 L577.34 623.99 L577.6 625.14 L577.88 626.28 L578.16 627.43 L578.45 628.57 L578.74 629.71 L579.04 630.85 L579.35 631.98 L579.67 633.12 L579.99 634.25 L580.32 635.38 L580.65 636.51 L581 637.64 L581.34 638.77 L581.7 639.91 L582.06 641.04 L582.43 642.17 L582.8 643.31 L583.18 644.45 L583.57 645.59 L583.97 646.73 L584.37 647.88 L584.77 649.04 L585.18 650.19 L585.6 651.35 L586.03 652.52 L586.46 653.69 L586.89 654.87 L587.34 656.06 L587.78 657.25 L588.24 658.45 L588.7 659.66 L589.16 660.87 L589.63 662.1 L590.12 663.32 L590.63 664.54 L591.18 665.74 L591.77 666.92 L592.43 668.06 L593.16 669.15 L593.95 670.16 L594.8 671.08 L595.69 671.87 L596.61 672.51 L597.56 672.96 L598.51 673.21 L599.47 673.22 L600.43 672.98 L601.35 672.53 L602.24 671.91 L603.07 671.18 L603.83 670.38 L604.53 669.52 L605.17 668.59 L605.75 667.6 L606.28 666.56 L606.75 665.47 L607.19 664.34 L607.58 663.17 L607.93 661.96 L608.25 660.72 L608.54 659.46 L608.8 658.19 L609.03 656.89 L609.25 655.59 L609.44 654.28 L609.63 652.97 L609.8 651.66 L609.97 650.37 L610.13 649.08 L610.28 647.8 L610.43 646.52 L610.57 645.26 L610.71 644 L610.84 642.75 L610.97 641.51 L611.09 640.27 L611.2 639.04 L611.31 637.82 L611.42 636.6 L611.52 635.39 L611.61 634.18 L611.71 632.98 L611.79 631.78 L611.88 630.59 L611.96 629.4 L612.04 628.22 L612.11 627.04 L612.18 625.86 L612.25 624.69 L612.31 623.52 L612.37 622.35 L612.43 621.19 L612.49 620.02 L612.54 618.86 L612.59 617.7 L612.64 616.55 L612.69 615.39 L612.74 614.23 L612.78 613.08 L612.83 611.93 L612.87 610.77 L612.91 609.62 L612.95 608.46 L613 607.31 L613.04 606.15 L613.08 604.99 L613.12 603.83 L613.16 602.67 L613.2 601.51 L613.24 600.35 L613.28 599.18 L613.32 598.01 L613.37 596.83 L613.41 595.66 L613.46 594.48 L613.5 593.3 L613.55 592.11 L613.6 590.92 L613.65 589.72 L613.71 588.52 L613.76 587.31 L613.82 586.1 L613.88 584.89 L613.94 583.67 L614.01 582.46 L614.07 581.23 L614.14 580.01 L614.2 578.78 L614.27 577.55 L614.34 576.32 L614.41 575.09 L614.48 573.85 L614.55 572.62 L614.62 571.38 L614.69 570.14 L614.76 568.91 L614.83 567.67 L614.9 566.43 L614.98 565.2 L615.05 563.96 L615.12 562.73 L615.19 561.49 L615.26 560.26 L615.33 559.03 L615.4 557.8 L615.47 556.58 L615.54 555.36 L615.61 554.14 L615.68 552.93 L615.75 551.72 L615.82 550.51 L615.89 549.31 L615.96 548.12 L616.03 546.93 L616.1 545.75 L616.18 544.58 L616.25 543.41 L616.32 542.25 L616.4 541.1 L616.48 539.96 L616.56 538.83 L616.64 537.71 L616.72 536.6 L616.8 535.5 L616.88 534.41 L616.97 533.32 L617.06 532.23 L617.14 531.15 L617.23 530.06 L617.32 528.97 L617.41 527.87 L617.5 526.76 L617.59 525.63 L617.68 524.5 L617.76 523.34 L617.85 522.17 L617.94 520.97 L618.02 519.75 L618.1 518.5 L618.19 517.22 L618.27 515.91 L618.34 514.57 L618.42 513.18 L618.49 511.76 L618.56 510.29 L618.63 508.78 L618.7 507.23 L618.76 505.64 L618.82 504.03 L618.88 502.4 L618.93 500.77 L618.98 499.13 L619.03 497.51 L619.08 495.9 L619.13 494.32 L619.17 492.78 L619.22 491.28 L619.26 489.84 L619.3 488.45 L619.34 487.14 L619.38 485.91 L619.42 484.76 L619.45 483.72 L619.49 482.77 L619.52 481.94 L619.56 481.24 L619.59 480.66 L619.62 480.22 L619.66 479.94 L619.69 479.81 L619.72 479.84 L619.76 480.04 L619.79 480.39 L619.83 480.89 L619.86 481.52 L619.9 482.28 L619.93 483.16 L619.97 484.15 L620 485.24 L620.04 486.42 L620.08 487.69 L620.12 489.03 L620.16 490.44 L620.2 491.91 L620.24 493.43 L620.28 494.99 L620.32 496.59 L620.37 498.21 L620.41 499.84 L620.46 501.48 L620.5 503.12 L620.55 504.75 L620.6 506.36 L620.65 507.94 L620.7 509.49 L620.75 510.99 L620.81 512.45 L620.86 513.87 L620.92 515.25 L620.98 516.6 L621.04 517.91 L621.09 519.19 L621.15 520.45 L621.21 521.68 L621.27 522.88 L621.33 524.06 L621.4 525.22 L621.46 526.36 L621.52 527.49 L621.58 528.61 L621.64 529.71 L621.7 530.81 L621.76 531.9 L621.81 532.99 L621.87 534.08 L621.93 535.17 L621.98 536.26 L622.04 537.35 L622.09 538.46 L622.15 539.57 L622.2 540.69 L622.25 541.81 L622.3 542.94 L622.34 544.08 L622.39 545.22 L622.44 546.37 L622.48 547.52 L622.53 548.68 L622.57 549.85 L622.61 551.01 L622.66 552.19 L622.7 553.37 L622.74 554.55 L622.78 555.74 L622.82 556.93 L622.86 558.13 L622.89 559.33 L622.93 560.53 L622.97 561.74 L623 562.95 L623.04 564.16 L623.07 565.38 L623.11 566.6 L623.14 567.82 L623.18 569.05 L623.21 570.27 L623.25 571.5 L623.28 572.73 L623.31 573.96 L623.34 575.2 L623.38 576.43 L623.41 577.67 L623.44 578.9 L623.47 580.14 L623.5 581.38 L623.54 582.61 L623.57 583.85 L623.6 585.09 L623.63 586.33 L623.66 587.56 L623.7 588.8 L623.73 590.04 L623.76 591.27 L623.79 592.51 L623.83 593.74 L623.86 594.97 L623.89 596.2 L623.93 597.43 L623.96 598.65 L624 599.88 L624.03 601.1 L624.07 602.31 L624.1 603.53 L624.14 604.74 L624.18 605.96 L624.21 607.17 L624.25 608.37 L624.29 609.58 L624.33 610.78 L624.37 611.98 L624.41 613.18 L624.45 614.38 L624.49 615.58 L624.53 616.77 L624.57 617.96 L624.61 619.15 L624.65 620.34 L624.7 621.53 L624.74 622.72 L624.78 623.9 L624.83 625.09 L624.87 626.27 L624.92 627.45 L624.96 628.64 L625.01 629.82 L625.05 630.99 L625.1 632.17 L625.15 633.35 L625.2 634.53 L625.24 635.7 L625.29 636.88 L625.34 638.06 L625.39 639.23 L625.44 640.41 L625.49 641.58 L625.54 642.75 L625.59 643.93 L625.65 645.1 L625.7 646.28 L625.75 647.45 L625.8 648.62 L625.86 649.8 L625.91 650.97 L625.97 652.15 L626.02 653.32 L626.08 654.5 L626.14 655.67 L626.19 656.85 L626.25 658.03 L626.31 659.21 L626.37 660.39 L626.42 661.56 L626.48 662.74 L626.54 663.93 L626.6 665.11 L626.66 666.29 L626.73 667.48 L626.79 668.66 L626.85 669.85 L626.91 671.04 L626.98 672.23 L627.04 673.42 L627.1 674.61 L627.17 675.81 L627.23 677 L627.3 678.2 L627.37 679.4 L627.43 680.6 L627.5 681.8 L627.57 683.01 L627.64 684.22 L627.71 685.42 L627.78 686.64 L627.85 687.85 L627.92 689.07 L627.99 690.28 L628.06 691.51 L628.13 692.73 L628.2 693.95 L628.28 695.18 L628.35 696.42 L628.43 697.65 L628.5 698.89 L628.58 700.13 L628.65 701.37 L628.73 702.61 L628.81 703.86 L628.89 705.11 L628.97 706.36 L629.06 707.61 L629.15 708.86 L629.25 710.11 L629.35 711.36 L629.46 712.61 L629.57 713.85 L629.69 715.1 L629.82 716.34 L629.95 717.58 L630.1 718.82 L630.25 720.05 L630.41 721.28 L630.58 722.5 L630.77 723.72 L630.96 724.93 L631.17 726.14 L631.38 727.34 L631.61 728.54 L631.86 729.72 L632.12 730.9 L632.39 732.08 L632.68 733.24 L632.98 734.39 L633.3 735.54 L633.63 736.67 L633.98 737.8 L634.36 738.91 L634.74 740.01 L635.15 741.1 L635.58 742.18 L636.03 743.25 L636.49 744.3 L636.98 745.34 L637.49 746.37 L638.02 747.38 L638.58 748.38 L639.16 749.36 L639.76 750.33 L640.38 751.28 L641.03 752.22 L641.71 753.14 L642.4 754.04 L643.12 754.93 L643.86 755.81 L644.62 756.67 L645.41 757.51 L646.21 758.35 L647.03 759.16 L647.87 759.97 L648.72 760.76 L649.6 761.54 L650.49 762.31 L651.39 763.07 L652.32 763.81 L653.25 764.54 L654.2 765.26 L655.17 765.97 L656.15 766.67 L657.14 767.36 L658.14 768.03 L659.15 768.7 L660.17 769.36 L661.21 770.01 L662.25 770.65 L663.3 771.28 L664.36 771.9 L665.43 772.52 L666.5 773.12 L667.58 773.72 L668.67 774.31 L669.76 774.9 L670.85 775.47 L671.95 776.04 L673.05 776.61 L674.16 777.17 L675.26 777.72 L676.37 778.27 L677.48 778.81 L678.59 779.35 L679.69 779.88 L680.8 780.41 L681.91 780.93 L683.02 781.45 L684.13 781.96 L685.24 782.47 L686.35 782.98 L687.46 783.48 L688.57 783.97 L689.68 784.46 L690.79 784.95 L691.9 785.43 L693.02 785.91 L694.13 786.39 L695.24 786.86 L696.35 787.33 L697.47 787.79 L698.58 788.25 L699.69 788.71 L700.81 789.17 L701.92 789.62 L703.04 790.06 L704.15 790.51 L705.27 790.95 L706.38 791.38 L707.5 791.82 L708.62 792.25 L709.74 792.67 L710.85 793.1 L711.97 793.52 L713.09 793.94 L714.21 794.36 L715.33 794.77 L716.45 795.18 L717.57 795.59 L718.69 796 L719.81 796.4 L720.93 796.8 L722.06 797.2 L723.18 797.6 L724.3 798 L725.43 798.39 L726.55 798.78 L727.68 799.17 L728.81 799.56 L729.93 799.94 L731.06 800.33 L732.19 800.71 L733.32 801.09 L734.44 801.47 L735.57 801.85 L736.7 802.23 L737.84 802.6 L738.97 802.98 L740.1 803.35 L741.23 803.73 L742.37 804.1 L743.5 804.47 L744.63 804.84 L745.77 805.21 L746.91 805.57 L748.04 805.94 L749.18 806.31 L750.32 806.67 L751.46 807.04 L752.6 807.4 L753.74 807.76 L754.88 808.12 L756.02 808.48 L757.16 808.84 L758.3 809.2 L759.45 809.56 L760.59 809.92 L761.74 810.27 L762.88 810.63 L764.03 810.98 L765.17 811.33 L766.32 811.68 L767.47 812.03 L768.61 812.38 L769.76 812.73 L770.91 813.08 L772.06 813.42 L773.21 813.77 L774.36 814.11 L775.51 814.45 L776.67 814.79 L777.82 815.13 L778.97 815.47 L780.12 815.81 L781.28 816.15 L782.43 816.48 L783.59 816.81 L784.74 817.15 L785.9 817.48 L787.06 817.81 L788.21 818.14 L789.37 818.47 L790.53 818.79 L791.69 819.12 L792.84 819.44 L794 819.77 L795.16 820.09 L796.32 820.41 L797.48 820.73 L798.65 821.04 L799.81 821.36 L800.97 821.67 L802.13 821.99 L803.29 822.3 L804.46 822.61 L805.62 822.92 L806.79 823.23 L807.95 823.54 L809.12 823.84 L810.28 824.14 L811.45 824.45 L812.61 824.75 L813.78 825.05 L814.95 825.35 L816.11 825.64 L817.28 825.94 L818.45 826.23 L819.62 826.52 L820.79 826.81 L821.95 827.1 L823.12 827.39 L824.29 827.68 L825.46 827.96 L826.63 828.25 L827.8 828.53 L828.97 828.81 L830.15 829.09 L831.32 829.36 L832.49 829.64 L833.66 829.91 L834.83 830.18 L836.01 830.45 L837.18 830.72 L838.35 830.99 L839.53 831.26 L840.7 831.52 L841.88 831.78 L843.05 832.04 L844.22 832.3 L845.4 832.56 L846.57 832.82 L847.75 833.07 L848.93 833.32 L850.1 833.57 L851.28 833.82 L852.45 834.07 L853.63 834.31 L854.81 834.56 L855.98 834.8 L857.16 835.04 L858.34 835.28 L859.52 835.52 L860.69 835.75 L861.87 835.98 L863.05 836.22 L864.23 836.44 L865.41 836.67 L866.58 836.9 L867.76 837.12 L868.94 837.35 L870.12 837.57 L871.3 837.79 L872.48 838.01 L873.66 838.23 L874.84 838.44 L876.02 838.66 L877.2 838.87 L878.38 839.08 L879.56 839.29 L880.75 839.5 L881.93 839.71 L883.11 839.91 L884.29 840.12 L885.47 840.32 L886.65 840.52 L887.84 840.72 L889.02 840.92 L890.2 841.12 L891.38 841.32 L892.57 841.51 L893.75 841.71 L894.93 841.9 L896.12 842.09 L897.3 842.28 L898.49 842.47 L899.67 842.66 L900.86 842.85 L902.04 843.04 L903.23 843.23 L904.41 843.41 L905.6 843.6 L906.78 843.78 L907.97 843.96 L909.15 844.14 L910.34 844.32 L911.53 844.5 L912.71 844.68 L913.9 844.86 L915.09 845.04 L916.27 845.21 L917.46 845.39 L918.65 845.56 L919.84 845.74 L921.03 845.91 L922.21 846.09 L923.4 846.26 L924.59 846.43 L925.78 846.6 L926.97 846.77 L928.16 846.94 L929.35 847.11 L930.54 847.28 L931.73 847.45 L932.92 847.62 L934.11 847.78 L935.3 847.95 L936.49 848.12 L937.68 848.28 L938.88 848.45 L940.07 848.61 L941.26 848.78 L942.45 848.94 L943.64 849.11 L944.84 849.27 L946.03 849.44 L947.22 849.6 L948.41 849.76 L949.61 849.93 L950.8 850.09 L952 850.25" stroke="#000" stroke-width="4.4"/><path d="M538.89 880.01 L538.91 878.81 L538.94 877.6 L538.97 876.4 L539 875.2 L539.03 873.99 L539.06 872.79 L539.09 871.59 L539.12 870.38 L539.15 869.18 L539.19 867.98 L539.22 866.77 L539.25 865.57 L539.29 864.37 L539.32 863.16 L539.35 861.96 L539.39 860.76 L539.42 859.56 L539.46 858.35 L539.49 857.15 L539.53 855.95 L539.57 854.74 L539.6 853.54 L539.64 852.34 L539.68 851.14 L539.71 849.93 L539.75 848.73 L539.79 847.53 L539.83 846.33 L539.87 845.12 L539.91 843.92 L539.95 842.72 L539.99 841.52 L540.03 840.31 L540.07 839.11 L540.11 837.91 L540.15 836.71 L540.2 835.51 L540.24 834.3 L540.28 833.1 L540.32 831.9 L540.37 830.7 L540.41 829.5 L540.45 828.29 L540.5 827.09 L540.54 825.89 L540.59 824.69 L540.63 823.49 L540.68 822.28 L540.72 821.08 L540.77 819.88 L540.82 818.68 L540.86 817.48 L540.91 816.27 L540.96 815.07 L541 813.87 L541.05 812.67 L541.1 811.47 L541.15 810.27 L541.2 809.06 L541.24 807.86 L541.29 806.66 L541.34 805.46 L541.39 804.26 L541.44 803.06 L541.49 801.86 L541.54 800.65 L541.59 799.45 L541.64 798.25 L541.69 797.05 L541.75 795.85 L541.8 794.65 L541.85 793.45 L541.9 792.24 L541.95 791.04 L542.01 789.84 L542.06 788.64 L542.11 787.44 L542.16 786.24 L542.22 785.04 L542.27 783.84 L542.32 782.63 L542.38 781.43 L542.43 780.23 L542.49 779.03 L542.54 777.83 L542.59 776.63 L542.65 775.43 L542.7 774.23 L542.76 773.03 L542.81 771.82 L542.87 770.62 L542.93 769.42 L542.98 768.22 L543.04 767.02 L543.09 765.82 L543.15 764.62 L543.21 763.42 L543.26 762.22 L543.32 761.02 L543.38 759.81 L543.43 758.61 L543.49 757.41 L543.55 756.21 L543.6 755.01 L543.66 753.81 L543.72 752.61 L543.78 751.41 L543.84 750.21 L543.89 749.01 L543.95 747.81 L544.01 746.6 L544.07 745.4 L544.13 744.2 L544.19 743 L544.24 741.8 L544.3 740.6 L544.36 739.4 L544.42 738.2 L544.48 737 L544.54 735.8 L544.6 734.6 L544.66 733.4 L544.72 732.19 L544.78 730.99 L544.83 729.79 L544.89 728.59 L544.95 727.39 L545.01 726.19 L545.07 724.99 L545.13 723.79 L545.19 722.59 L545.25 721.39 L545.31 720.19 L545.37 718.99 L545.43 717.78 L545.49 716.58 L545.55 715.38 L545.61 714.18 L545.67 712.98 L545.73 711.78 L545.79 710.58 L545.85 709.38 L545.91 708.18 L545.97 706.98 L546.03 705.78 L546.09 704.58 L546.16 703.37 L546.22 702.17 L546.28 700.97 L546.34 699.77 L546.4 698.57 L546.46 697.37 L546.52 696.17 L546.58 694.97 L546.64 693.77 L546.7 692.57 L546.76 691.37 L546.82 690.16 L546.88 688.96 L546.94 687.76 L547 686.56 L547.06 685.36 L547.12 684.16 L547.18 682.96 L547.24 681.76 L547.3 680.56 L547.36 679.36 L547.42 678.15 L547.48 676.95 L547.54 675.75 L547.6 674.55 L547.66 673.35 L547.71 672.15 L547.77 670.95 L547.83 669.75 L547.89 668.55 L547.95 667.34 L548.01 666.14 L548.07 664.94 L548.13 663.74 L548.19 662.54 L548.25 661.34 L548.3 660.14 L548.36 658.94 L548.42 657.73 L548.48 656.53 L548.54 655.33 L548.6 654.13 L548.65 652.93 L548.71 651.73 L548.77 650.53 L548.83 649.32 L548.88 648.12 L548.94 646.92 L549 645.72 L549.05 644.52 L549.11 643.32 L549.17 642.12 L549.22 640.91 L549.28 639.71 L549.34 638.51 L549.39 637.31 L549.45 636.11 L549.5 634.91 L549.56 633.7 L549.62 632.5 L549.67 631.3 L549.73 630.1 L549.78 628.9 L549.84 627.69 L549.89 626.49 L549.94 625.29 L550 624.09 L550.05 622.89 L550.11 621.68 L550.16 620.48 L550.21 619.28 L550.27 618.08 L550.32 616.88 L550.37 615.67 L550.42 614.47 L550.48 613.27 L550.53 612.07 L550.58 610.86 L550.63 609.66 L550.68 608.46 L550.73 607.26 L550.79 606.06 L550.84 604.85 L550.89 603.65 L550.94 602.45 L550.99 601.25 L551.04 600.04 L551.09 598.84 L551.14 597.64 L551.18 596.43 L551.23 595.23 L551.28 594.03 L551.33 592.83 L551.38 591.62 L551.43 590.42 L551.47 589.22 L551.52 588.01 L551.57 586.81 L551.61 585.61 L551.66 584.41 L551.71 583.2 L551.75 582 L551.8 580.8 L551.84 579.59 L551.89 578.39 L551.93 577.19 L551.97 575.98 L552.02 574.78 L552.06 573.58 L552.11 572.37 L552.15 571.17 L552.19 569.97 L552.23 568.76 L552.28 567.56 L552.32 566.36 L552.36 565.15 L552.4 563.95 L552.45 562.75 L552.49 561.54 L552.53 560.34 L552.58 559.14 L552.62 557.93 L552.66 556.73 L552.71 555.53 L552.75 554.33 L552.8 553.13 L552.84 551.92 L552.89 550.72 L552.93 549.52 L552.98 548.32 L553.03 547.12 L553.08 545.92 L553.12 544.72 L553.17 543.52 L553.22 542.32 L553.27 541.12 L553.33 539.93 L553.38 538.73 L553.43 537.53 L553.49 536.33 L553.54 535.14 L553.6 533.94 L553.66 532.74 L553.72 531.55 L553.78 530.36 L553.84 529.16 L553.9 527.97 L553.97 526.77 L554.03 525.58 L554.1 524.39 L554.17 523.2 L554.24 522.01 L554.31 520.82 L554.38 519.63 L554.46 518.44 L554.53 517.25 L554.61 516.06 L554.69 514.88 L554.77 513.69 L554.86 512.51 L554.94 511.32 L555.03 510.14 L555.12 508.96 L555.21 507.77 L555.3 506.59 L555.4 505.39 L555.5 504.19 L555.6 502.98 L555.71 501.76 L555.82 500.52 L555.94 499.27 L556.06 498 L556.19 496.7 L556.32 495.38 L556.46 494.03 L556.6 492.66 L556.75 491.25 L556.91 489.82 L557.08 488.39 L557.25 486.99 L557.42 485.66 L557.61 484.44 L557.79 483.36 L557.98 482.45 L558.18 481.75 L558.37 481.3 L558.57 481.12 L558.77 481.24 L558.97 481.65 L559.18 482.31 L559.38 483.18 L559.57 484.23 L559.77 485.43 L559.95 486.74 L560.14 488.12 L560.31 489.55 L560.47 490.99 L560.63 492.4 L560.77 493.78 L560.91 495.13 L561.03 496.46 L561.15 497.76 L561.27 499.04 L561.37 500.31 L561.48 501.55 L561.57 502.78 L561.66 504 L561.75 505.2 L561.84 506.4 L561.93 507.59 L562.01 508.78 L562.1 509.97 L562.19 511.16 L562.27 512.34 L562.36 513.53 L562.45 514.72 L562.53 515.91 L562.62 517.1 L562.71 518.28 L562.8 519.47 L562.89 520.66 L562.98 521.85 L563.07 523.04 L563.17 524.23 L563.26 525.42 L563.35 526.62 L563.45 527.81 L563.54 529 L563.63 530.19 L563.73 531.38 L563.83 532.57 L563.92 533.77 L564.02 534.96 L564.12 536.15 L564.22 537.35 L564.32 538.54 L564.41 539.73 L564.51 540.93 L564.62 542.12 L564.72 543.31 L564.82 544.51 L564.92 545.7 L565.02 546.9 L565.13 548.09 L565.23 549.29 L565.34 550.48 L565.44 551.68 L565.55 552.87 L565.65 554.07 L565.76 555.27 L565.87 556.46 L565.98 557.66 L566.08 558.85 L566.19 560.05 L566.3 561.25 L566.41 562.44 L566.53 563.64 L566.64 564.84 L566.75 566.03 L566.86 567.23 L566.98 568.43 L567.09 569.63 L567.2 570.82 L567.32 572.02 L567.44 573.22 L567.55 574.42 L567.67 575.61 L567.79 576.81 L567.9 578.01 L568.02 579.21 L568.14 580.4 L568.26 581.6 L568.38 582.8 L568.5 584 L568.63 585.2 L568.75 586.39 L568.87 587.59 L568.99 588.79 L569.12 589.99 L569.24 591.19 L569.37 592.38 L569.49 593.58 L569.62 594.78 L569.75 595.98 L569.88 597.18 L570 598.37 L570.13 599.57 L570.26 600.77 L570.39 601.97 L570.52 603.16 L570.65 604.36 L570.79 605.56 L570.92 606.76 L571.05 607.95 L571.19 609.15 L571.32 610.35 L571.45 611.55 L571.59 612.74 L571.73 613.94 L571.86 615.14 L572 616.33 L572.14 617.53 L572.28 618.73 L572.42 619.92 L572.56 621.12 L572.7 622.31 L572.84 623.51 L572.98 624.71 L573.12 625.9 L573.26 627.1 L573.41 628.29 L573.55 629.49 L573.7 630.68 L573.84 631.88 L573.99 633.07 L574.13 634.27 L574.28 635.46 L574.43 636.65 L574.58 637.85 L574.73 639.04 L574.88 640.24 L575.04 641.43 L575.19 642.62 L575.35 643.81 L575.5 645.01 L575.66 646.2 L575.82 647.39 L575.98 648.58 L576.14 649.77 L576.3 650.97 L576.47 652.16 L576.63 653.35 L576.8 654.54 L576.97 655.73 L577.14 656.92 L577.31 658.11 L577.48 659.3 L577.66 660.49 L577.83 661.67 L578.01 662.86 L578.19 664.05 L578.37 665.24 L578.56 666.43 L578.74 667.61 L578.93 668.8 L579.12 669.99 L579.31 671.17 L579.5 672.36 L579.7 673.54 L579.89 674.73 L580.09 675.91 L580.29 677.1 L580.5 678.28 L580.7 679.46 L580.91 680.65 L581.12 681.83 L581.33 683.01 L581.55 684.19 L581.77 685.38 L581.99 686.56 L582.21 687.74 L582.43 688.92 L582.66 690.1 L582.89 691.28 L583.12 692.46 L583.35 693.64 L583.59 694.81 L583.82 695.99 L584.06 697.17 L584.31 698.35 L584.55 699.52 L584.8 700.7 L585.05 701.87 L585.3 703.05 L585.55 704.22 L585.81 705.4 L586.07 706.57 L586.33 707.74 L586.59 708.92 L586.85 710.09 L587.12 711.26 L587.39 712.43 L587.66 713.6 L587.94 714.77 L588.21 715.94 L588.49 717.11 L588.77 718.28 L589.05 719.45 L589.34 720.62 L589.63 721.79 L589.92 722.95 L590.21 724.12 L590.5 725.28 L590.8 726.45 L591.1 727.61 L591.4 728.78 L591.7 729.94 L592.01 731.1 L592.32 732.27 L592.63 733.43 L592.94 734.59 L593.26 735.75 L593.57 736.91 L593.89 738.07 L594.21 739.23 L594.54 740.39 L594.86 741.55 L595.19 742.71 L595.52 743.86 L595.86 745.02 L596.19 746.17 L596.53 747.33 L596.87 748.48 L597.21 749.64 L597.56 750.79 L597.9 751.94 L598.25 753.1 L598.6 754.25 L598.96 755.4 L599.31 756.55 L599.67 757.7 L600.03 758.85 L600.39 759.99 L600.76 761.14 L601.12 762.29 L601.49 763.44 L601.86 764.58 L602.24 765.73 L602.61 766.87 L602.99 768.02 L603.37 769.16 L603.76 770.3 L604.14 771.44 L604.53 772.58 L604.92 773.72 L605.31 774.86 L605.7 776 L606.1 777.14 L606.5 778.28 L606.9 779.42 L607.3 780.55 L607.71 781.69 L608.12 782.82 L608.53 783.95 L608.94 785.09 L609.36 786.22 L609.78 787.35 L610.2 788.48 L610.63 789.6 L611.06 790.73 L611.49 791.85 L611.93 792.98 L612.37 794.1 L612.81 795.22 L613.26 796.34 L613.71 797.45 L614.16 798.57 L614.62 799.68 L615.08 800.79 L615.55 801.9 L616.02 803.01 L616.5 804.11 L616.98 805.21 L617.46 806.31 L617.95 807.41 L618.44 808.51 L618.94 809.6 L619.44 810.69 L619.95 811.78 L620.46 812.86 L620.98 813.95 L621.5 815.02 L622.03 816.1 L622.57 817.18 L623.11 818.25 L623.65 819.31 L624.2 820.38 L624.76 821.44 L625.32 822.5 L625.89 823.55 L626.46 824.61 L627.04 825.65 L627.63 826.7 L628.22 827.74 L628.82 828.78 L629.43 829.81 L630.04 830.84 L630.66 831.87 L631.29 832.89 L631.92 833.91 L632.56 834.93 L633.2 835.94 L633.86 836.94 L634.52 837.95 L635.19 838.94 L635.86 839.94 L636.55 840.93 L637.24 841.91 L637.93 842.89 L638.64 843.87 L639.35 844.84 L640.08 845.81 L640.8 846.77 L641.54 847.73 L642.28 848.68 L643.03 849.63 L643.78 850.58 L644.54 851.53 L645.3 852.47 L646.06 853.42 L646.82 854.36 L647.58 855.3 L648.34 856.25 L649.1 857.19 L649.85 858.14 L650.6 859.09 L651.35 860.04 L652.09 860.99 L652.83 861.95 L653.56 862.91 L654.28 863.87 L654.99 864.84 L655.69 865.82 L656.38 866.8 L657.06 867.79 L657.73 868.78 L658.39 869.79 L659.03 870.8 L659.65 871.82 L660.26 872.85 L660.86 873.88 L661.43 874.93 L661.99 875.99" stroke="#1f6e3a" stroke-width="3"/><path d="M584.24 875.04 L584.54 873.88 L584.84 872.72 L585.13 871.55 L585.43 870.39 L585.72 869.23 L586.01 868.06 L586.29 866.9 L586.58 865.73 L586.86 864.57 L587.14 863.4 L587.42 862.24 L587.7 861.07 L587.98 859.9 L588.25 858.73 L588.52 857.56 L588.79 856.39 L589.06 855.22 L589.32 854.05 L589.59 852.88 L589.85 851.7 L590.11 850.53 L590.37 849.36 L590.62 848.18 L590.88 847.01 L591.13 845.84 L591.38 844.66 L591.63 843.48 L591.88 842.31 L592.12 841.13 L592.36 839.95 L592.61 838.78 L592.84 837.6 L593.08 836.42 L593.32 835.24 L593.55 834.06 L593.79 832.88 L594.02 831.7 L594.24 830.52 L594.47 829.33 L594.7 828.15 L594.92 826.97 L595.14 825.79 L595.36 824.6 L595.58 823.42 L595.8 822.24 L596.01 821.05 L596.23 819.87 L596.44 818.68 L596.65 817.49 L596.86 816.31 L597.06 815.12 L597.27 813.94 L597.47 812.75 L597.67 811.56 L597.87 810.37 L598.07 809.18 L598.27 808 L598.47 806.81 L598.66 805.62 L598.85 804.43 L599.04 803.24 L599.23 802.05 L599.42 800.86 L599.6 799.67 L599.79 798.48 L599.97 797.28 L600.15 796.09 L600.33 794.9 L600.51 793.71 L600.69 792.52 L600.86 791.32 L601.04 790.13 L601.21 788.94 L601.38 787.74 L601.55 786.55 L601.72 785.36 L601.88 784.16 L602.05 782.97 L602.21 781.77 L602.38 780.58 L602.54 779.38 L602.7 778.19 L602.85 776.99 L603.01 775.8 L603.17 774.6 L603.32 773.41 L603.47 772.21 L603.62 771.01 L603.77 769.82 L603.92 768.62 L604.07 767.42 L604.22 766.23 L604.36 765.03 L604.5 763.83 L604.65 762.64 L604.79 761.44 L604.93 760.24 L605.06 759.04 L605.2 757.85 L605.34 756.65 L605.47 755.45 L605.6 754.25 L605.74 753.06 L605.87 751.86 L606 750.66 L606.12 749.46 L606.25 748.26 L606.38 747.07 L606.5 745.87 L606.63 744.67 L606.75 743.47 L606.87 742.27 L606.99 741.07 L607.11 739.88 L607.23 738.68 L607.34 737.48 L607.46 736.28 L607.57 735.08 L607.69 733.89 L607.8 732.69 L607.91 731.49 L608.02 730.29 L608.13 729.09 L608.24 727.9 L608.34 726.7 L608.45 725.5 L608.55 724.3 L608.66 723.1 L608.76 721.91 L608.86 720.71 L608.96 719.51 L609.06 718.31 L609.16 717.12 L609.26 715.92 L609.36 714.72 L609.45 713.53 L609.55 712.33 L609.64 711.13 L609.73 709.94 L609.82 708.74 L609.92 707.54 L610.01 706.35 L610.1 705.15 L610.18 703.95 L610.27 702.76 L610.36 701.56 L610.44 700.36 L610.53 699.17 L610.61 697.97 L610.7 696.77 L610.78 695.58 L610.86 694.38 L610.94 693.18 L611.02 691.99 L611.1 690.79 L611.18 689.59 L611.26 688.4 L611.33 687.2 L611.41 686 L611.48 684.81 L611.56 683.61 L611.63 682.41 L611.71 681.22 L611.78 680.02 L611.85 678.82 L611.92 677.62 L611.99 676.43 L612.06 675.23 L612.13 674.03 L612.2 672.83 L612.26 671.64 L612.33 670.44 L612.4 669.24 L612.46 668.04 L612.53 666.84 L612.59 665.64 L612.65 664.45 L612.72 663.25 L612.78 662.05 L612.84 660.85 L612.9 659.65 L612.96 658.45 L613.02 657.25 L613.08 656.05 L613.14 654.85 L613.2 653.65 L613.26 652.45 L613.31 651.25 L613.37 650.04 L613.43 648.84 L613.48 647.64 L613.54 646.44 L613.59 645.24 L613.65 644.03 L613.7 642.83 L613.75 641.63 L613.8 640.42 L613.86 639.22 L613.91 638.02 L613.96 636.81 L614.01 635.61 L614.06 634.4 L614.11 633.2 L614.16 631.99 L614.21 630.79 L614.26 629.58 L614.31 628.37 L614.36 627.17 L614.4 625.96 L614.45 624.75 L614.5 623.54 L614.55 622.34 L614.59 621.13 L614.64 619.92 L614.68 618.71 L614.73 617.5 L614.78 616.29 L614.82 615.08 L614.86 613.87 L614.91 612.65 L614.95 611.44 L615 610.23 L615.04 609.02 L615.08 607.8 L615.13 606.59 L615.17 605.38 L615.21 604.16 L615.26 602.95 L615.3 601.73 L615.34 600.51 L615.38 599.3 L615.42 598.08 L615.47 596.86 L615.51 595.64 L615.55 594.43 L615.59 593.21 L615.63 591.99 L615.67 590.77 L615.71 589.55 L615.75 588.33 L615.79 587.11 L615.83 585.89 L615.87 584.67 L615.92 583.45 L615.96 582.23 L616 581.02 L616.04 579.8 L616.08 578.58 L616.12 577.37 L616.16 576.15 L616.2 574.94 L616.24 573.72 L616.28 572.51 L616.32 571.3 L616.36 570.09 L616.4 568.88 L616.44 567.68 L616.48 566.47 L616.52 565.27 L616.57 564.07 L616.61 562.87 L616.65 561.67 L616.69 560.47 L616.73 559.28 L616.77 558.09 L616.82 556.9 L616.86 555.71 L616.9 554.52 L616.94 553.34 L616.99 552.16 L617.03 550.98 L617.07 549.81 L617.12 548.64 L617.16 547.47 L617.21 546.3 L617.25 545.14 L617.29 543.98 L617.34 542.82 L617.39 541.67 L617.43 540.52 L617.48 539.37 L617.52 538.23 L617.57 537.09 L617.62 535.95 L617.67 534.82 L617.71 533.69 L617.76 532.55 L617.81 531.42 L617.86 530.29 L617.91 529.15 L617.96 528 L618.01 526.85 L618.06 525.69 L618.11 524.52 L618.16 523.35 L618.21 522.16 L618.26 520.95 L618.31 519.74 L618.36 518.5 L618.41 517.25 L618.46 515.99 L618.51 514.7 L618.55 513.39 L618.6 512.06 L618.65 510.71 L618.7 509.33 L618.75 507.92 L618.8 506.49 L618.85 505.03 L618.9 503.54 L618.94 502.03 L618.99 500.52 L619.04 499.04 L619.09 497.59 L619.13 496.21 L619.18 494.91 L619.23 493.72 L619.29 492.65 L619.34 491.74 L619.39 490.99 L619.45 490.43 L619.51 490.08 L619.57 489.96 L619.64 490.08 L619.7 490.44 L619.77 491 L619.84 491.76 L619.91 492.68 L619.98 493.75 L620.05 494.95 L620.12 496.25 L620.2 497.63 L620.27 499.08 L620.34 500.57 L620.41 502.08 L620.48 503.59 L620.54 505.08 L620.61 506.54 L620.67 507.97 L620.73 509.37 L620.79 510.74 L620.85 512.09 L620.9 513.42 L620.96 514.72 L621.01 516.01 L621.06 517.27 L621.11 518.52 L621.15 519.74 L621.2 520.96 L621.24 522.15 L621.29 523.34 L621.33 524.51 L621.37 525.67 L621.4 526.83 L621.44 527.97 L621.48 529.11 L621.51 530.25 L621.54 531.38 L621.58 532.51 L621.61 533.64 L621.63 534.77 L621.66 535.9 L621.69 537.03 L621.72 538.17 L621.74 539.31 L621.77 540.46 L621.79 541.61 L621.81 542.76 L621.83 543.92 L621.85 545.08 L621.87 546.24 L621.89 547.41 L621.91 548.59 L621.93 549.76 L621.94 550.94 L621.96 552.12 L621.97 553.3 L621.99 554.49 L622 555.68 L622.01 556.87 L622.03 558.07 L622.04 559.27 L622.05 560.47 L622.06 561.67 L622.07 562.87 L622.08 564.08 L622.09 565.29 L622.1 566.5 L622.11 567.71 L622.12 568.92 L622.13 570.14 L622.14 571.35 L622.15 572.57 L622.16 573.79 L622.17 575.01 L622.17 576.23 L622.18 577.45 L622.19 578.67 L622.2 579.9 L622.21 581.12 L622.22 582.35 L622.22 583.57 L622.23 584.79 L622.24 586.02 L622.25 587.24 L622.26 588.47 L622.27 589.69 L622.28 590.92 L622.29 592.14 L622.3 593.37 L622.31 594.59 L622.32 595.81 L622.33 597.03 L622.35 598.26 L622.36 599.48 L622.37 600.7 L622.38 601.91 L622.4 603.13 L622.41 604.35 L622.43 605.57 L622.44 606.78 L622.46 608 L622.47 609.21 L622.49 610.42 L622.51 611.64 L622.52 612.85 L622.54 614.06 L622.56 615.27 L622.58 616.48 L622.6 617.69 L622.62 618.9 L622.63 620.11 L622.65 621.32 L622.67 622.52 L622.69 623.73 L622.71 624.94 L622.73 626.14 L622.76 627.35 L622.78 628.55 L622.8 629.76 L622.82 630.96 L622.84 632.16 L622.86 633.37 L622.89 634.57 L622.91 635.77 L622.93 636.97 L622.96 638.18 L622.98 639.38 L623 640.58 L623.03 641.78 L623.05 642.98 L623.07 644.18 L623.1 645.38 L623.12 646.58 L623.15 647.78 L623.17 648.98 L623.2 650.18 L623.22 651.37 L623.25 652.57 L623.27 653.77 L623.3 654.97 L623.32 656.17 L623.35 657.36 L623.37 658.56 L623.4 659.76 L623.42 660.96 L623.45 662.16 L623.48 663.35 L623.5 664.55 L623.53 665.75 L623.55 666.94 L623.58 668.14 L623.61 669.34 L623.63 670.54 L623.66 671.73 L623.68 672.93 L623.71 674.13 L623.73 675.33 L623.76 676.52 L623.79 677.72 L623.81 678.92 L623.84 680.12 L623.86 681.32 L623.89 682.51 L623.91 683.71 L623.94 684.91 L623.97 686.11 L623.99 687.31 L624.02 688.51 L624.04 689.71 L624.07 690.91 L624.09 692.11 L624.12 693.31 L624.14 694.51 L624.17 695.71 L624.19 696.91 L624.22 698.11 L624.24 699.31 L624.26 700.51 L624.29 701.71 L624.31 702.91 L624.34 704.11 L624.36 705.31 L624.39 706.51 L624.41 707.71 L624.44 708.92 L624.46 710.12 L624.48 711.32 L624.51 712.52 L624.53 713.72 L624.56 714.92 L624.58 716.13 L624.6 717.33 L624.63 718.53 L624.65 719.73 L624.68 720.93 L624.7 722.14 L624.72 723.34 L624.75 724.54 L624.77 725.74 L624.79 726.95 L624.82 728.15 L624.84 729.35 L624.86 730.56 L624.89 731.76 L624.91 732.96 L624.93 734.17 L624.96 735.37 L624.98 736.57 L625 737.78 L625.03 738.98 L625.05 740.18 L625.07 741.39 L625.1 742.59 L625.12 743.8 L625.14 745 L625.17 746.2 L625.19 747.41 L625.21 748.61 L625.23 749.82 L625.26 751.02 L625.28 752.22 L625.3 753.43 L625.33 754.63 L625.35 755.84 L625.37 757.04 L625.39 758.25 L625.42 759.45 L625.44 760.66 L625.46 761.86 L625.48 763.06 L625.51 764.27 L625.53 765.47 L625.55 766.68 L625.57 767.88 L625.6 769.09 L625.62 770.29 L625.64 771.5 L625.66 772.7 L625.68 773.91 L625.71 775.11 L625.73 776.32 L625.75 777.52 L625.77 778.73 L625.8 779.93 L625.82 781.14 L625.84 782.34 L625.86 783.55 L625.88 784.75 L625.91 785.96 L625.93 787.16 L625.95 788.37 L625.97 789.57 L625.99 790.77 L626.02 791.98 L626.04 793.18 L626.06 794.39 L626.08 795.59 L626.1 796.8 L626.13 798 L626.15 799.21 L626.17 800.41 L626.19 801.62 L626.21 802.82 L626.23 804.03 L626.26 805.23 L626.28 806.44 L626.3 807.64 L626.32 808.84 L626.34 810.05 L626.37 811.25 L626.39 812.46 L626.41 813.66 L626.43 814.87 L626.45 816.07 L626.47 817.27 L626.5 818.48 L626.52 819.68 L626.54 820.89 L626.56 822.09 L626.58 823.29 L626.6 824.5 L626.63 825.7 L626.65 826.91 L626.67 828.11 L626.69 829.31 L626.71 830.52 L626.73 831.72 L626.76 832.92 L626.78 834.13 L626.8 835.33 L626.82 836.53 L626.84 837.74 L626.86 838.94 L626.89 840.14 L626.91 841.34 L626.93 842.55 L626.95 843.75 L626.97 844.95 L627 846.15 L627.02 847.36 L627.04 848.56 L627.06 849.76 L627.08 850.96 L627.1 852.16 L627.13 853.37 L627.15 854.57 L627.17 855.77 L627.19 856.97 L627.21 858.17 L627.23 859.37 L627.26 860.58 L627.28 861.78 L627.3 862.98 L627.32 864.18 L627.34 865.38 L627.37 866.58 L627.39 867.78 L627.41 868.98 L627.43 870.18 L627.45 871.38 L627.48 872.58 L627.5 873.78 L627.52 874.98" stroke="#662d91" stroke-width="3"/></g><rect x="132.8" y="0.9" width="818.0" height="409.20000000000005" fill="none" stroke="#000" stroke-width="2.4"/><rect x="132.8" y="456.6" width="818.0" height="408.4" fill="none" stroke="#000" stroke-width="2.4"/><line x1="132.8" y1="409.77" x2="137.8" y2="409.77" stroke="#000" stroke-width="2"/><line x1="950.8" y1="409.77" x2="945.8" y2="409.77" stroke="#000" stroke-width="2"/><line x1="132.8" y1="401.2" x2="137.8" y2="401.2" stroke="#000" stroke-width="2"/><line x1="950.8" y1="401.2" x2="945.8" y2="401.2" stroke="#000" stroke-width="2"/><line x1="132.8" y1="393.96" x2="137.8" y2="393.96" stroke="#000" stroke-width="2"/><line x1="950.8" y1="393.96" x2="945.8" y2="393.96" stroke="#000" stroke-width="2"/><line x1="132.8" y1="387.69" x2="137.8" y2="387.69" stroke="#000" stroke-width="2"/><line x1="950.8" y1="387.69" x2="945.8" y2="387.69" stroke="#000" stroke-width="2"/><line x1="132.8" y1="382.15" x2="137.8" y2="382.15" stroke="#000" stroke-width="2"/><line x1="950.8" y1="382.15" x2="945.8" y2="382.15" stroke="#000" stroke-width="2"/><line x1="132.8" y1="377.2" x2="142" y2="377.2" stroke="#000" stroke-width="2"/><line x1="950.8" y1="377.2" x2="945.8" y2="377.2" stroke="#000" stroke-width="2"/><line x1="132.8" y1="344.63" x2="137.8" y2="344.63" stroke="#000" stroke-width="2"/><line x1="950.8" y1="344.63" x2="945.8" y2="344.63" stroke="#000" stroke-width="2"/><line x1="132.8" y1="325.58" x2="137.8" y2="325.58" stroke="#000" stroke-width="2"/><line x1="950.8" y1="325.58" x2="945.8" y2="325.58" stroke="#000" stroke-width="2"/><line x1="132.8" y1="312.06" x2="137.8" y2="312.06" stroke="#000" stroke-width="2"/><line x1="950.8" y1="312.06" x2="945.8" y2="312.06" stroke="#000" stroke-width="2"/><line x1="132.8" y1="301.57" x2="137.8" y2="301.57" stroke="#000" stroke-width="2"/><line x1="950.8" y1="301.57" x2="945.8" y2="301.57" stroke="#000" stroke-width="2"/><line x1="132.8" y1="293" x2="137.8" y2="293" stroke="#000" stroke-width="2"/><line x1="950.8" y1="293" x2="945.8" y2="293" stroke="#000" stroke-width="2"/><line x1="132.8" y1="285.76" x2="137.8" y2="285.76" stroke="#000" stroke-width="2"/><line x1="950.8" y1="285.76" x2="945.8" y2="285.76" stroke="#000" stroke-width="2"/><line x1="132.8" y1="279.49" x2="137.8" y2="279.49" stroke="#000" stroke-width="2"/><line x1="950.8" y1="279.49" x2="945.8" y2="279.49" stroke="#000" stroke-width="2"/><line x1="132.8" y1="273.95" x2="137.8" y2="273.95" stroke="#000" stroke-width="2"/><line x1="950.8" y1="273.95" x2="945.8" y2="273.95" stroke="#000" stroke-width="2"/><line x1="132.8" y1="269" x2="142" y2="269" stroke="#000" stroke-width="2"/><line x1="950.8" y1="269" x2="941.6" y2="269" stroke="#000" stroke-width="2"/><line x1="132.8" y1="236.43" x2="137.8" y2="236.43" stroke="#000" stroke-width="2"/><line x1="950.8" y1="236.43" x2="945.8" y2="236.43" stroke="#000" stroke-width="2"/><line x1="132.8" y1="217.38" x2="137.8" y2="217.38" stroke="#000" stroke-width="2"/><line x1="950.8" y1="217.38" x2="945.8" y2="217.38" stroke="#000" stroke-width="2"/><line x1="132.8" y1="203.86" x2="137.8" y2="203.86" stroke="#000" stroke-width="2"/><line x1="950.8" y1="203.86" x2="945.8" y2="203.86" stroke="#000" stroke-width="2"/><line x1="132.8" y1="193.37" x2="137.8" y2="193.37" stroke="#000" stroke-width="2"/><line x1="950.8" y1="193.37" x2="945.8" y2="193.37" stroke="#000" stroke-width="2"/><line x1="132.8" y1="184.8" x2="137.8" y2="184.8" stroke="#000" stroke-width="2"/><line x1="950.8" y1="184.8" x2="945.8" y2="184.8" stroke="#000" stroke-width="2"/><line x1="132.8" y1="177.56" x2="137.8" y2="177.56" stroke="#000" stroke-width="2"/><line x1="950.8" y1="177.56" x2="945.8" y2="177.56" stroke="#000" stroke-width="2"/><line x1="132.8" y1="171.29" x2="137.8" y2="171.29" stroke="#000" stroke-width="2"/><line x1="950.8" y1="171.29" x2="945.8" y2="171.29" stroke="#000" stroke-width="2"/><line x1="132.8" y1="165.75" x2="137.8" y2="165.75" stroke="#000" stroke-width="2"/><line x1="950.8" y1="165.75" x2="945.8" y2="165.75" stroke="#000" stroke-width="2"/><line x1="132.8" y1="160.8" x2="142" y2="160.8" stroke="#000" stroke-width="2"/><line x1="950.8" y1="160.8" x2="945.8" y2="160.8" stroke="#000" stroke-width="2"/><line x1="132.8" y1="128.23" x2="137.8" y2="128.23" stroke="#000" stroke-width="2"/><line x1="950.8" y1="128.23" x2="945.8" y2="128.23" stroke="#000" stroke-width="2"/><line x1="132.8" y1="109.18" x2="137.8" y2="109.18" stroke="#000" stroke-width="2"/><line x1="950.8" y1="109.18" x2="945.8" y2="109.18" stroke="#000" stroke-width="2"/><line x1="132.8" y1="95.66" x2="137.8" y2="95.66" stroke="#000" stroke-width="2"/><line x1="950.8" y1="95.66" x2="945.8" y2="95.66" stroke="#000" stroke-width="2"/><line x1="132.8" y1="85.17" x2="137.8" y2="85.17" stroke="#000" stroke-width="2"/><line x1="950.8" y1="85.17" x2="945.8" y2="85.17" stroke="#000" stroke-width="2"/><line x1="132.8" y1="76.6" x2="137.8" y2="76.6" stroke="#000" stroke-width="2"/><line x1="950.8" y1="76.6" x2="945.8" y2="76.6" stroke="#000" stroke-width="2"/><line x1="132.8" y1="69.36" x2="137.8" y2="69.36" stroke="#000" stroke-width="2"/><line x1="950.8" y1="69.36" x2="945.8" y2="69.36" stroke="#000" stroke-width="2"/><line x1="132.8" y1="63.09" x2="137.8" y2="63.09" stroke="#000" stroke-width="2"/><line x1="950.8" y1="63.09" x2="945.8" y2="63.09" stroke="#000" stroke-width="2"/><line x1="132.8" y1="57.55" x2="137.8" y2="57.55" stroke="#000" stroke-width="2"/><line x1="950.8" y1="57.55" x2="945.8" y2="57.55" stroke="#000" stroke-width="2"/><line x1="132.8" y1="52.6" x2="142" y2="52.6" stroke="#000" stroke-width="2"/><line x1="950.8" y1="52.6" x2="941.6" y2="52.6" stroke="#000" stroke-width="2"/><line x1="132.8" y1="20.03" x2="137.8" y2="20.03" stroke="#000" stroke-width="2"/><line x1="950.8" y1="20.03" x2="945.8" y2="20.03" stroke="#000" stroke-width="2"/><line x1="132.8" y1="0.98" x2="137.8" y2="0.98" stroke="#000" stroke-width="2"/><line x1="950.8" y1="0.98" x2="945.8" y2="0.98" stroke="#000" stroke-width="2"/><line x1="132.8" y1="865.35" x2="137.8" y2="865.35" stroke="#000" stroke-width="2"/><line x1="950.8" y1="865.35" x2="945.8" y2="865.35" stroke="#000" stroke-width="2"/><line x1="132.8" y1="847.16" x2="137.8" y2="847.16" stroke="#000" stroke-width="2"/><line x1="950.8" y1="847.16" x2="945.8" y2="847.16" stroke="#000" stroke-width="2"/><line x1="132.8" y1="831.78" x2="137.8" y2="831.78" stroke="#000" stroke-width="2"/><line x1="950.8" y1="831.78" x2="945.8" y2="831.78" stroke="#000" stroke-width="2"/><line x1="132.8" y1="818.46" x2="137.8" y2="818.46" stroke="#000" stroke-width="2"/><line x1="950.8" y1="818.46" x2="945.8" y2="818.46" stroke="#000" stroke-width="2"/><line x1="132.8" y1="806.71" x2="137.8" y2="806.71" stroke="#000" stroke-width="2"/><line x1="950.8" y1="806.71" x2="945.8" y2="806.71" stroke="#000" stroke-width="2"/><line x1="132.8" y1="796.2" x2="142" y2="796.2" stroke="#000" stroke-width="2"/><line x1="950.8" y1="796.2" x2="941.6" y2="796.2" stroke="#000" stroke-width="2"/><line x1="132.8" y1="727.05" x2="137.8" y2="727.05" stroke="#000" stroke-width="2"/><line x1="950.8" y1="727.05" x2="945.8" y2="727.05" stroke="#000" stroke-width="2"/><line x1="132.8" y1="686.61" x2="137.8" y2="686.61" stroke="#000" stroke-width="2"/><line x1="950.8" y1="686.61" x2="945.8" y2="686.61" stroke="#000" stroke-width="2"/><line x1="132.8" y1="657.91" x2="137.8" y2="657.91" stroke="#000" stroke-width="2"/><line x1="950.8" y1="657.91" x2="945.8" y2="657.91" stroke="#000" stroke-width="2"/><line x1="132.8" y1="635.65" x2="137.8" y2="635.65" stroke="#000" stroke-width="2"/><line x1="950.8" y1="635.65" x2="945.8" y2="635.65" stroke="#000" stroke-width="2"/><line x1="132.8" y1="617.46" x2="137.8" y2="617.46" stroke="#000" stroke-width="2"/><line x1="950.8" y1="617.46" x2="945.8" y2="617.46" stroke="#000" stroke-width="2"/><line x1="132.8" y1="602.08" x2="137.8" y2="602.08" stroke="#000" stroke-width="2"/><line x1="950.8" y1="602.08" x2="945.8" y2="602.08" stroke="#000" stroke-width="2"/><line x1="132.8" y1="588.76" x2="137.8" y2="588.76" stroke="#000" stroke-width="2"/><line x1="950.8" y1="588.76" x2="945.8" y2="588.76" stroke="#000" stroke-width="2"/><line x1="132.8" y1="577.01" x2="137.8" y2="577.01" stroke="#000" stroke-width="2"/><line x1="950.8" y1="577.01" x2="945.8" y2="577.01" stroke="#000" stroke-width="2"/><line x1="132.8" y1="566.5" x2="142" y2="566.5" stroke="#000" stroke-width="2"/><line x1="950.8" y1="566.5" x2="941.6" y2="566.5" stroke="#000" stroke-width="2"/><line x1="132.8" y1="497.35" x2="137.8" y2="497.35" stroke="#000" stroke-width="2"/><line x1="950.8" y1="497.35" x2="945.8" y2="497.35" stroke="#000" stroke-width="2"/><line x1="132.8" y1="456.91" x2="137.8" y2="456.91" stroke="#000" stroke-width="2"/><line x1="950.8" y1="456.91" x2="945.8" y2="456.91" stroke="#000" stroke-width="2"/><line x1="405.47" y1="0.9" x2="405.47" y2="7.4" stroke="#000" stroke-width="2"/><line x1="405.47" y1="410.1" x2="405.47" y2="403.6" stroke="#000" stroke-width="2"/><line x1="678.13" y1="0.9" x2="678.13" y2="7.4" stroke="#000" stroke-width="2"/><line x1="678.13" y1="410.1" x2="678.13" y2="403.6" stroke="#000" stroke-width="2"/><line x1="405.47" y1="456.6" x2="405.47" y2="463.1" stroke="#000" stroke-width="2"/><line x1="405.47" y1="865.0" x2="405.47" y2="858.5" stroke="#000" stroke-width="2"/><line x1="678.13" y1="456.6" x2="678.13" y2="463.1" stroke="#000" stroke-width="2"/><line x1="678.13" y1="865.0" x2="678.13" y2="858.5" stroke="#000" stroke-width="2"/><g transform="translate(68.86,63.20) scale(0.9241,1.0000)"><text x="0" y="0" font-size="36.4" font-weight="normal" fill="#231f20" stroke="#231f20" stroke-width="0.35">10</text></g><g transform="translate(106.55,51.80) scale(1.0000,1.0000)"><text x="0" y="0" font-size="21" font-weight="normal" fill="#231f20" stroke="#231f20" stroke-width="0.35">0</text></g><g transform="translate(62.12,171.50) scale(0.9379,1.0000)"><text x="0" y="0" font-size="36.4" font-weight="normal" fill="#231f20" stroke="#231f20" stroke-width="0.35">10</text></g><g transform="translate(99.12,159.70) scale(0.8836,1.0000)"><text x="0" y="0" font-size="21" font-weight="normal" fill="#231f20" stroke="#231f20" stroke-width="0.35">-1</text></g><g transform="translate(62.27,280.00) scale(0.9214,1.0000)"><text x="0" y="0" font-size="36.4" font-weight="normal" fill="#231f20" stroke="#231f20" stroke-width="0.35">10</text></g><g transform="translate(99.39,268.50) scale(1.0061,1.0000)"><text x="0" y="0" font-size="21" font-weight="normal" fill="#231f20" stroke="#231f20" stroke-width="0.35">-2</text></g><g transform="translate(62.55,387.90) scale(0.9269,1.0000)"><text x="0" y="0" font-size="36.4" font-weight="normal" fill="#231f20" stroke="#231f20" stroke-width="0.35">10</text></g><g transform="translate(99.19,376.60) scale(1.0090,1.0000)"><text x="0" y="0" font-size="21" font-weight="normal" fill="#231f20" stroke="#231f20" stroke-width="0.35">-3</text></g><g transform="translate(68.86,575.20) scale(0.9241,1.0000)"><text x="0" y="0" font-size="36.4" font-weight="normal" fill="#231f20" stroke="#231f20" stroke-width="0.35">10</text></g><g transform="translate(106.55,563.60) scale(1.0000,1.0000)"><text x="0" y="0" font-size="21" font-weight="normal" fill="#231f20" stroke="#231f20" stroke-width="0.35">0</text></g><g transform="translate(62.44,806.80) scale(0.9297,1.0000)"><text x="0" y="0" font-size="36.4" font-weight="normal" fill="#231f20" stroke="#231f20" stroke-width="0.35">10</text></g><g transform="translate(99.34,795.60) scale(0.8597,1.0000)"><text x="0" y="0" font-size="21" font-weight="normal" fill="#231f20" stroke="#231f20" stroke-width="0.35">-1</text></g><g transform="translate(93.45,907.80) scale(0.9675,1.0000)"><text x="0" y="0" font-size="36.4" font-weight="normal" fill="#231f20" stroke="#231f20" stroke-width="0.35">-0.35</text></g><g transform="translate(372.63,907.80) scale(0.9782,1.0000)"><text x="0" y="0" font-size="36.4" font-weight="normal" fill="#231f20" stroke="#231f20" stroke-width="0.35">-0.3</text></g><g transform="translate(626.24,907.80) scale(0.9712,1.0000)"><text x="0" y="0" font-size="36.4" font-weight="normal" fill="#231f20" stroke="#231f20" stroke-width="0.35">-0.25</text></g><g transform="translate(910.36,907.80) scale(0.9620,1.0000)"><text x="0" y="0" font-size="36.4" font-weight="normal" fill="#231f20" stroke="#231f20" stroke-width="0.35">-0.2</text></g><g transform="translate(349.35,962.20) scale(0.9512,1.0000)"><text x="0" y="0" font-size="36.4" font-weight="normal" fill="#231f20" stroke="#231f20" stroke-width="0.35">Frequency detuning Δω/Γ</text></g><g transform="translate(742.44,973.30) scale(1.0100,1.0000)"><text x="0" y="0" font-size="21" font-weight="normal" fill="#231f20" stroke="#231f20" stroke-width="0.35">0</text></g><g transform="translate(25.4,771.5) rotate(-90) scale(0.9544,1)"><text x="-3" y="0" font-size="36.4" font-weight="normal" fill="#231f20" stroke="#231f20" stroke-width="0.35">Normalized scattering cross section, σ</text></g><g transform="translate(37,185.8) rotate(-90) scale(0.9478,1)"><text x="-0.25" y="0" font-size="21" font-weight="normal" fill="#231f20" stroke="#231f20" stroke-width="0.35">tot</text></g><g transform="translate(25.4,163.1) rotate(-90) scale(0.9219,1)"><text x="-0" y="0" font-size="36.4" font-weight="normal" fill="#231f20" stroke="#231f20" stroke-width="0.35">/σ</text></g><g transform="translate(37.4,132.2) rotate(-90) scale(0.9300,1)"><text x="-0.75" y="0" font-size="21" font-weight="normal" fill="#231f20" stroke="#231f20" stroke-width="0.35">0</text></g><g transform="translate(145.41,38.37) scale(0.9927,0.9975)"><text x="0" y="0" font-size="42.4" font-weight="bold" fill="#000">(a)</text></g><g transform="translate(145.42,500.83) scale(0.9920,1.0025)"><text x="0" y="0" font-size="42.4" font-weight="bold" fill="#000">(b)</text></g><g transform="translate(240.14,109.40) scale(0.9548,1.0000)"><text x="0" y="0" font-size="36.4" font-weight="normal" fill="#231f20" stroke="#231f20" stroke-width="0.35">Re E</text></g><g transform="translate(317.15,120.60) scale(1.1314,1.0000)"><text x="0" y="0" font-size="21" font-weight="normal" fill="#231f20" stroke="#231f20" stroke-width="0.35">z</text></g><g transform="translate(327.28,97.80) scale(1.0141,1.0000)"><text x="0" y="0" font-size="21" font-weight="normal" fill="#231f20" stroke="#231f20" stroke-width="0.35">inc</text></g><g transform="translate(244.26,561.00) scale(0.9469,1.0000)"><text x="0" y="0" font-size="36.4" font-weight="normal" fill="#231f20" stroke="#231f20" stroke-width="0.35">Re E</text></g><g transform="translate(320.42,571.80) scale(1.1771,1.0000)"><text x="0" y="0" font-size="21" font-weight="normal" fill="#231f20" stroke="#231f20" stroke-width="0.35">z</text></g><g transform="translate(330.67,549.30) scale(1.0182,1.0000)"><text x="0" y="0" font-size="21" font-weight="normal" fill="#231f20" stroke="#231f20" stroke-width="0.35">inc</text></g><g transform="translate(744.91,263.50) scale(0.9298,1.0000)"><text x="0" y="0" font-size="36.4" font-weight="normal" fill="#231f20" stroke="#231f20" stroke-width="0.35">ã = 0.281</text></g><g transform="translate(744.26,719.30) scale(0.9589,1.0000)"><text x="0" y="0" font-size="36.4" font-weight="normal" fill="#231f20" stroke="#231f20" stroke-width="0.35">ã = 0.268</text></g><path transform="translate(729.6,58.4)" d="M1.6 0 V8.2 A9.0 9.2 0 0 0 19.6 8.2 V0 M10.6 0 V25.2" fill="none" stroke="#10915a" stroke-width="3.2"/><path transform="translate(541.4,175)" d="M1.6 0 V8.2 A9.0 9.2 0 0 0 19.6 8.2 V0 M10.6 0 V25.2" fill="none" stroke="#662d91" stroke-width="3.2"/><path transform="translate(466,278.4)" d="M1.6 0 V8.2 A9.0 9.2 0 0 0 19.6 8.2 V0 M10.6 0 V25.2" fill="none" stroke="#92278f" stroke-width="3.2"/><path transform="translate(426.4,495.8)" d="M1.6 0 V8.2 A9.0 9.2 0 0 0 19.6 8.2 V0 M10.6 0 V25.2" fill="none" stroke="#1f6e3a" stroke-width="3.2"/><path transform="translate(650.8,504.1)" d="M1.6 0 V8.2 A9.0 9.2 0 0 0 19.6 8.2 V0 M10.6 0 V25.2" fill="none" stroke="#662d91" stroke-width="3.2"/><path transform="translate(365.4,801.7)" d="M1.6 0 V8.2 A9.0 9.2 0 0 0 19.6 8.2 V0 M10.6 0 V25.2" fill="none" stroke="#92278f" stroke-width="3.2"/><path transform="translate(155.4,832.4)" d="M1.6 0 V8.2 A9.0 9.2 0 0 0 19.6 8.2 V0 M10.6 0 V25.2" fill="none" stroke="#e9572a" stroke-width="3.2"/><g transform="translate(753.07,65.25) scale(0.9811,1.0000)"><text x="0" y="0" font-size="21" font-weight="normal" fill="#10915a" stroke="#10915a" stroke-width="0.35">(N,N)</text></g><g transform="translate(564.59,182.45) scale(0.9706,1.0000)"><text x="0" y="0" font-size="21" font-weight="normal" fill="#662d91" stroke="#662d91" stroke-width="0.35">(N,N-2)</text></g><g transform="translate(489.59,285.15) scale(0.9706,1.0000)"><text x="0" y="0" font-size="21" font-weight="normal" fill="#92278f" stroke="#92278f" stroke-width="0.35">(N,N-4)</text></g><g transform="translate(448.37,502.75) scale(0.9812,1.0000)"><text x="0" y="0" font-size="21" font-weight="normal" fill="#1f6e3a" stroke="#1f6e3a" stroke-width="0.35">(N-1,N-1)</text></g><g transform="translate(673.89,511.50) scale(0.9675,1.0000)"><text x="0" y="0" font-size="21" font-weight="normal" fill="#662d91" stroke="#662d91" stroke-width="0.35">(N,N-2)</text></g><g transform="translate(387.97,808.65) scale(0.9811,1.0000)"><text x="0" y="0" font-size="21" font-weight="normal" fill="#92278f" stroke="#92278f" stroke-width="0.35">(N,N-4)</text></g><g transform="translate(177.88,839.45) scale(0.9776,1.0000)"><text x="0" y="0" font-size="21" font-weight="normal" fill="#e9572a" stroke="#e9572a" stroke-width="0.35">(N-1,N-3)</text></g><rect x="633.4" y="169.1" width="9.2" height="2.2" fill="#662d91"/><rect x="558.4" y="272.5" width="9.2" height="2.2" fill="#92278f"/><rect x="742.9" y="498.5" width="9.3" height="2.2" fill="#662d91"/><rect x="457.4" y="796.0" width="9.3" height="2.2" fill="#92278f"/><rect x="263.8" y="827.7" width="9.2" height="2.2" fill="#e9572a"/></svg>
</body></html>
